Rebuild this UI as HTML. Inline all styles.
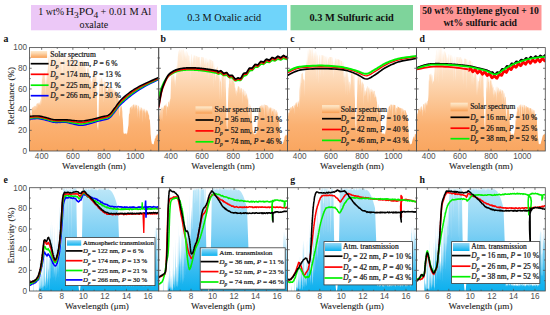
<!DOCTYPE html><html><head><meta charset="utf-8"><style>
html,body{margin:0;padding:0;background:#fff;}body{width:550px;height:315px;overflow:hidden;}
svg{display:block;}
.sr{font-family:"Liberation Serif",serif;}.srs{font-family:"Liberation Serif",serif;stroke:#222;stroke-width:0.22px;}.sra{font-family:"Liberation Serif",serif;stroke:#333;stroke-width:0.1px;}.ss{font-family:"Liberation Sans",sans-serif;}
</style></head><body>
<svg width="550" height="315" viewBox="0 0 550 315">
<defs>
<linearGradient id="gOr" x1="0" y1="47.6" x2="0" y2="151.0" gradientUnits="userSpaceOnUse">
<stop offset="0" stop-color="#fff3e6"/><stop offset="0.5" stop-color="#fcc898"/><stop offset="0.75" stop-color="#fbb172"/><stop offset="1" stop-color="#f9a660"/></linearGradient>
<linearGradient id="gBl" x1="0" y1="187.7" x2="0" y2="291.0" gradientUnits="userSpaceOnUse">
<stop offset="0" stop-color="#bde7f8"/><stop offset="0.45" stop-color="#7ccff4"/><stop offset="1" stop-color="#0cb0ee"/></linearGradient>
<linearGradient id="gOrL" x1="0" y1="0" x2="0" y2="1"><stop offset="0" stop-color="#feeacd"/><stop offset="0.35" stop-color="#fcd5aa"/><stop offset="1" stop-color="#f89e52"/></linearGradient>
<linearGradient id="gBlL" x1="0" y1="0" x2="0" y2="1"><stop offset="0" stop-color="#98d9f6"/><stop offset="1" stop-color="#0cb3f0"/></linearGradient>
<clipPath id="ct0"><rect x="29.5" y="47.6" width="129.2" height="103.4"/></clipPath>
<clipPath id="cb0"><rect x="29.5" y="187.7" width="129.2" height="103.3"/></clipPath>
<clipPath id="ct1"><rect x="158.7" y="47.6" width="128.8" height="103.4"/></clipPath>
<clipPath id="cb1"><rect x="158.7" y="187.7" width="128.8" height="103.3"/></clipPath>
<clipPath id="ct2"><rect x="287.5" y="47.6" width="129.0" height="103.4"/></clipPath>
<clipPath id="cb2"><rect x="287.5" y="187.7" width="129.0" height="103.3"/></clipPath>
<clipPath id="ct3"><rect x="416.5" y="47.6" width="128.8" height="103.4"/></clipPath>
<clipPath id="cb3"><rect x="416.5" y="187.7" width="128.8" height="103.3"/></clipPath>
</defs>
<rect x="31" y="5" width="126" height="25.3" fill="#ecc8f7"/>
<rect x="161" y="5" width="126" height="25.3" fill="#6fd4fa"/>
<rect x="290.5" y="5" width="122.5" height="25.3" fill="#7ed49b"/>
<rect x="420" y="5" width="121.5" height="25.3" fill="#ff9595"/>
<text class="sr" x="38.20" y="14.90" font-size="10.20" text-anchor="start" textLength="25.8" lengthAdjust="spacingAndGlyphs" fill="#111">1 wt%</text>
<text class="sr" x="65.80" y="14.90" font-size="10.40" text-anchor="start" textLength="32.4" lengthAdjust="spacingAndGlyphs" fill="#111">H<tspan font-size="8.6" dy="2.7">3</tspan><tspan dy="-2.7">PO</tspan><tspan font-size="8.6" dy="2.7">4</tspan></text>
<text class="sr" x="100.50" y="14.90" font-size="10.40" text-anchor="start" textLength="50.6" lengthAdjust="spacingAndGlyphs" fill="#111">+ 0.01 M Al</text>
<text class="sr" x="79.40" y="28.00" font-size="10.00" text-anchor="start" textLength="28.8" lengthAdjust="spacingAndGlyphs" fill="#111">oxalate</text>
<text class="sr" x="187.20" y="21.20" font-size="10.20" text-anchor="start" textLength="74.0" lengthAdjust="spacingAndGlyphs" fill="#111">0.3 M Oxalic acid</text>
<text class="sr" x="309.40" y="20.60" font-size="10.20" font-weight="bold" text-anchor="start" textLength="84.4" lengthAdjust="spacingAndGlyphs" fill="#111">0.3 M Sulfuric acid</text>
<text class="sr" x="422.20" y="14.30" font-size="10.00" font-weight="bold" text-anchor="start" textLength="116.6" lengthAdjust="spacingAndGlyphs" fill="#111">50 wt% Ethylene glycol + 10</text>
<text class="sr" x="443.40" y="26.10" font-size="10.00" font-weight="bold" text-anchor="start" textLength="73.6" lengthAdjust="spacingAndGlyphs" fill="#111">wt% sulfuric acid</text>
<text class="sr" x="3.6" y="41.7" font-size="9.8" font-weight="bold" fill="#111">a</text>
<text class="sr" x="160.6" y="41.7" font-size="9.8" font-weight="bold" fill="#111">b</text>
<text class="sr" x="290.2" y="41.7" font-size="9.8" font-weight="bold" fill="#111">c</text>
<text class="sr" x="419.4" y="41.7" font-size="9.8" font-weight="bold" fill="#111">d</text>
<text class="sr" x="3.6" y="182.8" font-size="9.8" font-weight="bold" fill="#111">e</text>
<text class="sr" x="160.8" y="182.6" font-size="9.8" font-weight="bold" fill="#111">f</text>
<text class="sr" x="290.2" y="182.6" font-size="9.8" font-weight="bold" fill="#111">g</text>
<text class="sr" x="419.4" y="182.6" font-size="9.8" font-weight="bold" fill="#111">h</text>
<polygon points="29.50,151.00 29.50,119.98 29.69,118.43 29.87,116.88 30.06,115.33 30.25,113.78 30.44,112.23 30.62,113.15 30.81,109.56 31.00,109.31 31.18,113.51 31.37,120.77 31.56,108.56 31.75,122.99 31.93,108.07 32.12,107.82 32.31,107.57 32.50,107.53 32.68,107.32 32.87,110.12 33.06,107.23 33.24,106.95 33.43,111.29 33.62,106.70 33.81,106.58 33.99,106.46 34.18,106.33 34.37,106.21 34.55,111.46 34.74,105.96 34.93,105.83 35.12,105.71 35.30,106.84 35.49,105.81 35.68,105.17 35.86,109.61 36.05,110.00 36.24,104.43 36.43,107.62 36.61,103.93 36.80,103.68 36.99,103.44 37.18,103.73 37.36,103.19 37.55,103.06 37.74,103.44 37.92,108.39 38.11,102.69 38.30,104.00 38.49,102.79 38.67,102.32 38.86,105.47 39.05,103.19 39.23,101.95 39.42,105.62 39.61,104.19 39.80,103.17 39.98,101.45 40.17,101.16 40.36,105.90 40.54,102.34 40.73,99.30 40.92,98.68 41.11,104.34 41.29,99.10 41.48,92.68 41.67,88.17 41.86,81.30 42.04,74.48 42.23,80.00 42.42,78.65 42.60,74.48 42.79,74.48 42.98,74.48 43.17,74.48 43.35,75.74 43.54,74.07 43.73,73.82 43.91,75.34 44.10,73.33 44.29,73.08 44.48,81.74 44.66,72.58 44.85,72.75 45.04,74.70 45.22,100.43 45.41,82.09 45.60,84.06 45.79,77.71 45.97,80.22 46.16,79.70 46.35,86.31 46.54,78.45 46.72,76.22 46.91,73.99 47.10,80.48 47.28,69.68 47.47,71.76 47.66,70.36 47.85,68.87 48.03,65.07 48.22,59.80 48.41,58.44 48.59,57.07 48.78,55.71 48.97,54.34 49.16,53.39 49.34,83.27 49.53,50.62 49.72,50.37 49.90,72.58 50.09,49.87 50.28,49.63 50.47,61.57 50.65,68.60 50.84,48.88 51.03,48.63 51.22,48.76 51.40,48.88 51.59,49.01 51.78,49.13 51.96,57.62 52.15,49.38 52.34,49.50 52.53,59.24 52.71,49.50 52.90,49.25 53.09,49.01 53.27,55.91 53.46,48.51 53.65,71.25 53.84,48.01 54.02,47.77 54.21,47.81 54.40,57.47 54.58,49.05 54.77,59.86 54.96,76.73 55.15,71.97 55.33,51.53 55.52,60.43 55.71,52.77 55.90,52.52 56.08,52.27 56.27,52.16 56.46,59.85 56.64,53.55 56.83,51.28 57.02,51.03 57.21,61.51 57.39,58.87 57.58,56.28 57.77,51.36 57.95,51.61 58.14,51.86 58.33,59.03 58.52,53.97 58.70,52.60 58.89,52.94 59.08,53.43 59.26,53.93 59.45,54.42 59.64,56.87 59.83,55.42 60.01,58.36 60.20,63.51 60.39,56.91 60.58,66.05 60.76,56.16 60.95,55.79 61.14,56.47 61.32,55.04 61.51,78.56 61.70,54.30 61.89,63.15 62.07,58.51 62.26,54.01 62.45,82.26 62.63,55.89 62.82,75.66 63.01,61.80 63.20,54.63 63.38,54.76 63.57,54.86 63.76,54.92 63.94,60.46 64.13,55.17 64.32,55.11 64.51,55.17 64.69,58.36 64.88,63.30 65.07,55.35 65.26,55.42 65.44,55.48 65.63,64.61 65.82,55.60 66.00,86.78 66.19,55.73 66.38,60.97 66.57,55.85 66.75,55.91 66.94,62.46 67.13,56.04 67.31,56.10 67.50,56.16 67.69,56.22 67.88,56.29 68.06,64.55 68.25,56.41 68.44,56.47 68.62,56.53 68.81,66.79 69.00,56.66 69.19,56.72 69.37,56.78 69.56,56.84 69.75,67.18 69.94,56.91 70.12,57.84 70.31,63.12 70.50,56.91 70.68,56.91 70.87,83.55 71.06,83.25 71.25,60.69 71.43,56.91 71.62,58.58 71.81,56.91 71.99,56.91 72.18,56.91 72.37,56.91 72.56,56.91 72.74,56.91 72.93,56.93 73.12,64.27 73.30,57.05 73.49,65.32 73.68,57.17 73.87,57.24 74.05,57.30 74.24,57.36 74.43,61.70 74.62,57.49 74.80,57.55 74.99,67.14 75.18,57.67 75.36,57.73 75.55,57.80 75.74,63.85 75.93,57.92 76.11,57.98 76.30,89.58 76.49,58.11 76.67,67.09 76.86,58.23 77.05,58.29 77.24,58.35 77.42,75.87 77.61,69.10 77.80,58.54 77.98,63.85 78.17,63.47 78.36,58.73 78.55,58.79 78.73,58.85 78.92,61.03 79.11,58.97 79.30,59.04 79.48,67.69 79.67,65.40 79.86,66.79 80.04,63.20 80.23,59.35 80.42,67.44 80.61,65.08 80.79,61.70 80.98,59.59 81.17,63.77 81.35,65.52 81.54,62.02 81.73,59.84 81.92,59.90 82.10,59.97 82.29,60.05 82.48,60.17 82.66,60.30 82.85,68.47 83.04,60.55 83.23,60.67 83.41,64.20 83.60,60.92 83.79,71.82 83.98,61.17 84.16,63.87 84.35,61.41 84.54,62.58 84.72,61.66 84.91,70.24 85.10,66.22 85.29,62.03 85.47,70.38 85.66,67.59 85.85,70.90 86.03,74.21 86.22,81.98 86.41,77.24 86.60,75.17 86.78,73.11 86.97,71.71 87.16,69.34 87.34,68.07 87.53,67.76 87.72,67.45 87.91,69.00 88.09,75.32 88.28,66.52 88.47,66.21 88.66,69.02 88.84,68.20 89.03,69.19 89.22,70.18 89.40,75.65 89.59,72.17 89.78,78.77 89.97,93.01 90.15,75.15 90.34,80.22 90.53,77.13 90.71,79.83 90.90,83.40 91.09,101.98 91.28,80.39 91.46,81.10 91.65,81.81 91.84,82.52 92.02,86.61 92.21,79.91 92.40,78.21 92.59,76.50 92.77,83.13 92.96,73.09 93.15,71.38 93.34,71.38 93.52,79.95 93.71,71.38 93.90,71.38 94.08,71.38 94.27,71.38 94.46,78.29 94.65,80.90 94.83,71.38 95.02,81.29 95.21,71.38 95.39,71.38 95.58,80.41 95.77,71.38 95.96,77.69 96.14,71.38 96.33,74.07 96.52,90.40 96.70,90.20 96.89,98.27 97.08,106.33 97.27,114.40 97.45,128.61 97.64,126.18 97.83,128.86 98.02,130.77 98.20,128.01 98.39,123.35 98.58,112.22 98.76,104.47 98.95,98.68 99.14,92.89 99.33,87.10 99.51,81.31 99.70,75.52 99.89,91.44 100.07,75.87 100.26,100.45 100.45,80.46 100.64,80.84 100.82,76.58 101.01,101.32 101.20,81.62 101.38,77.11 101.57,79.82 101.76,77.47 101.95,77.65 102.13,84.12 102.32,78.12 102.51,78.55 102.70,84.93 102.88,86.34 103.07,78.71 103.26,103.84 103.44,79.06 103.63,101.98 103.82,83.52 104.01,79.59 104.19,84.50 104.38,80.62 104.57,81.20 104.75,81.78 104.94,82.36 105.13,82.94 105.32,83.51 105.50,89.11 105.69,84.67 105.88,85.66 106.06,85.83 106.25,89.84 106.44,87.01 106.63,87.72 106.81,92.80 107.00,94.91 107.19,89.85 107.38,90.56 107.56,90.77 107.75,89.99 107.94,90.06 108.12,88.44 108.31,87.67 108.50,86.89 108.69,88.23 108.87,85.94 109.06,86.06 109.25,86.19 109.43,86.31 109.62,86.44 109.81,88.49 110.00,86.69 110.18,86.81 110.37,86.93 110.56,88.42 110.74,90.44 110.93,87.31 111.12,91.56 111.31,89.47 111.49,87.68 111.68,87.80 111.87,87.93 112.06,91.67 112.24,90.77 112.43,88.30 112.62,88.42 112.80,91.16 112.99,88.67 113.18,88.79 113.37,88.92 113.55,92.20 113.74,95.18 113.93,94.13 114.11,89.41 114.30,93.59 114.49,89.66 114.68,89.79 114.86,92.62 115.05,108.71 115.24,91.93 115.42,90.28 115.61,90.41 115.80,90.53 115.99,96.27 116.17,95.27 116.36,90.90 116.55,97.40 116.74,91.52 116.92,92.02 117.11,93.52 117.30,98.06 117.48,94.32 117.67,94.01 117.86,94.50 118.05,95.00 118.23,95.49 118.42,95.99 118.61,101.74 118.79,99.04 118.98,105.25 119.17,103.93 119.36,110.25 119.54,114.53 119.73,116.69 119.92,115.14 120.10,110.05 120.29,107.57 120.48,105.09 120.67,103.64 120.85,108.52 121.04,104.88 121.23,105.63 121.42,106.12 121.60,106.74 121.79,107.37 121.98,108.56 122.16,110.05 122.35,111.54 122.54,120.30 122.73,115.95 122.91,121.17 123.10,124.63 123.29,128.46 123.47,134.43 123.66,132.74 123.85,132.18 124.04,133.89 124.22,133.42 124.41,133.42 124.60,133.42 124.78,134.13 124.97,133.42 125.16,133.42 125.35,133.42 125.53,133.42 125.72,133.42 125.91,133.42 126.10,133.42 126.28,135.16 126.47,133.42 126.66,133.42 126.84,133.42 127.03,133.42 127.22,133.01 127.41,131.77 127.59,130.53 127.78,129.29 127.97,128.05 128.15,126.80 128.34,125.87 128.53,123.87 128.72,117.91 128.90,115.34 129.09,113.32 129.28,114.27 129.46,113.55 129.65,111.90 129.84,108.19 130.03,108.10 130.21,107.37 130.40,106.95 130.59,106.54 130.78,108.07 130.96,107.38 131.15,109.91 131.34,105.88 131.52,106.72 131.71,106.49 131.90,105.38 132.09,108.23 132.27,105.05 132.46,104.88 132.65,109.65 132.83,104.55 133.02,107.53 133.21,104.47 133.40,104.47 133.58,104.75 133.77,104.47 133.96,104.47 134.14,107.42 134.33,104.47 134.52,110.00 134.71,104.47 134.89,104.53 135.08,104.47 135.27,108.92 135.46,104.53 135.64,104.59 135.83,105.53 136.02,106.16 136.20,104.78 136.39,104.84 136.58,104.90 136.77,104.97 136.95,107.98 137.14,109.33 137.33,118.33 137.51,105.21 137.70,105.28 137.89,109.65 138.08,105.40 138.26,113.11 138.45,105.55 138.64,105.67 138.82,105.79 139.01,105.92 139.20,110.30 139.39,111.10 139.57,119.22 139.76,109.32 139.95,106.54 140.14,111.09 140.32,108.43 140.51,111.63 140.70,107.03 140.88,107.16 141.07,110.89 141.26,109.47 141.45,107.53 141.63,107.61 141.82,107.68 142.01,107.74 142.19,113.50 142.38,107.86 142.57,110.84 142.76,107.99 142.94,122.96 143.13,108.11 143.32,111.34 143.50,110.16 143.69,108.30 143.88,110.08 144.07,111.83 144.25,109.50 144.44,108.54 144.63,113.41 144.82,108.73 145.00,108.85 145.19,113.15 145.38,111.17 145.56,119.13 145.75,109.35 145.94,111.48 146.13,109.60 146.31,109.72 146.50,113.11 146.69,110.58 146.87,110.45 147.06,110.22 147.25,112.84 147.44,110.47 147.62,110.59 147.81,110.90 148.00,113.13 148.18,112.30 148.37,116.10 148.56,113.57 148.75,114.24 148.93,114.91 149.12,115.57 149.31,120.27 149.50,119.57 149.68,119.09 149.87,119.51 150.06,122.70 150.24,125.89 150.43,129.08 150.62,133.99 150.81,135.46 150.99,137.49 151.18,139.66 151.37,141.29 151.55,141.83 151.74,143.28 151.93,143.76 152.12,143.76 152.30,144.58 152.49,143.76 152.68,143.83 152.86,144.26 153.05,143.76 153.24,144.57 153.43,144.16 153.61,144.61 153.80,144.06 153.99,142.38 154.18,141.56 154.36,140.73 154.55,141.11 154.74,139.21 154.92,138.59 155.11,137.97 155.30,138.70 155.49,138.27 155.67,137.14 155.86,135.49 156.05,136.33 156.23,135.29 156.42,136.82 156.61,134.73 156.80,134.54 156.98,135.69 157.17,134.15 157.36,135.17 157.54,133.77 157.73,134.80 157.92,133.39 158.11,134.05 158.29,133.06 158.48,134.03 158.67,133.98 158.70,151.00" fill="url(#gOr)" clip-path="url(#ct0)"/>
<polygon points="158.70,151.00 158.70,119.98 158.89,118.43 159.07,116.88 159.26,115.37 159.45,115.00 159.64,112.23 159.82,110.67 160.01,109.56 160.20,109.31 160.38,109.06 160.57,111.04 160.76,113.18 160.95,120.55 161.13,118.39 161.32,109.92 161.51,107.57 161.70,108.37 161.88,107.32 162.07,107.20 162.26,122.25 162.44,106.95 162.63,109.07 162.82,108.36 163.01,106.58 163.19,110.18 163.38,109.01 163.57,106.21 163.75,108.34 163.94,105.96 164.13,105.83 164.32,105.88 164.50,105.59 164.69,105.42 164.88,105.17 165.06,104.92 165.25,106.70 165.44,104.43 165.63,104.18 165.81,105.26 166.00,106.59 166.19,103.44 166.38,103.31 166.56,116.95 166.75,106.05 166.94,105.40 167.12,107.28 167.31,105.88 167.50,106.61 167.69,107.14 167.87,106.04 168.06,110.04 168.25,103.73 168.43,101.95 168.62,101.82 168.81,101.70 169.00,101.57 169.18,106.95 169.37,102.29 169.56,100.54 169.74,99.92 169.93,104.15 170.12,98.68 170.31,99.59 170.49,98.19 170.68,92.68 170.87,85.86 171.06,79.03 171.24,74.48 171.43,83.12 171.62,74.48 171.80,74.48 171.99,74.48 172.18,79.33 172.37,74.48 172.55,74.32 172.74,82.81 172.93,73.82 173.11,76.28 173.30,73.33 173.49,81.90 173.68,72.83 173.86,72.58 174.05,72.75 174.24,76.38 174.42,80.99 174.61,75.72 174.80,84.62 174.99,79.83 175.17,87.20 175.36,79.70 175.55,80.69 175.74,78.45 175.92,76.22 176.11,73.99 176.30,77.35 176.48,69.52 176.67,67.29 176.86,65.05 177.05,66.72 177.23,61.17 177.42,59.80 177.61,81.44 177.79,57.07 177.98,55.71 178.17,54.34 178.36,52.98 178.54,51.61 178.73,50.62 178.92,51.56 179.10,53.90 179.29,49.87 179.48,49.63 179.67,49.38 179.85,49.13 180.04,55.43 180.23,48.63 180.42,51.77 180.60,52.85 180.79,49.01 180.98,50.24 181.16,57.75 181.35,49.38 181.54,49.50 181.73,49.63 181.91,49.86 182.10,49.25 182.29,51.20 182.47,48.76 182.66,51.44 182.85,59.90 183.04,61.00 183.22,50.26 183.41,50.54 183.60,48.43 183.78,49.05 183.97,49.67 184.16,55.90 184.35,50.91 184.53,51.53 184.72,57.60 184.91,52.77 185.10,52.52 185.28,58.65 185.47,52.03 185.66,59.80 185.84,51.53 186.03,51.28 186.22,51.03 186.41,50.78 186.59,59.67 186.78,57.11 186.97,55.04 187.15,54.30 187.34,51.86 187.53,52.65 187.72,52.36 187.90,63.66 188.09,52.94 188.28,63.65 188.46,53.93 188.65,55.88 188.84,54.92 189.03,55.42 189.21,55.91 189.40,56.41 189.59,63.88 189.78,61.15 189.96,60.54 190.15,65.01 190.34,57.77 190.52,66.23 190.71,54.67 190.90,82.57 191.09,53.93 191.27,53.89 191.46,62.56 191.65,55.73 191.83,54.26 192.02,54.38 192.21,64.69 192.40,65.03 192.58,60.52 192.77,63.12 192.96,57.11 193.14,58.58 193.33,55.04 193.52,55.11 193.71,63.05 193.89,55.23 194.08,61.35 194.27,55.35 194.46,55.42 194.64,55.48 194.83,55.54 195.02,55.60 195.20,55.67 195.39,60.47 195.58,55.79 195.77,55.85 195.95,66.47 196.14,55.98 196.33,56.04 196.51,56.10 196.70,56.16 196.89,56.22 197.08,60.90 197.26,56.35 197.45,56.41 197.64,56.47 197.82,57.24 198.01,57.55 198.20,56.94 198.39,58.00 198.57,56.78 198.76,56.84 198.95,56.91 199.14,56.91 199.32,56.91 199.51,56.91 199.70,64.41 199.88,56.91 200.07,56.91 200.26,65.45 200.45,63.04 200.63,59.64 200.82,76.89 201.01,56.91 201.19,56.91 201.38,56.91 201.57,56.91 201.76,60.27 201.94,56.91 202.13,56.93 202.32,56.99 202.50,64.57 202.69,57.11 202.88,57.17 203.07,57.24 203.25,57.30 203.44,61.65 203.63,57.42 203.82,57.49 204.00,57.55 204.19,64.61 204.38,57.67 204.56,60.31 204.75,64.64 204.94,63.90 205.13,57.92 205.31,57.98 205.50,62.71 205.69,66.32 205.87,58.17 206.06,64.33 206.25,58.29 206.44,58.35 206.62,61.86 206.81,69.55 207.00,64.11 207.18,58.60 207.37,63.09 207.56,62.30 207.75,62.66 207.93,58.85 208.12,62.58 208.31,58.97 208.50,64.73 208.68,59.10 208.87,80.75 209.06,61.98 209.24,59.28 209.43,59.35 209.62,59.41 209.81,64.28 209.99,68.77 210.18,61.75 210.37,59.66 210.55,59.72 210.74,59.78 210.93,59.84 211.12,59.90 211.30,59.97 211.49,60.05 211.68,65.25 211.86,68.08 212.05,60.42 212.24,66.26 212.43,60.67 212.61,60.79 212.80,60.92 212.99,61.04 213.18,61.17 213.36,64.59 213.55,89.33 213.74,61.54 213.92,72.03 214.11,61.79 214.30,70.86 214.49,65.39 214.67,68.59 214.86,69.06 215.05,73.85 215.23,75.33 215.42,77.52 215.61,81.58 215.80,75.17 215.98,73.11 216.17,73.23 216.36,68.97 216.54,68.07 216.73,67.76 216.92,67.45 217.11,69.04 217.29,66.83 217.48,66.52 217.67,66.21 217.86,67.20 218.04,73.50 218.23,69.19 218.42,76.17 218.60,79.20 218.79,72.17 218.98,73.16 219.17,74.35 219.35,75.15 219.54,79.73 219.73,100.92 219.91,78.12 220.10,78.97 220.29,79.68 220.48,80.39 220.66,81.10 220.85,81.81 221.04,82.52 221.22,89.12 221.41,99.72 221.60,78.21 221.79,76.50 221.97,74.79 222.16,76.90 222.35,71.38 222.54,71.38 222.72,71.38 222.91,71.38 223.10,71.38 223.28,71.38 223.47,71.38 223.66,74.12 223.85,74.82 224.03,98.57 224.22,77.14 224.41,80.61 224.59,71.38 224.78,79.28 224.97,71.38 225.16,71.38 225.34,75.23 225.53,74.07 225.72,86.84 225.90,90.20 226.09,98.27 226.28,106.33 226.47,114.40 226.65,125.05 226.84,126.69 227.03,132.80 227.22,129.53 227.40,127.73 227.59,121.19 227.78,112.22 227.96,104.47 228.15,98.68 228.34,92.89 228.53,87.10 228.71,88.60 228.90,84.01 229.09,84.08 229.27,75.87 229.46,76.05 229.65,76.23 229.84,77.49 230.02,76.58 230.21,81.32 230.40,84.22 230.58,77.11 230.77,77.29 230.96,77.47 231.15,85.67 231.33,78.27 231.52,78.00 231.71,78.18 231.90,78.35 232.08,78.53 232.27,80.61 232.46,81.26 232.64,79.06 232.83,79.24 233.02,79.42 233.21,79.59 233.39,80.04 233.58,80.62 233.77,81.20 233.95,81.78 234.14,82.36 234.33,82.94 234.52,83.51 234.70,84.09 234.89,88.43 235.08,86.47 235.26,89.05 235.45,91.25 235.64,94.60 235.83,87.72 236.01,88.43 236.20,92.04 236.39,96.91 236.58,90.56 236.76,90.77 236.95,89.99 237.14,93.23 237.32,90.88 237.51,87.67 237.70,88.69 237.89,86.12 238.07,85.94 238.26,86.06 238.45,86.88 238.63,86.31 238.82,86.44 239.01,86.56 239.20,86.69 239.38,94.34 239.57,86.93 239.76,87.06 239.94,89.29 240.13,87.31 240.32,93.99 240.51,88.16 240.69,89.74 240.88,87.80 241.07,87.93 241.26,88.05 241.44,88.49 241.63,88.30 241.82,89.92 242.00,95.01 242.19,89.14 242.38,88.79 242.57,104.87 242.75,91.27 242.94,92.42 243.13,89.29 243.31,89.41 243.50,89.54 243.69,93.43 243.88,95.62 244.06,89.91 244.25,97.17 244.44,90.16 244.62,90.87 244.81,96.87 245.00,95.76 245.19,95.42 245.37,95.08 245.56,90.90 245.75,91.03 245.94,98.55 246.12,98.74 246.31,92.52 246.50,93.01 246.68,95.40 246.87,94.01 247.06,94.50 247.25,100.16 247.43,95.49 247.62,97.63 247.81,100.85 247.99,96.98 248.18,99.47 248.37,103.93 248.56,108.40 248.74,116.05 248.93,115.02 249.12,112.54 249.30,122.79 249.49,109.89 249.68,105.09 249.87,103.64 250.05,104.26 250.24,106.53 250.43,105.50 250.62,119.84 250.80,108.83 250.99,111.10 251.18,109.25 251.36,111.93 251.55,111.54 251.74,113.03 251.93,121.62 252.11,121.43 252.30,124.97 252.49,129.18 252.67,130.70 252.86,130.94 253.05,132.18 253.24,133.42 253.42,133.42 253.61,133.42 253.80,133.65 253.98,133.42 254.17,133.42 254.36,133.42 254.55,135.09 254.73,133.42 254.92,134.72 255.11,133.42 255.30,133.42 255.48,133.92 255.67,133.42 255.86,134.43 256.04,133.80 256.23,133.42 256.42,133.41 256.61,132.79 256.79,130.68 256.98,129.29 257.17,133.94 257.35,126.80 257.54,124.53 257.73,121.22 257.92,119.59 258.10,114.92 258.29,111.29 258.48,123.73 258.66,109.02 258.85,108.61 259.04,121.58 259.23,107.78 259.41,107.37 259.60,106.95 259.79,106.54 259.98,106.37 260.16,106.21 260.35,106.04 260.54,105.88 260.72,109.12 260.91,105.55 261.10,105.38 261.29,105.21 261.47,109.02 261.66,107.55 261.85,104.72 262.03,104.55 262.22,106.86 262.41,107.93 262.60,107.59 262.78,104.47 262.97,105.72 263.16,104.47 263.34,106.91 263.53,108.28 263.72,109.97 263.91,104.47 264.09,104.47 264.28,104.47 264.47,104.47 264.66,119.62 264.84,109.88 265.03,104.66 265.22,108.69 265.40,104.78 265.59,104.84 265.78,104.90 265.97,104.97 266.15,105.03 266.34,105.09 266.53,115.41 266.71,105.21 266.90,105.28 267.09,105.34 267.28,105.40 267.46,106.53 267.65,105.55 267.84,119.96 268.02,107.88 268.21,105.92 268.40,113.08 268.59,106.17 268.77,107.23 268.96,121.21 269.15,110.11 269.34,106.66 269.52,109.75 269.71,106.91 269.90,108.33 270.08,107.16 270.27,109.85 270.46,107.41 270.65,107.53 270.83,107.61 271.02,107.68 271.21,107.74 271.39,107.80 271.58,116.53 271.77,111.83 271.96,108.62 272.14,112.33 272.33,108.11 272.52,108.17 272.70,111.55 272.89,110.78 273.08,113.20 273.27,108.42 273.45,111.04 273.64,108.54 273.83,108.61 274.02,123.09 274.20,108.85 274.39,108.98 274.58,109.10 274.76,109.97 274.95,123.36 275.14,109.47 275.33,112.59 275.51,109.72 275.70,109.85 275.89,120.80 276.07,113.00 276.26,110.22 276.45,110.34 276.64,110.47 276.82,114.55 277.01,113.61 277.20,111.56 277.38,112.23 277.57,114.98 277.76,117.37 277.95,118.25 278.13,114.91 278.32,118.82 278.51,116.24 278.70,118.12 278.88,120.92 279.07,120.64 279.26,122.70 279.44,125.89 279.63,130.90 279.82,134.05 280.01,135.46 280.19,137.49 280.38,138.94 280.57,141.47 280.75,142.47 280.94,143.28 281.13,144.18 281.32,143.76 281.50,143.76 281.69,144.12 281.88,143.76 282.06,143.76 282.25,144.35 282.44,143.76 282.63,143.76 282.81,143.76 283.00,143.48 283.19,142.38 283.38,141.70 283.56,141.82 283.75,139.90 283.94,140.26 284.12,139.52 284.31,140.60 284.50,137.35 284.69,136.73 284.87,136.11 285.06,136.34 285.25,135.30 285.43,136.53 285.62,134.92 285.81,134.73 286.00,134.54 286.18,135.98 286.37,134.15 286.56,135.43 286.74,134.96 286.93,134.55 287.12,135.28 287.31,133.23 287.49,133.06 287.50,151.00" fill="url(#gOr)" clip-path="url(#ct1)"/>
<polygon points="287.50,151.00 287.50,122.53 287.69,118.43 287.87,116.88 288.06,116.31 288.25,114.78 288.44,112.23 288.62,113.25 288.81,111.02 289.00,113.50 289.18,109.06 289.37,112.89 289.56,113.00 289.75,108.32 289.93,108.07 290.12,107.82 290.31,107.57 290.50,107.45 290.68,107.32 290.87,111.67 291.06,107.08 291.24,106.95 291.43,106.83 291.62,108.64 291.81,108.25 291.99,110.84 292.18,106.33 292.37,106.21 292.55,106.08 292.74,105.96 292.93,105.83 293.12,109.39 293.30,106.55 293.49,108.28 293.68,107.70 293.86,104.92 294.05,105.40 294.24,104.43 294.43,105.50 294.61,106.00 294.80,114.47 294.99,103.44 295.18,107.43 295.36,103.19 295.55,105.44 295.74,102.94 295.92,102.82 296.11,102.69 296.30,104.97 296.49,102.44 296.67,102.32 296.86,102.20 297.05,107.08 297.23,106.16 297.42,107.55 297.61,101.70 297.80,101.57 297.98,105.12 298.17,101.16 298.36,100.54 298.54,104.38 298.73,101.13 298.92,102.97 299.11,99.49 299.29,109.50 299.48,92.68 299.67,85.86 299.86,90.11 300.04,75.33 300.23,101.21 300.42,77.25 300.60,79.97 300.79,87.07 300.98,82.15 301.17,83.45 301.35,74.32 301.54,74.07 301.73,73.82 301.91,73.57 302.10,73.33 302.29,73.37 302.48,72.83 302.66,72.58 302.85,72.75 303.04,80.08 303.22,74.73 303.41,81.04 303.60,78.89 303.79,79.50 303.97,79.03 304.16,80.44 304.35,80.69 304.54,78.45 304.72,96.47 304.91,78.43 305.10,71.75 305.28,72.35 305.47,68.66 305.66,65.05 305.85,71.53 306.03,64.44 306.22,60.17 306.41,62.45 306.59,66.95 306.78,55.71 306.97,72.44 307.16,62.43 307.34,62.26 307.53,50.62 307.72,50.43 307.90,60.63 308.09,55.69 308.28,53.82 308.47,49.38 308.65,57.91 308.84,48.88 309.03,48.63 309.22,48.76 309.40,48.88 309.59,56.02 309.78,49.13 309.96,49.25 310.15,49.38 310.34,51.17 310.53,49.63 310.71,49.50 310.90,49.25 311.09,60.78 311.27,49.82 311.46,49.60 311.65,48.26 311.84,56.86 312.02,47.77 312.21,47.81 312.40,48.43 312.58,56.66 312.77,49.67 312.96,50.29 313.15,60.06 313.33,55.21 313.52,52.15 313.71,52.77 313.90,61.80 314.08,52.27 314.27,53.04 314.46,55.73 314.64,51.53 314.83,61.45 315.02,51.03 315.21,62.73 315.39,50.87 315.58,51.12 315.77,56.88 315.95,51.61 316.14,51.86 316.33,56.57 316.52,52.36 316.70,59.37 316.89,81.12 317.08,54.64 317.26,53.93 317.45,64.68 317.64,54.92 317.83,55.42 318.01,55.91 318.20,64.87 318.39,56.91 318.58,67.41 318.76,84.78 318.95,65.38 319.14,56.03 319.32,55.04 319.51,54.67 319.70,59.95 319.89,53.93 320.07,60.07 320.26,69.27 320.45,54.13 320.63,56.82 320.82,78.07 321.01,65.09 321.20,54.63 321.38,65.31 321.57,54.86 321.76,54.92 321.94,54.98 322.13,55.04 322.32,55.11 322.51,55.17 322.69,55.23 322.88,56.83 323.07,55.35 323.26,55.42 323.44,76.93 323.63,55.54 323.82,55.60 324.00,55.67 324.19,55.73 324.38,65.10 324.57,55.85 324.75,55.91 324.94,66.61 325.13,66.89 325.31,63.76 325.50,56.16 325.69,56.22 325.88,57.17 326.06,56.35 326.25,65.65 326.44,56.47 326.62,56.53 326.81,61.25 327.00,56.66 327.19,56.72 327.37,63.89 327.56,60.51 327.75,67.84 327.94,67.45 328.12,59.21 328.31,56.91 328.50,60.62 328.68,57.66 328.87,59.30 329.06,57.08 329.25,56.91 329.43,64.53 329.62,56.91 329.81,56.91 329.99,56.91 330.18,56.91 330.37,56.91 330.56,56.91 330.74,56.91 330.93,57.54 331.12,56.99 331.30,57.05 331.49,57.11 331.68,57.17 331.87,65.18 332.05,62.04 332.24,60.52 332.43,57.42 332.62,57.49 332.80,57.55 332.99,65.63 333.18,78.97 333.36,67.33 333.55,57.80 333.74,66.89 333.93,61.33 334.11,62.91 334.30,65.90 334.49,58.11 334.67,66.08 334.86,61.92 335.05,58.31 335.24,58.35 335.42,61.69 335.61,58.48 335.80,58.54 335.98,63.27 336.17,58.68 336.36,58.73 336.55,60.46 336.73,58.85 336.92,70.59 337.11,58.97 337.30,59.04 337.48,67.28 337.67,59.16 337.86,59.22 338.04,59.28 338.23,59.35 338.42,59.41 338.61,59.47 338.79,59.53 338.98,59.59 339.17,59.66 339.35,59.72 339.54,60.00 339.73,59.84 339.92,64.59 340.10,66.03 340.29,69.15 340.48,60.17 340.66,60.30 340.85,60.42 341.04,66.37 341.23,60.67 341.41,60.79 341.60,60.92 341.79,61.04 341.98,61.17 342.16,61.29 342.35,64.01 342.54,66.89 342.72,61.66 342.91,72.70 343.10,61.91 343.29,62.03 343.47,64.28 343.66,75.31 343.85,76.35 344.03,85.04 344.22,77.52 344.41,77.24 344.60,75.17 344.78,73.47 344.97,71.04 345.16,76.10 345.34,68.07 345.53,76.50 345.72,77.07 345.91,95.59 346.09,66.83 346.28,76.01 346.47,66.21 346.66,67.20 346.84,91.31 347.03,69.19 347.22,71.29 347.40,80.13 347.59,72.17 347.78,73.16 347.97,96.45 348.15,81.80 348.34,76.14 348.53,77.13 348.71,85.06 348.90,78.97 349.09,93.80 349.28,86.28 349.46,81.10 349.65,81.81 349.84,82.52 350.02,81.62 350.21,83.90 350.40,84.50 350.59,90.24 350.77,79.94 350.96,73.84 351.15,71.38 351.34,71.38 351.52,71.38 351.71,71.38 351.90,71.38 352.08,77.39 352.27,71.38 352.46,72.72 352.65,76.38 352.83,71.38 353.02,71.38 353.21,71.38 353.39,91.50 353.58,71.38 353.77,77.29 353.96,74.33 354.14,71.38 354.33,74.07 354.52,85.79 354.70,95.10 354.89,98.27 355.08,110.19 355.27,114.40 355.45,123.41 355.64,126.18 355.83,127.74 356.02,129.29 356.20,134.10 356.39,119.98 356.58,113.35 356.76,108.33 356.95,99.55 357.14,92.89 357.33,87.64 357.51,81.31 357.70,78.82 357.89,75.70 358.07,75.87 358.26,76.05 358.45,81.34 358.64,76.40 358.82,76.58 359.01,76.76 359.20,76.94 359.38,77.11 359.57,77.29 359.76,83.97 359.95,85.46 360.13,77.82 360.32,78.00 360.51,78.18 360.70,78.35 360.88,78.53 361.07,83.69 361.26,93.61 361.44,79.06 361.63,86.23 361.82,81.11 362.01,84.55 362.19,80.44 362.38,88.85 362.57,81.20 362.75,81.78 362.94,82.94 363.13,82.94 363.32,84.50 363.50,84.09 363.69,84.67 363.88,107.02 364.06,89.62 364.25,92.59 364.44,87.01 364.63,87.72 364.81,95.28 365.00,96.27 365.19,93.13 365.38,90.56 365.56,90.77 365.75,89.99 365.94,95.64 366.12,88.44 366.31,88.40 366.50,86.89 366.69,91.11 366.87,92.91 367.06,86.06 367.25,86.19 367.43,86.31 367.62,103.11 367.81,93.89 368.00,86.69 368.18,103.24 368.37,87.74 368.56,87.06 368.74,89.44 368.93,87.31 369.12,96.86 369.31,87.55 369.49,87.68 369.68,94.58 369.87,89.49 370.06,89.33 370.24,102.59 370.43,89.73 370.62,88.42 370.80,93.65 370.99,88.67 371.18,88.79 371.37,91.89 371.55,92.12 371.74,91.36 371.93,89.29 372.11,89.41 372.30,92.66 372.49,89.66 372.68,95.88 372.86,89.91 373.05,90.04 373.24,94.39 373.42,94.05 373.61,90.41 373.80,92.08 373.99,90.66 374.17,90.78 374.36,90.90 374.55,91.03 374.74,96.65 374.92,98.02 375.11,95.95 375.30,93.01 375.48,97.42 375.67,94.01 375.86,97.48 376.05,96.28 376.23,101.08 376.42,95.99 376.61,98.37 376.79,102.58 376.98,100.59 377.17,104.42 377.36,109.59 377.54,112.87 377.73,115.02 377.92,113.89 378.10,110.05 378.29,108.93 378.48,105.09 378.67,103.64 378.85,106.59 379.04,109.08 379.23,106.81 379.42,118.94 379.60,113.16 379.79,108.43 379.98,108.56 380.16,110.05 380.35,111.54 380.54,115.50 380.73,116.28 380.91,122.54 381.10,127.12 381.29,129.25 381.47,129.70 381.66,130.94 381.85,134.22 382.04,133.42 382.22,133.42 382.41,133.42 382.60,133.42 382.78,133.42 382.97,134.19 383.16,133.42 383.35,133.42 383.53,133.42 383.72,133.42 383.91,133.42 384.10,134.09 384.28,133.74 384.47,133.42 384.66,133.42 384.84,134.71 385.03,135.12 385.22,133.01 385.41,131.77 385.59,131.58 385.78,129.29 385.97,129.83 386.15,130.87 386.34,124.53 386.53,121.22 386.72,117.91 386.90,114.60 387.09,115.45 387.28,109.43 387.46,115.26 387.65,108.61 387.84,109.43 388.03,107.78 388.21,110.26 388.40,114.07 388.59,106.54 388.78,108.05 388.96,106.21 389.15,106.04 389.34,105.88 389.52,107.33 389.71,105.55 389.90,105.38 390.09,109.01 390.27,111.30 390.46,104.88 390.65,104.72 390.83,104.55 391.02,104.47 391.21,104.47 391.40,104.47 391.58,105.05 391.77,104.47 391.96,107.41 392.14,119.90 392.33,108.01 392.52,104.47 392.71,105.64 392.89,104.47 393.08,104.90 393.27,104.69 393.46,104.53 393.64,109.71 393.83,104.66 394.02,104.72 394.20,104.78 394.39,105.31 394.58,104.90 394.77,104.97 394.95,105.03 395.14,105.09 395.33,115.51 395.51,105.21 395.70,105.28 395.89,110.44 396.08,114.80 396.26,108.30 396.45,107.64 396.64,108.19 396.82,106.98 397.01,108.45 397.20,106.04 397.39,106.17 397.57,109.69 397.76,108.15 397.95,106.54 398.14,107.21 398.32,106.79 398.51,106.91 398.70,107.03 398.88,107.16 399.07,107.28 399.26,108.50 399.45,107.53 399.63,107.61 399.82,107.68 400.01,109.04 400.19,107.80 400.38,107.86 400.57,107.92 400.76,107.99 400.94,108.86 401.13,117.37 401.32,108.17 401.50,108.23 401.69,108.30 401.88,108.36 402.07,110.61 402.25,112.72 402.44,108.54 402.63,108.61 402.82,108.73 403.00,108.85 403.19,112.21 403.38,109.10 403.56,109.23 403.75,111.56 403.94,109.47 404.13,112.92 404.31,115.68 404.50,109.85 404.69,109.97 404.87,110.09 405.06,110.22 405.25,110.34 405.44,110.47 405.62,110.59 405.81,111.51 406.00,111.56 406.18,112.23 406.37,112.90 406.56,113.57 406.75,115.02 406.93,114.91 407.12,115.57 407.31,116.24 407.50,116.91 407.68,119.08 407.87,119.51 408.06,122.70 408.24,125.89 408.43,129.08 408.62,132.27 408.81,135.46 408.99,142.09 409.18,141.27 409.37,140.38 409.55,141.83 409.74,143.32 409.93,143.76 410.12,143.76 410.30,143.76 410.49,144.00 410.68,145.17 410.86,144.20 411.05,143.76 411.24,143.76 411.43,144.05 411.61,144.29 411.80,143.33 411.99,142.38 412.18,141.56 412.36,140.73 412.55,140.14 412.74,139.21 412.92,138.59 413.11,138.76 413.30,137.35 413.49,136.73 413.67,136.91 413.86,135.67 414.05,139.88 414.23,136.39 414.42,136.62 414.61,139.31 414.80,134.54 414.98,134.34 415.17,134.15 415.36,134.27 415.54,133.86 415.73,133.58 415.92,134.82 416.11,133.23 416.29,133.06 416.48,132.90 416.50,151.00" fill="url(#gOr)" clip-path="url(#ct2)"/>
<polygon points="416.50,151.00 416.50,122.60 416.69,118.43 416.87,116.88 417.06,116.42 417.25,113.78 417.44,112.23 417.62,113.99 417.81,113.42 418.00,110.43 418.18,109.06 418.37,110.13 418.56,108.56 418.75,108.32 418.93,110.91 419.12,107.82 419.31,110.97 419.50,109.21 419.68,110.45 419.87,107.20 420.06,112.30 420.24,110.16 420.43,106.83 420.62,106.70 420.81,109.72 420.99,106.46 421.18,106.84 421.37,106.21 421.55,106.08 421.74,108.41 421.93,110.16 422.12,105.71 422.30,110.05 422.49,109.90 422.68,117.05 422.86,107.83 423.05,112.47 423.24,104.43 423.43,104.18 423.61,103.93 423.80,103.68 423.99,106.83 424.18,111.23 424.36,108.15 424.55,103.06 424.74,105.35 424.92,102.82 425.11,102.69 425.30,114.52 425.49,102.44 425.67,104.35 425.86,102.20 426.05,102.07 426.23,103.73 426.42,105.53 426.61,101.70 426.80,103.88 426.98,106.87 427.17,101.16 427.36,100.54 427.54,105.66 427.73,100.86 427.92,101.36 428.11,99.52 428.29,97.44 428.48,94.42 428.67,85.86 428.86,79.03 429.04,81.48 429.23,79.64 429.42,74.48 429.60,74.48 429.79,74.48 429.98,74.48 430.17,74.48 430.35,77.85 430.54,74.07 430.73,73.82 430.91,73.57 431.10,81.86 431.29,73.08 431.48,81.59 431.66,72.58 431.85,75.21 432.04,75.60 432.22,74.73 432.41,78.06 432.60,81.57 432.79,84.61 432.97,81.90 433.16,80.80 433.35,81.92 433.54,78.45 433.72,82.22 433.91,79.97 434.10,71.75 434.28,78.64 434.47,67.29 434.66,65.05 434.85,75.37 435.03,66.23 435.22,59.80 435.41,58.44 435.59,79.43 435.78,55.71 435.97,54.34 436.16,82.71 436.34,63.31 436.53,50.62 436.72,50.37 436.90,50.12 437.09,77.97 437.28,51.27 437.47,56.56 437.65,65.16 437.84,48.88 438.03,48.63 438.22,48.76 438.40,60.79 438.59,57.34 438.78,49.13 438.96,84.74 439.15,61.44 439.34,49.50 439.53,49.63 439.71,49.50 439.90,54.69 440.09,60.46 440.27,53.66 440.46,48.51 440.65,48.26 440.84,48.01 441.02,47.77 441.21,47.81 441.40,48.43 441.58,60.07 441.77,65.21 441.96,50.29 442.15,50.91 442.33,59.65 442.52,52.15 442.71,55.12 442.90,82.23 443.08,52.27 443.27,58.20 443.46,54.42 443.64,54.57 443.83,51.28 444.02,52.12 444.21,50.78 444.39,50.87 444.58,74.72 444.77,51.36 444.95,51.61 445.14,51.86 445.33,54.78 445.52,52.36 445.70,52.60 445.89,52.94 446.08,57.80 446.26,53.93 446.45,61.41 446.64,54.92 446.83,55.42 447.01,61.59 447.20,56.41 447.39,58.89 447.58,56.53 447.76,65.91 447.95,66.12 448.14,55.42 448.32,61.04 448.51,54.67 448.70,54.30 448.89,53.93 449.07,65.06 449.26,63.30 449.45,71.33 449.63,58.72 449.82,54.38 450.01,54.51 450.20,59.29 450.38,54.76 450.57,54.86 450.76,58.97 450.94,54.98 451.13,55.04 451.32,64.52 451.51,55.17 451.69,55.41 451.88,65.61 452.07,57.64 452.26,55.42 452.44,65.22 452.63,59.98 452.82,55.60 453.00,64.53 453.19,64.53 453.38,55.79 453.57,83.24 453.75,55.91 453.94,62.72 454.13,62.17 454.31,56.10 454.50,62.23 454.69,66.04 454.88,56.29 455.06,56.35 455.25,81.09 455.44,74.88 455.62,66.75 455.81,61.95 456.00,56.66 456.19,57.45 456.37,56.78 456.56,56.84 456.75,67.05 456.94,59.99 457.12,56.91 457.31,56.91 457.50,56.91 457.68,56.91 457.87,71.77 458.06,58.95 458.25,59.66 458.43,62.68 458.62,56.91 458.81,56.91 458.99,56.91 459.18,58.92 459.37,56.91 459.56,60.78 459.74,56.91 459.93,56.93 460.12,56.99 460.30,57.05 460.49,57.11 460.68,67.80 460.87,57.24 461.05,57.30 461.24,60.10 461.43,59.33 461.62,57.49 461.80,60.27 461.99,57.61 462.18,60.06 462.36,60.35 462.55,81.94 462.74,57.86 462.93,67.96 463.11,57.98 463.30,68.81 463.49,67.13 463.67,58.17 463.86,85.73 464.05,63.88 464.24,58.35 464.42,58.42 464.61,59.03 464.80,58.54 464.98,58.60 465.17,58.66 465.36,58.73 465.55,58.79 465.73,58.85 465.92,58.91 466.11,58.97 466.30,59.04 466.48,60.47 466.67,59.16 466.86,90.46 467.04,63.95 467.23,62.90 467.42,59.41 467.61,59.47 467.79,70.52 467.98,70.11 468.17,64.53 468.35,59.72 468.54,63.99 468.73,62.43 468.92,59.90 469.10,65.53 469.29,60.05 469.48,60.17 469.66,60.30 469.85,60.42 470.04,60.55 470.23,60.67 470.41,60.79 470.60,60.92 470.79,61.04 470.98,70.44 471.16,61.29 471.35,61.41 471.54,65.46 471.72,84.49 471.91,67.08 472.10,61.91 472.29,62.03 472.47,64.28 472.66,67.59 472.85,79.83 473.03,85.30 473.22,77.52 473.41,77.24 473.60,75.17 473.78,73.11 473.97,71.41 474.16,78.13 474.34,77.52 474.53,67.76 474.72,76.19 474.91,68.00 475.09,66.83 475.28,73.10 475.47,75.17 475.66,72.94 475.84,68.20 476.03,69.19 476.22,70.18 476.40,86.30 476.59,95.69 476.78,75.74 476.97,79.88 477.15,92.13 477.34,79.04 477.53,95.93 477.71,78.12 477.90,78.97 478.09,81.82 478.28,80.39 478.46,81.10 478.65,81.81 478.84,89.75 479.02,81.62 479.21,79.91 479.40,78.21 479.59,76.50 479.77,74.79 479.96,77.55 480.15,90.15 480.34,73.11 480.52,71.38 480.71,71.38 480.90,80.20 481.08,71.38 481.27,76.61 481.46,81.32 481.65,71.38 481.83,71.38 482.02,71.38 482.21,71.86 482.39,73.48 482.58,71.38 482.77,71.38 482.96,71.38 483.14,71.38 483.33,77.60 483.52,85.42 483.70,96.11 483.89,98.27 484.08,110.90 484.27,118.23 484.45,122.46 484.64,126.18 484.83,127.74 485.02,129.29 485.20,127.73 485.39,119.98 485.58,112.22 485.76,104.47 485.95,104.50 486.14,92.89 486.33,87.10 486.51,88.73 486.70,78.54 486.89,75.70 487.07,92.83 487.26,83.87 487.45,77.18 487.64,76.40 487.82,76.58 488.01,76.76 488.20,79.53 488.38,81.99 488.57,82.25 488.76,77.47 488.95,77.65 489.13,82.04 489.32,90.05 489.51,78.18 489.70,94.80 489.88,78.53 490.07,81.47 490.26,78.89 490.44,81.39 490.63,79.24 490.82,79.42 491.01,81.29 491.19,80.04 491.38,80.62 491.57,86.93 491.75,81.78 491.94,85.76 492.13,82.94 492.32,87.94 492.50,84.09 492.69,87.97 492.88,88.44 493.06,98.77 493.25,86.41 493.44,87.01 493.63,87.72 493.81,94.44 494.00,94.44 494.19,89.85 494.38,90.56 494.56,97.70 494.75,89.99 494.94,89.22 495.12,93.91 495.31,90.77 495.50,92.01 495.69,86.12 495.87,93.23 496.06,96.90 496.25,87.03 496.43,93.65 496.62,102.70 496.81,86.56 497.00,86.69 497.18,86.81 497.37,94.04 497.56,87.98 497.74,92.53 497.93,87.31 498.12,87.43 498.31,91.17 498.49,94.99 498.68,87.80 498.87,87.93 499.06,88.92 499.24,93.13 499.43,88.30 499.62,92.03 499.80,89.54 499.99,92.34 500.18,88.79 500.37,88.92 500.55,91.22 500.74,91.78 500.93,89.29 501.11,89.41 501.30,93.64 501.49,93.82 501.68,90.25 501.86,89.91 502.05,107.60 502.24,90.16 502.42,90.28 502.61,90.41 502.80,90.53 502.99,90.66 503.17,91.34 503.36,94.73 503.55,91.03 503.74,96.58 503.92,98.71 504.11,92.52 504.30,93.01 504.48,94.69 504.67,102.83 504.86,97.33 505.05,114.48 505.23,95.49 505.42,96.98 505.61,97.19 505.79,96.98 505.98,99.47 506.17,103.93 506.36,117.45 506.54,112.87 506.73,118.38 506.92,119.52 507.10,110.05 507.29,108.09 507.48,105.09 507.67,103.64 507.85,108.36 508.04,108.29 508.23,105.50 508.42,106.12 508.60,111.13 508.79,107.74 508.98,109.33 509.16,110.05 509.35,124.88 509.54,113.03 509.73,127.54 509.91,120.29 510.10,126.41 510.29,128.82 510.47,136.30 510.66,131.43 510.85,132.82 511.04,133.42 511.22,133.81 511.41,137.77 511.60,135.15 511.78,133.42 511.97,134.41 512.16,133.42 512.35,133.42 512.53,135.35 512.72,133.42 512.91,135.20 513.10,138.50 513.28,135.50 513.47,134.71 513.66,134.49 513.84,133.42 514.03,133.55 514.22,133.22 514.41,131.77 514.59,130.53 514.78,130.13 514.97,129.29 515.15,128.62 515.34,126.71 515.53,121.22 515.72,117.91 515.90,120.73 516.09,111.29 516.28,123.09 516.46,109.56 516.65,121.36 516.84,115.24 517.03,107.78 517.21,107.37 517.40,106.95 517.59,106.54 517.78,112.56 517.96,111.00 518.15,109.62 518.34,108.24 518.52,105.71 518.71,109.07 518.90,105.38 519.09,105.21 519.27,105.05 519.46,118.11 519.65,110.12 519.83,104.55 520.02,107.37 520.21,104.47 520.40,104.47 520.58,107.74 520.77,104.47 520.96,104.47 521.14,107.01 521.33,116.62 521.52,118.71 521.71,104.47 521.89,104.47 522.08,107.55 522.27,107.02 522.46,104.53 522.64,107.40 522.83,104.66 523.02,104.72 523.20,104.78 523.39,115.55 523.58,105.91 523.77,109.91 523.95,105.03 524.14,105.09 524.33,105.15 524.51,105.21 524.70,109.16 524.89,105.34 525.08,105.40 525.26,108.07 525.45,106.89 525.64,120.98 525.82,105.79 526.01,105.92 526.20,106.04 526.39,106.17 526.57,106.29 526.76,109.05 526.95,106.54 527.14,107.86 527.32,106.79 527.51,106.91 527.70,107.71 527.88,107.16 528.07,107.28 528.26,107.41 528.45,107.53 528.63,107.61 528.82,110.70 529.01,107.74 529.19,107.80 529.38,113.01 529.57,109.50 529.76,107.99 529.94,108.05 530.13,108.11 530.32,108.17 530.50,108.23 530.69,108.30 530.88,108.59 531.07,108.42 531.25,110.80 531.44,108.54 531.63,108.61 531.82,113.41 532.00,111.47 532.19,108.98 532.38,109.10 532.56,113.70 532.75,113.47 532.94,109.47 533.13,109.60 533.31,111.65 533.50,114.83 533.69,110.75 533.87,110.09 534.06,110.22 534.25,110.34 534.44,111.05 534.62,114.54 534.81,113.58 535.00,114.87 535.18,118.64 535.37,115.24 535.56,116.64 535.75,114.24 535.93,115.22 536.12,117.02 536.31,116.24 536.50,117.42 536.68,117.58 536.87,119.51 537.06,125.03 537.24,128.81 537.43,130.46 537.62,132.50 537.81,135.46 537.99,137.49 538.18,138.94 538.37,140.38 538.55,141.83 538.74,143.45 538.93,143.99 539.12,144.20 539.30,144.07 539.49,143.76 539.68,143.76 539.86,144.25 540.05,144.31 540.24,143.76 540.43,144.49 540.61,143.76 540.80,143.21 540.99,142.54 541.18,141.56 541.36,140.73 541.55,140.49 541.74,139.87 541.92,138.59 542.11,138.53 542.30,137.35 542.49,136.73 542.67,136.11 542.86,135.49 543.05,135.30 543.23,135.11 543.42,134.92 543.61,134.73 543.80,134.54 543.98,134.34 544.17,134.15 544.36,133.96 544.54,133.77 544.73,135.12 544.92,133.39 545.11,133.25 545.29,135.16 545.30,151.00" fill="url(#gOr)" clip-path="url(#ct3)"/>
<polygon points="29.10,291.00 29.10,291.00 29.23,291.00 29.36,291.00 29.49,291.00 29.62,291.00 29.75,291.00 29.88,291.00 30.00,291.00 30.13,291.00 30.26,291.00 30.39,291.00 30.52,291.00 30.65,291.00 30.78,291.00 30.91,291.00 31.04,291.00 31.17,291.00 31.30,291.00 31.43,291.00 31.56,291.00 31.68,291.00 31.81,291.00 31.94,291.00 32.07,291.00 32.20,291.00 32.33,291.00 32.46,291.00 32.59,291.00 32.72,291.00 32.85,291.00 32.98,291.00 33.11,291.00 33.24,291.00 33.36,291.00 33.49,291.00 33.62,291.00 33.75,291.00 33.88,273.11 34.01,291.00 34.14,291.00 34.27,291.00 34.40,291.00 34.53,291.00 34.66,291.00 34.79,291.00 34.92,291.00 35.05,291.00 35.17,291.00 35.30,291.00 35.43,291.00 35.56,291.00 35.69,291.00 35.82,291.00 35.95,291.00 36.08,291.00 36.21,291.00 36.34,291.00 36.47,291.00 36.60,291.00 36.73,289.07 36.85,291.00 36.98,291.00 37.11,291.00 37.24,291.00 37.37,291.00 37.50,291.00 37.63,291.00 37.76,291.00 37.89,291.00 38.02,291.00 38.15,291.00 38.28,291.00 38.41,291.00 38.53,291.00 38.66,291.00 38.79,291.00 38.92,288.87 39.05,255.45 39.18,289.45 39.31,288.21 39.44,287.04 39.57,270.56 39.70,288.56 39.83,288.97 39.96,285.89 40.09,290.33 40.21,255.71 40.34,289.00 40.47,290.78 40.60,285.01 40.73,287.47 40.86,270.19 40.99,286.94 41.12,289.02 41.25,271.19 41.38,275.95 41.51,274.10 41.64,287.71 41.77,288.52 41.89,278.99 42.02,289.73 42.15,285.30 42.28,290.96 42.41,287.06 42.54,262.27 42.67,287.48 42.80,285.69 42.93,271.19 43.06,290.45 43.19,277.76 43.32,266.82 43.45,253.79 43.57,290.48 43.70,284.30 43.83,286.46 43.96,287.20 44.09,276.33 44.22,286.85 44.35,285.58 44.48,286.10 44.61,256.34 44.74,243.94 44.87,246.11 45.00,272.07 45.13,286.95 45.25,280.87 45.38,289.17 45.51,275.42 45.64,290.39 45.77,276.35 45.90,285.01 46.03,272.01 46.16,275.16 46.29,241.84 46.42,288.80 46.55,265.33 46.68,272.36 46.81,241.86 46.94,288.22 47.06,287.45 47.19,277.84 47.32,279.05 47.45,282.78 47.58,257.58 47.71,246.41 47.84,286.51 47.97,282.53 48.10,276.84 48.23,266.01 48.36,255.68 48.49,271.60 48.62,286.17 48.74,270.66 48.87,268.38 49.00,272.38 49.13,237.63 49.26,273.93 49.39,285.03 49.52,290.96 49.65,254.24 49.78,262.83 49.91,283.78 50.04,221.61 50.17,273.89 50.30,220.96 50.42,280.52 50.55,237.20 50.68,279.10 50.81,277.52 50.94,226.68 51.07,235.16 51.20,239.45 51.33,250.76 51.46,273.78 51.59,238.47 51.72,261.33 51.85,256.27 51.98,220.72 52.10,228.48 52.23,267.64 52.36,244.45 52.49,238.94 52.62,279.63 52.75,242.22 52.88,254.38 53.01,224.14 53.14,263.37 53.27,264.60 53.40,267.80 53.53,249.53 53.66,280.02 53.78,264.05 53.91,263.02 54.04,240.28 54.17,223.87 54.30,266.23 54.43,267.26 54.56,270.17 54.69,273.67 54.82,277.11 54.95,252.10 55.08,237.95 55.21,284.00 55.34,243.91 55.46,280.93 55.59,267.31 55.72,244.77 55.85,268.97 55.98,264.96 56.11,276.45 56.24,239.73 56.37,275.01 56.50,231.61 56.63,262.88 56.76,241.31 56.89,278.80 57.02,271.52 57.15,224.44 57.27,260.50 57.40,275.68 57.53,258.27 57.66,217.10 57.79,269.45 57.92,253.88 58.05,278.66 58.18,224.33 58.31,255.72 58.44,272.91 58.57,260.58 58.70,270.42 58.83,258.29 58.95,251.12 59.08,263.32 59.21,223.00 59.34,216.22 59.47,261.27 59.60,234.93 59.73,210.82 59.86,206.07 59.99,227.90 60.12,251.09 60.25,250.65 60.38,218.69 60.51,200.89 60.63,237.42 60.76,259.46 60.89,234.44 61.02,235.46 61.15,250.54 61.28,237.62 61.41,247.52 61.54,246.02 61.67,244.51 61.80,243.00 61.93,241.49 62.06,239.98 62.19,215.17 62.31,206.29 62.44,235.45 62.57,233.94 62.70,232.43 62.83,210.04 62.96,229.42 63.09,227.91 63.22,208.83 63.35,187.70 63.48,189.37 63.61,188.85 63.74,188.65 63.87,188.47 63.99,190.02 64.12,188.34 64.25,190.18 64.38,188.04 64.51,203.19 64.64,188.84 64.77,188.22 64.90,188.68 65.03,190.12 65.16,189.26 65.29,190.12 65.42,189.76 65.55,189.66 65.67,190.36 65.80,226.07 65.93,190.42 66.06,188.77 66.19,224.90 66.32,189.42 66.45,187.82 66.58,188.83 66.71,189.67 66.84,188.46 66.97,189.38 67.10,190.11 67.23,190.74 67.36,189.39 67.48,188.98 67.61,190.53 67.74,190.29 67.87,189.79 68.00,190.13 68.13,247.13 68.26,188.86 68.39,190.11 68.52,203.19 68.65,190.44 68.78,188.44 68.91,188.63 69.04,190.54 69.16,188.94 69.29,203.19 69.42,189.01 69.55,189.19 69.68,190.77 69.81,189.81 69.94,189.69 70.07,190.69 70.20,188.04 70.33,189.00 70.46,187.93 70.59,203.19 70.72,188.39 70.84,189.15 70.97,189.74 71.10,188.77 71.23,188.32 71.36,242.98 71.49,203.19 71.62,188.34 71.75,190.34 71.88,190.45 72.01,189.43 72.14,189.64 72.27,189.48 72.40,188.85 72.52,189.07 72.65,190.18 72.78,189.86 72.91,190.22 73.04,189.48 73.17,190.70 73.30,188.11 73.43,188.73 73.56,188.78 73.69,188.52 73.82,189.64 73.95,188.96 74.08,188.66 74.20,189.78 74.33,188.18 74.46,188.69 74.59,188.70 74.72,188.07 74.85,187.71 74.98,189.62 75.11,190.28 75.24,188.86 75.37,189.97 75.50,188.90 75.63,188.35 75.76,188.03 75.88,187.77 76.01,188.62 76.14,187.80 76.27,189.46 76.40,189.89 76.53,209.65 76.66,218.21 76.79,226.20 76.92,233.64 77.05,240.54 77.18,246.92 77.31,252.79 77.44,258.17 77.56,263.06 77.69,267.49 77.82,271.46 77.95,275.01 78.08,278.13 78.21,280.86 78.34,283.21 78.47,285.20 78.60,286.84 78.73,288.17 78.86,289.21 78.99,289.97 79.12,290.50 79.25,290.82 79.37,290.97 79.50,291.00 79.63,290.97 79.76,290.82 79.89,290.50 80.02,289.97 80.15,289.21 80.28,288.17 80.41,286.84 80.54,285.20 80.67,283.21 80.80,280.86 80.93,278.13 81.05,275.01 81.18,271.46 81.31,267.49 81.44,263.06 81.57,258.17 81.70,252.79 81.83,246.92 81.96,240.54 82.09,233.64 82.22,226.20 82.35,218.21 82.48,209.65 82.61,200.52 82.73,190.80 82.86,190.40 82.99,189.60 83.12,190.37 83.25,190.79 83.38,190.51 83.51,189.39 83.64,188.43 83.77,190.65 83.90,188.83 84.03,190.45 84.16,189.22 84.29,189.88 84.41,189.42 84.54,188.59 84.67,189.52 84.80,189.58 84.93,188.54 85.06,190.44 85.19,189.72 85.32,188.62 85.45,188.21 85.58,187.76 85.71,190.00 85.84,188.86 85.97,189.83 86.09,188.62 86.22,188.18 86.35,190.38 86.48,189.73 86.61,187.90 86.74,189.71 86.87,188.84 87.00,188.26 87.13,189.94 87.26,188.37 87.39,190.79 87.52,189.74 87.65,190.28 87.77,189.73 87.90,190.14 88.03,190.72 88.16,188.31 88.29,190.26 88.42,189.02 88.55,189.08 88.68,188.17 88.81,188.17 88.94,188.87 89.07,190.28 89.20,188.44 89.33,190.50 89.46,187.92 89.58,189.84 89.71,190.02 89.84,190.13 89.97,189.57 90.10,188.35 90.23,188.15 90.36,188.49 90.49,188.54 90.62,190.04 90.75,189.80 90.88,189.86 91.01,189.46 91.14,188.09 91.26,187.71 91.39,190.54 91.52,187.81 91.65,187.95 91.78,189.37 91.91,188.65 92.04,188.37 92.17,190.22 92.30,188.89 92.43,187.76 92.56,188.07 92.69,187.97 92.82,190.54 92.94,188.58 93.07,189.29 93.20,187.98 93.33,190.28 93.46,189.10 93.59,190.43 93.72,188.31 93.85,188.56 93.98,190.70 94.11,189.84 94.24,190.36 94.37,188.83 94.50,188.85 94.62,190.60 94.75,187.85 94.88,187.81 95.01,189.43 95.14,189.02 95.27,189.67 95.40,188.92 95.53,189.56 95.66,189.43 95.79,188.48 95.92,190.22 96.05,189.87 96.18,188.43 96.30,190.10 96.43,190.59 96.56,187.97 96.69,190.30 96.82,189.53 96.95,189.83 97.08,189.99 97.21,189.71 97.34,189.13 97.47,190.44 97.60,189.15 97.73,190.64 97.86,190.55 97.98,190.17 98.11,190.05 98.24,189.74 98.37,189.90 98.50,188.21 98.63,188.76 98.76,189.33 98.89,188.41 99.02,188.67 99.15,189.82 99.28,188.89 99.41,188.49 99.54,189.14 99.67,188.47 99.79,188.84 99.92,187.92 100.05,189.98 100.18,188.72 100.31,187.77 100.44,189.16 100.57,187.99 100.70,190.51 100.83,188.56 100.96,189.98 101.09,188.47 101.22,189.49 101.35,189.14 101.47,190.03 101.60,190.00 101.73,188.12 101.86,188.81 101.99,188.85 102.12,190.44 102.25,189.89 102.38,187.80 102.51,190.17 102.64,189.13 102.77,188.64 102.90,189.22 103.03,189.08 103.15,187.79 103.28,188.38 103.41,190.06 103.54,189.47 103.67,189.50 103.80,188.68 103.93,188.71 104.06,189.99 104.19,188.65 104.32,189.46 104.45,190.75 104.58,189.89 104.71,189.63 104.83,190.19 104.96,188.72 105.09,187.72 105.22,187.91 105.35,188.85 105.48,188.14 105.61,189.28 105.74,188.98 105.87,188.03 106.00,190.61 106.13,189.68 106.26,189.64 106.39,189.74 106.51,189.47 106.64,190.62 106.77,188.69 106.90,187.83 107.03,190.07 107.16,190.22 107.29,189.76 107.42,188.33 107.55,190.10 107.68,188.41 107.81,190.26 107.94,188.95 108.07,188.56 108.19,188.71 108.32,190.54 108.45,187.83 108.58,188.17 108.71,189.31 108.84,189.77 108.97,189.77 109.10,189.79 109.23,189.81 109.36,189.84 109.49,189.87 109.62,189.91 109.75,189.97 109.88,190.02 110.00,190.09 110.13,190.16 110.26,190.24 110.39,190.33 110.52,190.42 110.65,190.53 110.78,190.64 110.91,190.75 111.04,190.88 111.17,191.01 111.30,191.15 111.43,191.30 111.56,191.45 111.68,191.61 111.81,191.78 111.94,191.96 112.07,192.14 112.20,192.34 112.33,192.53 112.46,192.74 112.59,192.95 112.72,193.18 112.85,193.40 112.98,193.64 113.11,193.88 113.24,194.13 113.36,194.39 113.49,194.66 113.62,194.93 113.75,195.21 113.88,195.50 114.01,195.79 114.14,196.10 114.27,196.41 114.40,196.72 114.53,197.05 114.66,197.38 114.79,197.72 114.92,198.07 115.04,198.42 115.17,198.79 115.30,199.15 115.43,199.53 115.56,199.92 115.69,200.31 115.82,200.71 115.95,201.11 116.08,201.53 116.21,201.95 116.34,202.38 116.47,202.81 116.60,203.26 116.72,203.71 116.85,204.17 116.98,204.63 117.11,205.10 117.24,205.58 117.37,206.07 117.50,206.57 117.63,207.07 117.76,207.58 117.89,208.10 118.02,210.22 118.15,213.94 118.28,217.66 118.40,221.38 118.53,225.09 118.66,228.81 118.79,232.53 118.92,236.25 119.05,239.97 119.18,243.69 119.31,247.41 119.44,251.13 119.57,254.85 119.70,258.56 119.83,262.28 119.96,266.00 120.08,269.72 120.21,285.01 120.34,285.64 120.47,285.43 120.60,282.59 120.73,285.05 120.86,285.48 120.99,283.88 121.12,284.79 121.25,285.27 121.38,286.52 121.51,286.51 121.64,284.84 121.77,284.40 121.89,286.61 122.02,285.62 122.15,283.85 122.28,286.09 122.41,285.32 122.54,286.55 122.67,284.83 122.80,284.51 122.93,284.38 123.06,284.87 123.19,266.36 123.32,286.05 123.45,286.03 123.57,285.55 123.70,284.00 123.83,285.69 123.96,283.94 124.09,286.28 124.22,284.43 124.35,285.99 124.48,283.89 124.61,286.02 124.74,284.06 124.87,285.41 125.00,283.85 125.13,286.16 125.25,284.44 125.38,285.17 125.51,286.24 125.64,285.23 125.77,285.28 125.90,284.07 126.03,286.42 126.16,285.63 126.29,283.88 126.42,285.58 126.55,286.01 126.68,286.35 126.81,286.71 126.93,285.02 127.06,285.11 127.19,286.00 127.32,285.06 127.45,283.81 127.58,284.74 127.71,286.11 127.84,285.68 127.97,285.71 128.10,284.84 128.23,272.94 128.36,283.87 128.49,285.04 128.61,284.68 128.74,284.05 128.87,286.03 129.00,286.71 129.13,285.92 129.26,286.46 129.39,286.34 129.52,280.06 129.65,285.66 129.78,284.42 129.91,286.06 130.04,284.45 130.17,285.79 130.29,284.44 130.42,285.36 130.55,284.23 130.68,284.81 130.81,286.38 130.94,284.86 131.07,283.93 131.20,285.22 131.33,286.07 131.46,286.42 131.59,286.74 131.72,284.83 131.85,284.01 131.98,286.24 132.10,284.22 132.23,284.19 132.36,285.79 132.49,283.91 132.62,285.67 132.75,284.33 132.88,284.24 133.01,285.16 133.14,286.04 133.27,284.90 133.40,285.61 133.53,285.89 133.66,286.84 133.78,285.09 133.91,286.38 134.04,285.46 134.17,284.29 134.30,285.52 134.43,286.41 134.56,285.26 134.69,274.43 134.82,283.83 134.95,286.05 135.08,285.99 135.21,280.49 135.34,284.78 135.46,285.83 135.59,285.80 135.72,284.66 135.85,284.71 135.98,284.35 136.11,283.85 136.24,284.63 136.37,284.98 136.50,286.63 136.63,284.37 136.76,284.21 136.89,283.79 137.02,283.83 137.14,285.70 137.27,284.33 137.40,284.42 137.53,284.77 137.66,285.01 137.79,269.90 137.92,279.05 138.05,284.50 138.18,284.64 138.31,286.23 138.44,284.00 138.57,284.96 138.70,284.94 138.82,286.82 138.95,284.11 139.08,284.97 139.21,284.74 139.34,286.25 139.47,284.24 139.60,285.11 139.73,285.80 139.86,285.91 139.99,284.93 140.12,284.43 140.25,286.32 140.38,285.64 140.50,286.06 140.63,285.47 140.76,284.88 140.89,283.83 141.02,284.08 141.15,285.45 141.28,284.86 141.41,285.78 141.54,285.22 141.67,284.20 141.80,285.38 141.93,284.15 142.06,285.73 142.19,286.39 142.31,285.53 142.44,284.63 142.57,284.36 142.70,285.49 142.83,285.78 142.96,284.60 143.09,284.03 143.22,285.49 143.35,285.48 143.48,286.42 143.61,285.75 143.74,285.98 143.87,286.01 143.99,286.65 144.12,285.02 144.25,285.86 144.38,286.67 144.51,285.52 144.64,285.53 144.77,284.84 144.90,285.16 145.03,284.96 145.16,284.84 145.29,284.40 145.42,286.15 145.55,285.49 145.67,285.46 145.80,283.91 145.93,285.93 146.06,286.24 146.19,284.69 146.32,286.86 146.45,285.82 146.58,274.85 146.71,284.34 146.84,284.97 146.97,286.48 147.10,284.43 147.23,285.51 147.35,284.95 147.48,283.93 147.61,283.84 147.74,286.78 147.87,286.10 148.00,285.42 148.13,285.50 148.26,286.24 148.39,284.34 148.52,283.88 148.65,284.61 148.78,284.21 148.91,286.78 149.03,284.23 149.16,284.31 149.29,285.76 149.42,286.16 149.55,283.89 149.68,284.49 149.81,285.72 149.94,285.68 150.07,264.45 150.20,284.83 150.33,285.97 150.46,285.84 150.59,283.83 150.71,286.11 150.84,286.01 150.97,284.63 151.10,286.16 151.23,284.02 151.36,285.42 151.49,285.23 151.62,285.86 151.75,273.57 151.88,285.99 152.01,286.66 152.14,283.59 152.27,286.77 152.39,285.45 152.52,285.92 152.65,284.36 152.78,285.53 152.91,286.38 153.04,284.95 153.17,285.22 153.30,286.59 153.43,285.77 153.56,286.60 153.69,285.56 153.82,285.65 153.95,286.11 154.08,241.74 154.20,275.50 154.33,237.93 154.46,235.49 154.59,238.02 154.72,275.50 154.85,224.73 154.98,275.50 155.11,252.33 155.24,225.00 155.37,231.52 155.50,275.50 155.63,236.16 155.76,251.76 155.88,245.61 156.01,238.52 156.14,226.34 156.27,229.99 156.40,226.98 156.53,240.63 156.66,228.30 156.79,275.50 156.92,275.50 157.05,226.19 157.18,275.50 157.31,244.35 157.44,244.21 157.56,275.50 157.69,227.98 157.82,275.50 157.95,275.50 158.08,244.46 158.21,244.46 158.34,245.55 158.47,275.50 158.60,226.40 158.73,275.50 158.86,275.50 158.99,245.84 159.12,235.67 159.24,275.50 159.37,252.18 159.50,275.50 159.63,227.15 159.76,224.59 159.89,236.07 160.02,275.50 160.15,275.50 160.28,240.58 160.41,275.50 160.49,291.00" fill="url(#gBl)" clip-path="url(#cb0)"/>
<polygon points="158.20,291.00 158.20,291.00 158.33,291.00 158.46,291.00 158.59,291.00 158.72,291.00 158.85,291.00 158.98,291.00 159.10,291.00 159.23,291.00 159.36,291.00 159.49,291.00 159.62,291.00 159.75,291.00 159.88,291.00 160.01,291.00 160.14,291.00 160.27,291.00 160.40,291.00 160.53,291.00 160.66,291.00 160.78,291.00 160.91,291.00 161.04,291.00 161.17,291.00 161.30,291.00 161.43,291.00 161.56,291.00 161.69,291.00 161.82,291.00 161.95,291.00 162.08,291.00 162.21,291.00 162.34,291.00 162.46,291.00 162.59,291.00 162.72,291.00 162.85,291.00 162.98,291.00 163.11,291.00 163.24,291.00 163.37,291.00 163.50,291.00 163.63,271.89 163.76,291.00 163.89,291.00 164.02,291.00 164.15,291.00 164.27,291.00 164.40,291.00 164.53,291.00 164.66,291.00 164.79,291.00 164.92,291.00 165.05,291.00 165.18,291.00 165.31,291.00 165.44,291.00 165.57,291.00 165.70,291.00 165.83,291.00 165.95,291.00 166.08,291.00 166.21,291.00 166.34,291.00 166.47,291.00 166.60,291.00 166.73,291.00 166.86,291.00 166.99,291.00 167.12,291.00 167.25,291.00 167.38,291.00 167.51,291.00 167.63,291.00 167.76,279.94 167.89,291.00 168.02,290.17 168.15,290.78 168.28,273.89 168.41,289.10 168.54,288.94 168.67,278.92 168.80,287.93 168.93,275.97 169.06,289.54 169.19,287.61 169.31,287.10 169.44,265.17 169.57,289.59 169.70,276.70 169.83,285.44 169.96,250.70 170.09,288.56 170.22,285.73 170.35,290.25 170.48,288.99 170.61,286.71 170.74,275.82 170.87,287.55 170.99,268.96 171.12,290.86 171.25,280.88 171.38,275.50 171.51,289.08 171.64,286.23 171.77,289.65 171.90,290.35 172.03,288.33 172.16,265.21 172.29,290.83 172.42,290.38 172.55,290.98 172.67,286.93 172.80,290.04 172.93,288.11 173.06,273.15 173.19,290.96 173.32,273.35 173.45,242.34 173.58,287.58 173.71,268.62 173.84,283.62 173.97,284.28 174.10,287.84 174.23,269.33 174.35,289.82 174.48,268.03 174.61,288.60 174.74,283.47 174.87,273.41 175.00,282.54 175.13,265.87 175.26,252.46 175.39,287.29 175.52,270.45 175.65,236.31 175.78,269.57 175.91,290.39 176.04,268.14 176.16,266.58 176.29,288.45 176.42,271.09 176.55,265.85 176.68,286.49 176.81,286.04 176.94,280.60 177.07,282.48 177.20,237.25 177.33,287.36 177.46,285.56 177.59,280.35 177.72,255.81 177.84,279.85 177.97,289.10 178.10,267.95 178.23,288.68 178.36,236.23 178.49,282.96 178.62,265.63 178.75,263.17 178.88,218.98 179.01,282.91 179.14,228.95 179.27,266.77 179.40,250.68 179.52,270.78 179.65,237.77 179.78,234.90 179.91,268.51 180.04,255.57 180.17,266.10 180.30,246.93 180.43,280.23 180.56,237.50 180.69,285.30 180.82,270.72 180.95,257.98 181.08,261.75 181.20,249.78 181.33,281.32 181.46,222.95 181.59,264.58 181.72,225.47 181.85,280.01 181.98,235.12 182.11,270.29 182.24,241.73 182.37,229.13 182.50,219.75 182.63,279.95 182.76,263.72 182.88,284.65 183.01,277.88 183.14,282.56 183.27,267.40 183.40,263.61 183.53,236.82 183.66,269.89 183.79,228.57 183.92,221.75 184.05,262.05 184.18,251.19 184.31,261.27 184.44,244.45 184.56,247.39 184.69,234.32 184.82,279.94 184.95,225.99 185.08,263.98 185.21,235.37 185.34,230.10 185.47,278.18 185.60,235.53 185.73,231.37 185.86,261.57 185.99,238.92 186.12,223.42 186.25,270.34 186.37,265.44 186.50,250.58 186.63,257.85 186.76,238.74 186.89,227.81 187.02,268.77 187.15,225.59 187.28,273.70 187.41,221.90 187.54,213.45 187.67,211.58 187.80,237.88 187.93,238.80 188.05,210.94 188.18,253.91 188.31,212.33 188.44,261.76 188.57,217.91 188.70,228.25 188.83,231.72 188.96,262.48 189.09,243.11 189.22,193.93 189.35,250.16 189.48,251.39 189.61,221.17 189.73,190.67 189.86,265.71 189.99,241.32 190.12,233.22 190.25,236.56 190.38,249.03 190.51,213.67 190.64,223.67 190.77,244.51 190.90,224.36 191.03,221.50 191.16,208.24 191.29,207.08 191.41,221.65 191.54,211.42 191.67,233.94 191.80,212.33 191.93,209.37 192.06,229.42 192.19,227.91 192.32,208.96 192.45,193.26 192.58,203.19 192.71,188.42 192.84,225.15 192.97,188.36 193.09,189.36 193.22,190.38 193.35,190.06 193.48,190.66 193.61,190.63 193.74,190.07 193.87,189.24 194.00,190.41 194.13,188.70 194.26,189.23 194.39,190.72 194.52,188.32 194.65,190.48 194.77,188.21 194.90,203.19 195.03,203.19 195.16,188.10 195.29,190.03 195.42,190.51 195.55,188.94 195.68,188.13 195.81,189.97 195.94,190.42 196.07,188.42 196.20,189.96 196.33,203.19 196.46,187.80 196.58,189.52 196.71,188.44 196.84,189.27 196.97,188.38 197.10,189.46 197.23,203.19 197.36,188.27 197.49,189.17 197.62,190.53 197.75,189.30 197.88,188.68 198.01,188.32 198.14,188.68 198.26,187.74 198.39,188.96 198.52,189.50 198.65,189.64 198.78,188.54 198.91,188.61 199.04,189.66 199.17,227.51 199.30,188.56 199.43,190.69 199.56,189.93 199.69,188.11 199.82,189.35 199.94,247.35 200.07,190.13 200.20,190.65 200.33,203.19 200.46,203.19 200.59,187.79 200.72,189.20 200.85,188.37 200.98,190.56 201.11,188.13 201.24,188.12 201.37,187.80 201.50,188.12 201.62,188.27 201.75,189.20 201.88,188.56 202.01,189.01 202.14,190.23 202.27,188.31 202.40,189.70 202.53,189.69 202.66,189.96 202.79,190.09 202.92,188.71 203.05,188.86 203.18,188.74 203.30,189.55 203.43,188.49 203.56,190.51 203.69,188.77 203.82,189.42 203.95,190.69 204.08,188.48 204.21,203.19 204.34,188.95 204.47,190.08 204.60,203.19 204.73,242.23 204.86,189.50 204.98,188.24 205.11,189.44 205.24,188.20 205.37,190.32 205.50,188.84 205.63,209.65 205.76,218.21 205.89,226.20 206.02,233.64 206.15,240.54 206.28,246.92 206.41,252.79 206.54,258.17 206.66,263.06 206.79,267.49 206.92,271.46 207.05,275.01 207.18,278.13 207.31,280.86 207.44,283.21 207.57,285.20 207.70,286.84 207.83,288.17 207.96,289.21 208.09,289.97 208.22,290.50 208.35,290.82 208.47,290.97 208.60,291.00 208.73,290.97 208.86,290.82 208.99,290.50 209.12,289.97 209.25,289.21 209.38,288.17 209.51,286.84 209.64,285.20 209.77,283.21 209.90,280.86 210.03,278.13 210.15,275.01 210.28,271.46 210.41,267.49 210.54,263.06 210.67,258.17 210.80,252.79 210.93,246.92 211.06,240.54 211.19,233.64 211.32,226.20 211.45,218.21 211.58,209.65 211.71,200.52 211.83,190.80 211.96,189.63 212.09,189.56 212.22,190.49 212.35,189.04 212.48,188.36 212.61,189.25 212.74,188.64 212.87,188.51 213.00,189.77 213.13,188.82 213.26,187.79 213.39,188.58 213.51,190.23 213.64,188.75 213.77,188.80 213.90,188.40 214.03,188.62 214.16,187.97 214.29,187.77 214.42,190.15 214.55,189.31 214.68,190.66 214.81,187.74 214.94,190.47 215.07,189.48 215.19,188.89 215.32,189.47 215.45,190.27 215.58,189.24 215.71,190.11 215.84,189.28 215.97,188.58 216.10,189.87 216.23,189.42 216.36,188.84 216.49,189.15 216.62,188.32 216.75,188.04 216.87,187.80 217.00,190.29 217.13,189.30 217.26,190.43 217.39,188.63 217.52,189.57 217.65,188.17 217.78,189.30 217.91,188.33 218.04,190.70 218.17,188.90 218.30,189.52 218.43,188.22 218.56,190.48 218.68,190.52 218.81,188.67 218.94,189.79 219.07,189.45 219.20,189.55 219.33,187.75 219.46,188.87 219.59,188.22 219.72,188.20 219.85,188.14 219.98,189.41 220.11,189.90 220.24,189.20 220.36,188.03 220.49,188.06 220.62,189.32 220.75,187.99 220.88,188.44 221.01,190.67 221.14,188.84 221.27,188.34 221.40,190.66 221.53,189.63 221.66,188.80 221.79,189.23 221.92,189.16 222.04,190.52 222.17,189.99 222.30,188.11 222.43,189.72 222.56,189.31 222.69,188.97 222.82,189.92 222.95,189.51 223.08,189.23 223.21,188.11 223.34,188.19 223.47,190.25 223.60,189.24 223.72,188.47 223.85,188.02 223.98,189.15 224.11,188.84 224.24,188.80 224.37,188.73 224.50,188.03 224.63,187.74 224.76,187.73 224.89,190.41 225.02,188.58 225.15,189.60 225.28,189.93 225.40,190.49 225.53,187.98 225.66,188.03 225.79,189.16 225.92,189.26 226.05,190.16 226.18,187.93 226.31,188.45 226.44,190.28 226.57,189.02 226.70,187.71 226.83,189.98 226.96,189.64 227.08,189.67 227.21,189.65 227.34,190.43 227.47,188.85 227.60,190.04 227.73,188.69 227.86,189.35 227.99,188.19 228.12,188.49 228.25,188.14 228.38,190.32 228.51,188.34 228.64,188.40 228.77,189.89 228.89,190.80 229.02,190.49 229.15,188.41 229.28,187.80 229.41,190.59 229.54,190.05 229.67,189.55 229.80,190.59 229.93,188.81 230.06,188.14 230.19,188.19 230.32,190.25 230.45,187.98 230.57,188.36 230.70,190.32 230.83,188.15 230.96,187.92 231.09,188.07 231.22,188.47 231.35,188.27 231.48,189.14 231.61,190.77 231.74,188.70 231.87,189.25 232.00,190.34 232.13,190.39 232.25,188.06 232.38,188.00 232.51,190.64 232.64,190.74 232.77,188.64 232.90,189.90 233.03,188.10 233.16,189.37 233.29,188.59 233.42,190.65 233.55,188.39 233.68,190.18 233.81,189.47 233.93,189.29 234.06,189.79 234.19,190.05 234.32,189.41 234.45,190.64 234.58,190.31 234.71,190.40 234.84,188.15 234.97,189.83 235.10,187.75 235.23,188.01 235.36,190.29 235.49,188.15 235.61,187.74 235.74,189.43 235.87,189.30 236.00,188.71 236.13,189.28 236.26,189.98 236.39,188.53 236.52,190.12 236.65,189.61 236.78,190.73 236.91,189.80 237.04,188.30 237.17,190.37 237.29,190.21 237.42,189.57 237.55,189.88 237.68,190.78 237.81,190.63 237.94,189.77 238.07,189.77 238.20,189.79 238.33,189.81 238.46,189.84 238.59,189.87 238.72,189.91 238.85,189.97 238.98,190.02 239.10,190.09 239.23,190.16 239.36,190.24 239.49,190.33 239.62,190.42 239.75,190.53 239.88,190.64 240.01,190.75 240.14,190.88 240.27,191.01 240.40,191.15 240.53,191.30 240.66,191.45 240.78,191.61 240.91,191.78 241.04,191.96 241.17,192.14 241.30,192.34 241.43,192.53 241.56,192.74 241.69,192.95 241.82,193.18 241.95,193.40 242.08,193.64 242.21,193.88 242.34,194.13 242.46,194.39 242.59,194.66 242.72,194.93 242.85,195.21 242.98,195.50 243.11,195.79 243.24,196.10 243.37,196.41 243.50,196.72 243.63,197.05 243.76,197.38 243.89,197.72 244.02,198.07 244.14,198.42 244.27,198.79 244.40,199.15 244.53,199.53 244.66,199.92 244.79,200.31 244.92,200.71 245.05,201.11 245.18,201.53 245.31,201.95 245.44,202.38 245.57,202.81 245.70,203.26 245.82,203.71 245.95,204.17 246.08,204.63 246.21,205.10 246.34,205.58 246.47,206.07 246.60,206.57 246.73,207.07 246.86,207.58 246.99,208.10 247.12,210.22 247.25,213.94 247.38,217.66 247.50,221.38 247.63,225.09 247.76,228.81 247.89,232.53 248.02,236.25 248.15,239.97 248.28,243.69 248.41,247.41 248.54,251.13 248.67,254.85 248.80,258.56 248.93,262.28 249.06,266.00 249.18,269.72 249.31,284.41 249.44,284.37 249.57,283.77 249.70,284.67 249.83,283.89 249.96,284.63 250.09,283.88 250.22,285.85 250.35,284.40 250.48,286.10 250.61,284.63 250.74,286.50 250.87,285.01 250.99,284.95 251.12,285.09 251.25,284.29 251.38,286.62 251.51,286.47 251.64,284.77 251.77,286.84 251.90,286.33 252.03,285.34 252.16,284.50 252.29,285.39 252.42,286.25 252.55,286.38 252.67,285.71 252.80,284.43 252.93,279.24 253.06,286.82 253.19,285.13 253.32,285.90 253.45,283.83 253.58,286.63 253.71,284.35 253.84,270.51 253.97,284.57 254.10,283.97 254.23,285.58 254.35,285.13 254.48,285.67 254.61,284.01 254.74,279.54 254.87,284.65 255.00,286.82 255.13,284.14 255.26,285.02 255.39,283.99 255.52,284.67 255.65,285.74 255.78,284.92 255.91,285.49 256.03,286.77 256.16,283.95 256.29,286.76 256.42,284.32 256.55,286.61 256.68,284.83 256.81,284.35 256.94,284.43 257.07,285.75 257.20,284.80 257.33,283.94 257.46,286.84 257.59,284.80 257.71,285.89 257.84,285.07 257.97,285.27 258.10,284.15 258.23,272.45 258.36,284.88 258.49,285.17 258.62,284.91 258.75,284.34 258.88,286.48 259.01,285.38 259.14,285.49 259.27,286.42 259.39,284.19 259.52,284.47 259.65,286.34 259.78,286.00 259.91,285.06 260.04,284.83 260.17,283.79 260.30,271.12 260.43,285.53 260.56,284.14 260.69,284.90 260.82,285.50 260.95,284.33 261.08,284.17 261.20,284.67 261.33,285.19 261.46,286.03 261.59,285.02 261.72,285.77 261.85,286.48 261.98,285.96 262.11,274.07 262.24,285.43 262.37,285.69 262.50,285.85 262.63,285.54 262.76,285.73 262.88,285.32 263.01,285.37 263.14,284.12 263.27,286.28 263.40,285.65 263.53,285.70 263.66,285.93 263.79,284.58 263.92,284.09 264.05,285.21 264.18,285.36 264.31,284.91 264.44,286.32 264.56,279.83 264.69,278.88 264.82,284.16 264.95,286.26 265.08,285.57 265.21,285.14 265.34,285.55 265.47,283.99 265.60,285.54 265.73,284.61 265.86,286.78 265.99,286.54 266.12,278.12 266.24,286.12 266.37,285.31 266.50,284.19 266.63,284.18 266.76,286.41 266.89,283.78 267.02,284.97 267.15,283.82 267.28,274.52 267.41,285.72 267.54,286.87 267.67,283.87 267.80,286.83 267.92,284.83 268.05,284.13 268.18,286.05 268.31,284.71 268.44,285.70 268.57,281.74 268.70,285.71 268.83,286.27 268.96,286.61 269.09,285.05 269.22,284.86 269.35,284.71 269.48,284.26 269.60,262.84 269.73,283.79 269.86,285.44 269.99,284.36 270.12,286.85 270.25,268.83 270.38,284.77 270.51,283.90 270.64,286.83 270.77,285.86 270.90,284.97 271.03,286.77 271.16,283.98 271.29,284.09 271.41,278.55 271.54,282.28 271.67,285.13 271.80,283.87 271.93,286.64 272.06,286.00 272.19,284.38 272.32,284.18 272.45,285.13 272.58,284.32 272.71,284.14 272.84,286.60 272.97,284.70 273.09,284.55 273.22,284.04 273.35,284.00 273.48,285.52 273.61,285.33 273.74,284.63 273.87,285.52 274.00,283.86 274.13,285.15 274.26,284.82 274.39,286.81 274.52,285.99 274.65,284.80 274.77,263.70 274.90,286.44 275.03,286.65 275.16,286.61 275.29,286.44 275.42,284.83 275.55,285.96 275.68,285.44 275.81,285.04 275.94,284.76 276.07,283.87 276.20,285.96 276.33,275.77 276.45,283.80 276.58,286.27 276.71,286.39 276.84,283.92 276.97,284.34 277.10,286.04 277.23,286.70 277.36,284.07 277.49,283.86 277.62,285.77 277.75,286.20 277.88,273.97 278.01,286.37 278.13,286.52 278.26,286.40 278.39,284.11 278.52,286.16 278.65,283.91 278.78,284.61 278.91,267.09 279.04,285.18 279.17,285.02 279.30,285.35 279.43,286.03 279.56,284.48 279.69,269.54 279.81,270.24 279.94,284.03 280.07,284.85 280.20,284.78 280.33,284.76 280.46,285.76 280.59,286.27 280.72,285.54 280.85,284.21 280.98,284.12 281.11,284.81 281.24,283.79 281.37,286.12 281.49,286.73 281.62,284.27 281.75,286.08 281.88,286.26 282.01,284.34 282.14,284.71 282.27,284.33 282.40,284.10 282.53,284.32 282.66,285.88 282.79,285.12 282.92,284.99 283.05,284.78 283.18,245.18 283.30,231.37 283.43,244.55 283.56,275.50 283.69,275.50 283.82,275.50 283.95,228.72 284.08,275.50 284.21,275.50 284.34,275.50 284.47,231.37 284.60,237.39 284.73,249.99 284.86,252.20 284.98,227.75 285.11,275.50 285.24,275.50 285.37,275.50 285.50,236.08 285.63,252.28 285.76,235.84 285.89,237.02 286.02,275.50 286.15,249.95 286.28,275.50 286.41,243.43 286.54,246.61 286.66,249.71 286.79,275.50 286.92,232.48 287.05,239.20 287.18,227.38 287.31,227.99 287.44,243.00 287.57,235.90 287.70,223.95 287.83,248.03 287.96,275.50 288.09,236.02 288.22,275.50 288.34,275.50 288.47,227.07 288.60,275.50 288.73,238.97 288.86,275.50 288.99,244.43 289.12,228.68 289.25,234.47 289.38,275.50 289.51,275.50 289.59,291.00" fill="url(#gBl)" clip-path="url(#cb1)"/>
<polygon points="286.20,291.00 286.20,291.00 286.33,291.00 286.46,291.00 286.59,291.00 286.72,291.00 286.85,291.00 286.98,291.00 287.10,291.00 287.23,291.00 287.36,291.00 287.49,291.00 287.62,291.00 287.75,291.00 287.88,291.00 288.01,291.00 288.14,291.00 288.27,291.00 288.40,291.00 288.53,291.00 288.66,291.00 288.78,291.00 288.91,291.00 289.04,291.00 289.17,291.00 289.30,291.00 289.43,291.00 289.56,291.00 289.69,291.00 289.82,291.00 289.95,291.00 290.08,291.00 290.21,291.00 290.34,291.00 290.46,291.00 290.59,291.00 290.72,291.00 290.85,291.00 290.98,291.00 291.11,291.00 291.24,291.00 291.37,291.00 291.50,291.00 291.63,291.00 291.76,291.00 291.89,285.31 292.02,291.00 292.15,291.00 292.27,291.00 292.40,291.00 292.53,291.00 292.66,291.00 292.79,291.00 292.92,291.00 293.05,291.00 293.18,291.00 293.31,291.00 293.44,291.00 293.57,291.00 293.70,291.00 293.83,291.00 293.95,291.00 294.08,291.00 294.21,291.00 294.34,291.00 294.47,291.00 294.60,291.00 294.73,291.00 294.86,274.27 294.99,291.00 295.12,291.00 295.25,291.00 295.38,291.00 295.51,291.00 295.63,291.00 295.76,291.00 295.89,291.00 296.02,289.44 296.15,289.43 296.28,286.94 296.41,287.07 296.54,288.86 296.67,287.49 296.80,274.21 296.93,282.29 297.06,289.16 297.19,272.56 297.31,287.30 297.44,289.30 297.57,287.57 297.70,290.01 297.83,282.54 297.96,288.70 298.09,273.92 298.22,261.11 298.35,279.44 298.48,289.97 298.61,290.68 298.74,279.81 298.87,279.41 298.99,281.71 299.12,290.98 299.25,274.77 299.38,253.79 299.51,276.93 299.64,281.72 299.77,289.31 299.90,289.02 300.03,288.77 300.16,280.13 300.29,272.43 300.42,253.50 300.55,288.94 300.67,288.22 300.80,289.79 300.93,283.78 301.06,271.17 301.19,282.99 301.32,269.35 301.45,275.32 301.58,281.58 301.71,266.53 301.84,268.53 301.97,285.39 302.10,285.15 302.23,277.85 302.35,289.39 302.48,289.47 302.61,287.07 302.74,242.15 302.87,279.67 303.00,240.90 303.13,245.00 303.26,272.46 303.39,286.12 303.52,286.94 303.65,235.17 303.78,289.87 303.91,250.26 304.04,245.26 304.16,271.79 304.29,270.39 304.42,287.26 304.55,280.47 304.68,271.68 304.81,289.72 304.94,280.70 305.07,275.78 305.20,288.30 305.33,273.10 305.46,285.26 305.59,267.75 305.72,284.91 305.84,259.80 305.97,285.85 306.10,259.18 306.23,286.30 306.36,283.12 306.49,286.57 306.62,278.19 306.75,270.62 306.88,257.64 307.01,235.70 307.14,261.40 307.27,270.97 307.40,271.98 307.52,274.79 307.65,262.11 307.78,268.77 307.91,267.10 308.04,275.73 308.17,267.39 308.30,250.17 308.43,266.71 308.56,268.57 308.69,261.63 308.82,284.19 308.95,272.55 309.08,264.07 309.20,245.90 309.33,237.21 309.46,238.28 309.59,270.17 309.72,260.15 309.85,219.83 309.98,255.65 310.11,242.14 310.24,278.21 310.37,285.26 310.50,271.12 310.63,281.88 310.76,261.37 310.88,282.93 311.01,260.79 311.14,227.61 311.27,266.14 311.40,267.24 311.53,269.52 311.66,256.29 311.79,260.20 311.92,263.22 312.05,232.38 312.18,284.01 312.31,281.29 312.44,267.18 312.56,282.16 312.69,285.83 312.82,266.23 312.95,271.06 313.08,269.40 313.21,236.59 313.34,244.15 313.47,229.68 313.60,230.53 313.73,251.08 313.86,270.84 313.99,278.11 314.12,265.15 314.25,253.82 314.37,258.91 314.50,270.69 314.63,222.43 314.76,232.46 314.89,255.19 315.02,256.53 315.15,226.12 315.28,257.83 315.41,250.97 315.54,226.20 315.67,237.48 315.80,204.08 315.93,273.45 316.05,226.97 316.18,259.92 316.31,217.03 316.44,236.94 316.57,237.63 316.70,246.19 316.83,211.59 316.96,243.25 317.09,230.12 317.22,261.89 317.35,252.78 317.48,257.53 317.61,209.68 317.73,193.38 317.86,197.35 317.99,225.28 318.12,219.59 318.25,250.54 318.38,216.37 318.51,247.52 318.64,246.02 318.77,213.96 318.90,243.00 319.03,241.49 319.16,239.98 319.29,238.47 319.41,236.96 319.54,235.45 319.67,211.97 319.80,232.43 319.93,230.92 320.06,229.42 320.19,227.91 320.32,226.40 320.45,224.89 320.58,189.56 320.71,188.94 320.84,189.75 320.97,190.77 321.09,189.87 321.22,203.19 321.35,189.71 321.48,188.38 321.61,188.17 321.74,190.44 321.87,190.09 322.00,189.48 322.13,190.04 322.26,203.19 322.39,188.65 322.52,187.93 322.65,188.67 322.77,187.75 322.90,188.54 323.03,188.53 323.16,189.12 323.29,188.16 323.42,239.34 323.55,188.35 323.68,203.19 323.81,203.19 323.94,203.19 324.07,203.19 324.20,188.12 324.33,190.49 324.46,189.77 324.58,188.48 324.71,188.53 324.84,188.16 324.97,188.01 325.10,189.92 325.23,188.41 325.36,188.54 325.49,188.24 325.62,188.81 325.75,235.12 325.88,187.97 326.01,189.44 326.14,188.05 326.26,190.21 326.39,218.56 326.52,190.46 326.65,188.98 326.78,188.30 326.91,189.18 327.04,188.90 327.17,188.35 327.30,203.19 327.43,189.60 327.56,238.05 327.69,188.12 327.82,188.22 327.94,190.06 328.07,189.89 328.20,190.53 328.33,190.20 328.46,190.67 328.59,190.14 328.72,190.79 328.85,188.51 328.98,237.85 329.11,189.30 329.24,190.55 329.37,189.96 329.50,190.39 329.62,203.19 329.75,190.54 329.88,190.37 330.01,203.19 330.14,189.16 330.27,189.22 330.40,190.66 330.53,227.32 330.66,233.95 330.79,188.17 330.92,238.24 331.05,189.00 331.18,223.69 331.30,189.10 331.43,188.21 331.56,188.26 331.69,190.53 331.82,188.18 331.95,189.82 332.08,188.87 332.21,188.36 332.34,190.05 332.47,190.63 332.60,189.57 332.73,188.66 332.86,190.12 332.98,203.19 333.11,190.10 333.24,190.46 333.37,203.19 333.50,190.64 333.63,209.65 333.76,218.21 333.89,226.20 334.02,233.64 334.15,240.54 334.28,246.92 334.41,252.79 334.54,258.17 334.66,263.06 334.79,267.49 334.92,271.46 335.05,275.01 335.18,278.13 335.31,280.86 335.44,283.21 335.57,285.20 335.70,286.84 335.83,288.17 335.96,289.21 336.09,289.97 336.22,290.50 336.35,290.82 336.47,290.97 336.60,291.00 336.73,290.97 336.86,290.82 336.99,290.50 337.12,289.97 337.25,289.21 337.38,288.17 337.51,286.84 337.64,285.20 337.77,283.21 337.90,280.86 338.03,278.13 338.15,275.01 338.28,271.46 338.41,267.49 338.54,263.06 338.67,258.17 338.80,252.79 338.93,246.92 339.06,240.54 339.19,233.64 339.32,226.20 339.45,218.21 339.58,209.65 339.71,200.52 339.83,190.80 339.96,189.97 340.09,189.60 340.22,190.50 340.35,188.30 340.48,188.01 340.61,190.70 340.74,188.30 340.87,190.25 341.00,188.54 341.13,190.61 341.26,188.49 341.39,187.91 341.51,190.00 341.64,190.29 341.77,189.74 341.90,188.13 342.03,188.38 342.16,190.31 342.29,188.00 342.42,188.51 342.55,187.83 342.68,187.78 342.81,190.31 342.94,188.54 343.07,190.72 343.19,190.20 343.32,189.14 343.45,190.08 343.58,190.12 343.71,189.69 343.84,189.38 343.97,187.95 344.10,189.00 344.23,189.08 344.36,188.57 344.49,190.22 344.62,188.31 344.75,188.44 344.87,188.28 345.00,189.40 345.13,189.12 345.26,190.57 345.39,189.38 345.52,188.80 345.65,187.86 345.78,188.02 345.91,189.75 346.04,188.46 346.17,188.15 346.30,187.82 346.43,188.69 346.56,189.78 346.68,188.09 346.81,190.75 346.94,189.04 347.07,189.38 347.20,188.06 347.33,188.87 347.46,190.18 347.59,190.29 347.72,190.69 347.85,188.47 347.98,188.37 348.11,189.64 348.24,190.11 348.36,189.07 348.49,190.19 348.62,189.17 348.75,189.73 348.88,189.81 349.01,188.66 349.14,190.03 349.27,189.77 349.40,189.05 349.53,187.88 349.66,190.33 349.79,189.85 349.92,189.95 350.04,189.82 350.17,189.29 350.30,188.26 350.43,190.24 350.56,188.57 350.69,189.46 350.82,189.03 350.95,189.24 351.08,188.93 351.21,190.24 351.34,188.89 351.47,189.55 351.60,188.37 351.72,188.95 351.85,189.53 351.98,187.74 352.11,190.24 352.24,190.76 352.37,190.42 352.50,188.66 352.63,190.51 352.76,188.52 352.89,190.53 353.02,189.88 353.15,188.87 353.28,190.73 353.40,189.46 353.53,187.70 353.66,188.54 353.79,189.59 353.92,187.98 354.05,189.04 354.18,188.29 354.31,189.73 354.44,189.62 354.57,188.63 354.70,188.44 354.83,188.65 354.96,190.33 355.08,189.49 355.21,189.81 355.34,190.08 355.47,190.44 355.60,188.48 355.73,190.36 355.86,189.70 355.99,190.74 356.12,188.61 356.25,188.86 356.38,190.56 356.51,187.85 356.64,187.72 356.77,188.47 356.89,188.30 357.02,188.62 357.15,190.73 357.28,189.95 357.41,190.07 357.54,190.73 357.67,188.82 357.80,188.97 357.93,189.68 358.06,188.48 358.19,190.07 358.32,189.93 358.45,190.44 358.57,190.07 358.70,188.16 358.83,189.28 358.96,188.52 359.09,188.11 359.22,188.73 359.35,189.68 359.48,187.80 359.61,190.55 359.74,189.52 359.87,188.06 360.00,188.68 360.13,189.70 360.25,188.24 360.38,188.45 360.51,188.56 360.64,189.97 360.77,188.69 360.90,188.77 361.03,188.20 361.16,189.21 361.29,187.92 361.42,188.57 361.55,190.15 361.68,189.01 361.81,190.19 361.93,188.89 362.06,189.79 362.19,187.71 362.32,189.74 362.45,188.35 362.58,188.21 362.71,189.64 362.84,188.97 362.97,190.08 363.10,189.64 363.23,189.44 363.36,188.59 363.49,189.22 363.61,190.30 363.74,188.79 363.87,189.20 364.00,189.17 364.13,189.42 364.26,188.11 364.39,188.77 364.52,188.75 364.65,189.25 364.78,189.55 364.91,189.48 365.04,188.70 365.17,189.44 365.29,190.58 365.42,190.11 365.55,190.63 365.68,190.65 365.81,189.69 365.94,189.77 366.07,189.77 366.20,189.79 366.33,189.81 366.46,189.84 366.59,189.87 366.72,189.91 366.85,189.97 366.98,190.02 367.10,190.09 367.23,190.16 367.36,190.24 367.49,190.33 367.62,190.42 367.75,190.53 367.88,190.64 368.01,190.75 368.14,190.88 368.27,191.01 368.40,191.15 368.53,191.30 368.66,191.45 368.78,191.61 368.91,191.78 369.04,191.96 369.17,192.14 369.30,192.34 369.43,192.53 369.56,192.74 369.69,192.95 369.82,193.18 369.95,193.40 370.08,193.64 370.21,193.88 370.34,194.13 370.46,194.39 370.59,194.66 370.72,194.93 370.85,195.21 370.98,195.50 371.11,195.79 371.24,196.10 371.37,196.41 371.50,196.72 371.63,197.05 371.76,197.38 371.89,197.72 372.02,198.07 372.14,198.42 372.27,198.79 372.40,199.15 372.53,199.53 372.66,199.92 372.79,200.31 372.92,200.71 373.05,201.11 373.18,201.53 373.31,201.95 373.44,202.38 373.57,202.81 373.70,203.26 373.82,203.71 373.95,204.17 374.08,204.63 374.21,205.10 374.34,205.58 374.47,206.07 374.60,206.57 374.73,207.07 374.86,207.58 374.99,208.10 375.12,210.22 375.25,213.94 375.38,217.66 375.50,221.38 375.63,225.09 375.76,228.81 375.89,232.53 376.02,236.25 376.15,239.97 376.28,243.69 376.41,247.41 376.54,251.13 376.67,254.85 376.80,258.56 376.93,262.28 377.06,266.00 377.18,269.72 377.31,285.45 377.44,286.15 377.57,285.97 377.70,285.34 377.83,286.68 377.96,275.30 378.09,284.91 378.22,283.85 378.35,284.31 378.48,286.75 378.61,284.42 378.74,284.08 378.87,283.96 378.99,285.59 379.12,285.21 379.25,286.30 379.38,286.41 379.51,286.59 379.64,279.20 379.77,274.75 379.90,286.81 380.03,285.98 380.16,285.19 380.29,286.70 380.42,283.86 380.55,284.82 380.67,286.10 380.80,286.05 380.93,285.46 381.06,280.93 381.19,284.48 381.32,283.78 381.45,284.23 381.58,284.10 381.71,284.17 381.84,285.65 381.97,284.45 382.10,286.45 382.23,286.33 382.35,286.46 382.48,285.93 382.61,284.06 382.74,284.51 382.87,285.87 383.00,286.15 383.13,279.76 383.26,286.71 383.39,286.15 383.52,286.75 383.65,284.62 383.78,286.42 383.91,286.81 384.03,284.33 384.16,284.19 384.29,284.93 384.42,285.06 384.55,284.22 384.68,285.13 384.81,286.69 384.94,285.76 385.07,283.81 385.20,286.39 385.33,285.37 385.46,286.02 385.59,283.94 385.71,285.16 385.84,284.54 385.97,284.44 386.10,286.40 386.23,283.80 386.36,284.07 386.49,284.90 386.62,284.59 386.75,285.76 386.88,285.32 387.01,265.84 387.14,286.00 387.27,286.21 387.39,285.50 387.52,284.85 387.65,286.71 387.78,286.51 387.91,285.45 388.04,286.82 388.17,286.39 388.30,284.24 388.43,285.08 388.56,279.45 388.69,284.78 388.82,284.15 388.95,286.47 389.08,286.23 389.20,285.29 389.33,285.79 389.46,285.96 389.59,286.37 389.72,286.46 389.85,286.80 389.98,284.36 390.11,285.82 390.24,284.36 390.37,284.94 390.50,285.88 390.63,286.07 390.76,285.28 390.88,286.28 391.01,286.79 391.14,286.38 391.27,284.35 391.40,284.87 391.53,286.64 391.66,284.49 391.79,285.91 391.92,284.68 392.05,285.67 392.18,285.18 392.31,286.41 392.44,284.01 392.56,286.32 392.69,284.93 392.82,285.45 392.95,284.88 393.08,285.50 393.21,285.33 393.34,285.78 393.47,284.95 393.60,286.51 393.73,276.67 393.86,285.01 393.99,285.31 394.12,283.85 394.24,286.06 394.37,284.83 394.50,286.12 394.63,285.23 394.76,284.24 394.89,285.95 395.02,285.45 395.15,286.41 395.28,286.31 395.41,284.70 395.54,286.53 395.67,281.68 395.80,286.77 395.92,286.81 396.05,284.37 396.18,284.34 396.31,284.47 396.44,284.23 396.57,284.43 396.70,286.08 396.83,282.45 396.96,285.26 397.09,285.40 397.22,262.95 397.35,285.05 397.48,284.13 397.60,285.20 397.73,286.41 397.86,284.93 397.99,286.41 398.12,285.96 398.25,265.57 398.38,284.08 398.51,285.61 398.64,286.12 398.77,285.42 398.90,286.56 399.03,262.81 399.16,267.69 399.29,283.89 399.41,285.43 399.54,284.71 399.67,286.81 399.80,285.18 399.93,285.20 400.06,286.55 400.19,283.88 400.32,285.96 400.45,283.87 400.58,285.89 400.71,286.35 400.84,286.65 400.97,286.52 401.09,267.37 401.22,286.37 401.35,284.12 401.48,286.02 401.61,284.09 401.74,285.40 401.87,285.77 402.00,286.02 402.13,285.36 402.26,284.47 402.39,286.86 402.52,284.04 402.65,286.26 402.77,286.46 402.90,285.31 403.03,285.43 403.16,284.74 403.29,283.85 403.42,285.33 403.55,279.26 403.68,283.90 403.81,286.47 403.94,285.56 404.07,283.85 404.20,284.70 404.33,284.07 404.45,284.49 404.58,284.64 404.71,285.66 404.84,284.94 404.97,285.03 405.10,285.35 405.23,285.69 405.36,286.67 405.49,286.39 405.62,285.71 405.75,285.63 405.88,284.73 406.01,284.85 406.13,284.37 406.26,286.86 406.39,285.81 406.52,283.91 406.65,285.24 406.78,285.04 406.91,286.58 407.04,286.86 407.17,284.25 407.30,284.20 407.43,285.46 407.56,285.39 407.69,286.19 407.81,285.38 407.94,272.10 408.07,285.13 408.20,282.09 408.33,284.51 408.46,284.49 408.59,285.52 408.72,285.17 408.85,284.24 408.98,269.05 409.11,284.11 409.24,285.64 409.37,286.14 409.49,284.15 409.62,284.30 409.75,284.50 409.88,274.00 410.01,285.94 410.14,286.86 410.27,284.80 410.40,285.61 410.53,285.16 410.66,284.92 410.79,284.99 410.92,286.77 411.05,286.79 411.18,275.50 411.30,226.61 411.43,232.67 411.56,233.32 411.69,247.77 411.82,224.40 411.95,275.50 412.08,225.16 412.21,275.50 412.34,235.67 412.47,244.16 412.60,247.91 412.73,248.11 412.86,250.48 412.98,230.84 413.11,224.81 413.24,253.99 413.37,238.89 413.50,242.44 413.63,275.50 413.76,247.37 413.89,275.50 414.02,237.15 414.15,231.39 414.28,239.40 414.41,252.46 414.54,228.50 414.66,275.50 414.79,252.60 414.92,225.86 415.05,241.95 415.18,239.47 415.31,224.36 415.44,275.50 415.57,228.96 415.70,240.51 415.83,275.50 415.96,249.63 416.09,275.50 416.22,233.67 416.34,228.77 416.47,249.36 416.60,227.95 416.73,231.18 416.86,275.50 416.99,232.00 417.12,275.50 417.25,238.55 417.38,240.75 417.51,237.06 417.59,291.00" fill="url(#gBl)" clip-path="url(#cb2)"/>
<polygon points="414.70,291.00 414.70,291.00 414.83,291.00 414.96,291.00 415.09,291.00 415.22,291.00 415.35,291.00 415.48,291.00 415.60,291.00 415.73,291.00 415.86,291.00 415.99,291.00 416.12,291.00 416.25,291.00 416.38,291.00 416.51,291.00 416.64,291.00 416.77,291.00 416.90,291.00 417.03,291.00 417.16,291.00 417.28,291.00 417.41,291.00 417.54,291.00 417.67,291.00 417.80,291.00 417.93,291.00 418.06,291.00 418.19,291.00 418.32,291.00 418.45,291.00 418.58,291.00 418.71,291.00 418.84,291.00 418.96,291.00 419.09,291.00 419.22,291.00 419.35,291.00 419.48,291.00 419.61,291.00 419.74,291.00 419.87,291.00 420.00,291.00 420.13,291.00 420.26,291.00 420.39,291.00 420.52,291.00 420.65,291.00 420.77,291.00 420.90,291.00 421.03,291.00 421.16,291.00 421.29,291.00 421.42,291.00 421.55,291.00 421.68,291.00 421.81,291.00 421.94,291.00 422.07,291.00 422.20,291.00 422.33,291.00 422.45,291.00 422.58,291.00 422.71,291.00 422.84,291.00 422.97,291.00 423.10,291.00 423.23,291.00 423.36,291.00 423.49,291.00 423.62,291.00 423.75,291.00 423.88,291.00 424.01,291.00 424.13,291.00 424.26,291.00 424.39,291.00 424.52,275.22 424.65,250.01 424.78,287.65 424.91,279.09 425.04,282.82 425.17,284.74 425.30,284.06 425.43,287.70 425.56,290.93 425.69,279.78 425.81,289.27 425.94,287.26 426.07,283.11 426.20,289.68 426.33,289.36 426.46,266.33 426.59,256.35 426.72,288.81 426.85,290.12 426.98,287.37 427.11,255.12 427.24,251.71 427.37,276.52 427.49,252.55 427.62,290.57 427.75,288.09 427.88,289.37 428.01,288.95 428.14,289.95 428.27,289.13 428.40,289.30 428.53,287.50 428.66,289.59 428.79,287.83 428.92,250.69 429.05,273.01 429.17,278.20 429.30,284.65 429.43,288.49 429.56,290.02 429.69,289.70 429.82,234.99 429.95,277.09 430.08,270.64 430.21,284.36 430.34,268.34 430.47,286.46 430.60,265.83 430.73,272.46 430.85,289.52 430.98,282.51 431.11,287.58 431.24,289.50 431.37,274.97 431.50,288.74 431.63,241.72 431.76,287.85 431.89,285.96 432.02,266.88 432.15,277.70 432.28,282.50 432.41,254.06 432.54,285.60 432.66,270.08 432.79,287.39 432.92,283.45 433.05,286.75 433.18,269.66 433.31,241.28 433.44,287.80 433.57,271.83 433.70,254.04 433.83,268.14 433.96,240.51 434.09,250.27 434.22,290.53 434.34,287.80 434.47,276.86 434.60,287.99 434.73,286.48 434.86,288.83 434.99,249.16 435.12,249.63 435.25,239.13 435.38,261.01 435.51,261.31 435.64,220.04 435.77,245.80 435.90,267.14 436.02,254.49 436.15,232.16 436.28,279.51 436.41,271.98 436.54,285.75 436.67,235.58 436.80,272.81 436.93,238.44 437.06,264.28 437.19,262.42 437.32,281.41 437.45,225.82 437.58,269.83 437.70,262.05 437.83,274.93 437.96,220.22 438.09,222.49 438.22,261.17 438.35,280.64 438.48,225.77 438.61,244.33 438.74,270.27 438.87,272.37 439.00,233.07 439.13,232.94 439.26,282.17 439.38,223.12 439.51,242.80 439.64,263.26 439.77,266.55 439.90,265.96 440.03,282.04 440.16,265.31 440.29,260.65 440.42,264.06 440.55,272.99 440.68,268.66 440.81,261.00 440.94,275.05 441.06,224.82 441.19,232.44 441.32,274.63 441.45,262.15 441.58,254.98 441.71,272.24 441.84,237.02 441.97,243.23 442.10,267.46 442.23,264.69 442.36,282.09 442.49,234.43 442.62,262.69 442.75,222.97 442.87,267.66 443.00,242.42 443.13,224.69 443.26,263.77 443.39,270.43 443.52,211.74 443.65,263.27 443.78,253.58 443.91,249.08 444.04,208.96 444.17,264.06 444.30,242.69 444.43,244.36 444.55,203.11 444.68,221.93 444.81,252.94 444.94,212.30 445.07,207.46 445.20,249.72 445.33,270.33 445.46,243.04 445.59,263.92 445.72,201.23 445.85,248.30 445.98,210.37 446.11,207.41 446.23,240.73 446.36,187.70 446.49,253.56 446.62,242.29 446.75,250.54 446.88,235.25 447.01,247.52 447.14,230.52 447.27,207.18 447.40,218.81 447.53,227.01 447.66,225.70 447.79,214.20 447.91,236.96 448.04,235.45 448.17,233.94 448.30,203.38 448.43,208.25 448.56,203.88 448.69,227.91 448.82,206.11 448.95,224.89 449.08,187.99 449.21,203.19 449.34,190.60 449.47,188.37 449.59,203.19 449.72,188.02 449.85,188.49 449.98,187.81 450.11,188.85 450.24,189.66 450.37,190.63 450.50,189.92 450.63,189.32 450.76,188.83 450.89,189.64 451.02,247.94 451.15,188.05 451.27,188.92 451.40,190.50 451.53,190.72 451.66,188.53 451.79,190.22 451.92,188.77 452.05,190.08 452.18,190.72 452.31,190.74 452.44,188.97 452.57,189.65 452.70,190.69 452.83,190.76 452.96,190.60 453.08,219.58 453.21,189.67 453.34,189.65 453.47,187.73 453.60,203.19 453.73,190.76 453.86,188.96 453.99,188.33 454.12,190.35 454.25,189.46 454.38,190.20 454.51,189.60 454.64,188.13 454.76,189.56 454.89,188.51 455.02,189.16 455.15,189.56 455.28,190.00 455.41,188.76 455.54,190.28 455.67,188.96 455.80,188.79 455.93,189.89 456.06,203.19 456.19,189.13 456.32,188.05 456.44,190.44 456.57,189.61 456.70,190.52 456.83,188.89 456.96,190.35 457.09,203.19 457.22,189.90 457.35,190.59 457.48,187.84 457.61,190.28 457.74,187.93 457.87,188.55 458.00,189.99 458.12,188.91 458.25,190.30 458.38,244.32 458.51,188.68 458.64,188.56 458.77,190.31 458.90,189.75 459.03,247.81 459.16,188.58 459.29,190.26 459.42,188.76 459.55,189.97 459.68,188.81 459.80,187.96 459.93,189.87 460.06,189.01 460.19,190.50 460.32,187.77 460.45,188.23 460.58,190.46 460.71,187.90 460.84,190.08 460.97,187.96 461.10,187.73 461.23,188.45 461.36,190.41 461.48,189.72 461.61,189.48 461.74,188.06 461.87,189.41 462.00,190.55 462.13,209.65 462.26,218.21 462.39,226.20 462.52,233.64 462.65,240.54 462.78,246.92 462.91,252.79 463.04,258.17 463.16,263.06 463.29,267.49 463.42,271.46 463.55,275.01 463.68,278.13 463.81,280.86 463.94,283.21 464.07,285.20 464.20,286.84 464.33,288.17 464.46,289.21 464.59,289.97 464.72,290.50 464.85,290.82 464.97,290.97 465.10,291.00 465.23,290.97 465.36,290.82 465.49,290.50 465.62,289.97 465.75,289.21 465.88,288.17 466.01,286.84 466.14,285.20 466.27,283.21 466.40,280.86 466.53,278.13 466.65,275.01 466.78,271.46 466.91,267.49 467.04,263.06 467.17,258.17 467.30,252.79 467.43,246.92 467.56,240.54 467.69,233.64 467.82,226.20 467.95,218.21 468.08,209.65 468.21,200.52 468.33,190.80 468.46,189.84 468.59,188.08 468.72,189.25 468.85,190.45 468.98,190.12 469.11,188.04 469.24,189.60 469.37,187.72 469.50,187.77 469.63,188.99 469.76,188.14 469.89,189.70 470.01,188.35 470.14,190.62 470.27,189.29 470.40,190.75 470.53,189.97 470.66,187.90 470.79,188.85 470.92,190.65 471.05,188.20 471.18,188.09 471.31,187.84 471.44,189.43 471.57,190.35 471.69,188.41 471.82,188.98 471.95,190.65 472.08,189.27 472.21,188.89 472.34,188.40 472.47,188.87 472.60,189.83 472.73,190.53 472.86,190.65 472.99,190.44 473.12,189.53 473.25,189.59 473.37,187.96 473.50,189.24 473.63,188.24 473.76,188.70 473.89,188.62 474.02,188.19 474.15,188.14 474.28,188.65 474.41,189.27 474.54,188.16 474.67,190.02 474.80,190.00 474.93,190.41 475.06,190.21 475.18,190.44 475.31,190.22 475.44,189.82 475.57,188.62 475.70,187.74 475.83,188.81 475.96,188.60 476.09,189.14 476.22,190.34 476.35,188.55 476.48,188.98 476.61,189.38 476.74,188.19 476.86,187.86 476.99,190.28 477.12,190.74 477.25,189.64 477.38,189.02 477.51,189.25 477.64,189.88 477.77,190.00 477.90,189.42 478.03,190.52 478.16,189.28 478.29,188.02 478.42,188.07 478.54,188.39 478.67,190.24 478.80,189.58 478.93,190.43 479.06,190.19 479.19,190.68 479.32,190.60 479.45,188.56 479.58,189.96 479.71,188.71 479.84,189.28 479.97,190.00 480.10,188.75 480.22,189.28 480.35,190.20 480.48,189.96 480.61,189.25 480.74,190.06 480.87,189.30 481.00,189.66 481.13,187.88 481.26,190.33 481.39,188.36 481.52,190.28 481.65,190.67 481.78,188.21 481.90,188.44 482.03,189.56 482.16,188.02 482.29,189.89 482.42,189.63 482.55,188.16 482.68,188.31 482.81,187.86 482.94,189.75 483.07,188.52 483.20,187.95 483.33,188.60 483.46,189.74 483.58,187.92 483.71,188.29 483.84,190.66 483.97,189.30 484.10,187.79 484.23,188.32 484.36,188.63 484.49,190.57 484.62,188.17 484.75,189.98 484.88,190.13 485.01,188.51 485.14,189.32 485.27,187.71 485.39,188.20 485.52,190.54 485.65,190.66 485.78,190.24 485.91,190.58 486.04,189.94 486.17,189.65 486.30,190.74 486.43,188.56 486.56,188.29 486.69,189.63 486.82,189.26 486.95,188.98 487.07,187.74 487.20,188.44 487.33,190.20 487.46,189.08 487.59,189.86 487.72,188.00 487.85,188.10 487.98,189.36 488.11,187.86 488.24,188.37 488.37,188.25 488.50,189.69 488.63,188.24 488.75,190.30 488.88,188.22 489.01,189.62 489.14,187.98 489.27,189.36 489.40,189.95 489.53,189.97 489.66,189.73 489.79,188.08 489.92,189.35 490.05,189.77 490.18,187.80 490.31,188.36 490.43,190.63 490.56,189.24 490.69,187.88 490.82,189.57 490.95,190.79 491.08,189.04 491.21,188.51 491.34,188.46 491.47,188.79 491.60,189.52 491.73,189.46 491.86,190.45 491.99,187.92 492.11,187.73 492.24,190.43 492.37,190.38 492.50,190.71 492.63,189.66 492.76,188.46 492.89,189.65 493.02,190.00 493.15,189.38 493.28,188.87 493.41,189.04 493.54,189.24 493.67,189.51 493.79,189.41 493.92,188.79 494.05,189.84 494.18,187.74 494.31,188.76 494.44,189.77 494.57,189.77 494.70,189.79 494.83,189.81 494.96,189.84 495.09,189.87 495.22,189.91 495.35,189.97 495.48,190.02 495.60,190.09 495.73,190.16 495.86,190.24 495.99,190.33 496.12,190.42 496.25,190.53 496.38,190.64 496.51,190.75 496.64,190.88 496.77,191.01 496.90,191.15 497.03,191.30 497.16,191.45 497.28,191.61 497.41,191.78 497.54,191.96 497.67,192.14 497.80,192.34 497.93,192.53 498.06,192.74 498.19,192.95 498.32,193.18 498.45,193.40 498.58,193.64 498.71,193.88 498.84,194.13 498.96,194.39 499.09,194.66 499.22,194.93 499.35,195.21 499.48,195.50 499.61,195.79 499.74,196.10 499.87,196.41 500.00,196.72 500.13,197.05 500.26,197.38 500.39,197.72 500.52,198.07 500.64,198.42 500.77,198.79 500.90,199.15 501.03,199.53 501.16,199.92 501.29,200.31 501.42,200.71 501.55,201.11 501.68,201.53 501.81,201.95 501.94,202.38 502.07,202.81 502.20,203.26 502.32,203.71 502.45,204.17 502.58,204.63 502.71,205.10 502.84,205.58 502.97,206.07 503.10,206.57 503.23,207.07 503.36,207.58 503.49,208.10 503.62,210.22 503.75,213.94 503.88,217.66 504.00,221.38 504.13,225.09 504.26,228.81 504.39,232.53 504.52,236.25 504.65,239.97 504.78,243.69 504.91,247.41 505.04,251.13 505.17,254.85 505.30,258.56 505.43,262.28 505.56,266.00 505.68,269.72 505.81,284.85 505.94,286.83 506.07,285.16 506.20,285.50 506.33,285.00 506.46,286.83 506.59,284.94 506.72,283.99 506.85,268.43 506.98,285.02 507.11,285.32 507.24,283.90 507.37,286.22 507.49,270.74 507.62,285.20 507.75,286.52 507.88,284.87 508.01,283.88 508.14,284.83 508.27,284.12 508.40,283.97 508.53,283.95 508.66,286.55 508.79,271.26 508.92,285.49 509.05,275.56 509.17,284.52 509.30,284.70 509.43,283.95 509.56,285.34 509.69,284.21 509.82,286.51 509.95,284.80 510.08,284.00 510.21,280.04 510.34,284.24 510.47,285.95 510.60,267.90 510.73,283.87 510.85,286.16 510.98,277.05 511.11,284.42 511.24,286.60 511.37,283.99 511.50,285.73 511.63,284.28 511.76,284.56 511.89,285.00 512.02,286.01 512.15,268.44 512.28,284.16 512.41,285.27 512.53,286.13 512.66,285.03 512.79,286.54 512.92,283.88 513.05,285.51 513.18,283.89 513.31,283.83 513.44,285.53 513.57,285.21 513.70,286.59 513.83,286.16 513.96,284.97 514.09,285.14 514.21,285.94 514.34,285.53 514.47,285.99 514.60,285.09 514.73,285.04 514.86,284.16 514.99,286.77 515.12,285.56 515.25,283.81 515.38,275.38 515.51,285.73 515.64,286.04 515.77,284.88 515.89,284.99 516.02,286.26 516.15,286.42 516.28,285.72 516.41,285.44 516.54,284.72 516.67,285.09 516.80,285.90 516.93,284.56 517.06,284.04 517.19,286.37 517.32,285.79 517.45,285.90 517.58,284.69 517.70,286.09 517.83,285.30 517.96,286.51 518.09,284.10 518.22,285.97 518.35,285.07 518.48,281.93 518.61,283.97 518.74,286.41 518.87,286.45 519.00,285.56 519.13,286.47 519.26,284.85 519.38,285.46 519.51,284.56 519.64,284.20 519.77,286.72 519.90,285.84 520.03,269.51 520.16,284.29 520.29,285.09 520.42,285.79 520.55,286.59 520.68,267.86 520.81,286.38 520.94,284.25 521.06,284.03 521.19,285.01 521.32,283.93 521.45,284.14 521.58,285.07 521.71,285.54 521.84,284.40 521.97,286.68 522.10,286.17 522.23,285.77 522.36,285.60 522.49,285.35 522.62,278.27 522.74,284.28 522.87,273.33 523.00,286.59 523.13,285.05 523.26,286.09 523.39,274.24 523.52,286.16 523.65,285.58 523.78,285.00 523.91,284.84 524.04,284.87 524.17,283.99 524.30,286.14 524.42,285.11 524.55,286.05 524.68,286.45 524.81,286.30 524.94,275.87 525.07,285.04 525.20,286.33 525.33,285.47 525.46,286.51 525.59,286.68 525.72,284.18 525.85,286.41 525.98,284.61 526.10,285.90 526.23,285.11 526.36,283.90 526.49,284.57 526.62,283.81 526.75,286.01 526.88,284.40 527.01,285.67 527.14,285.52 527.27,263.82 527.40,283.91 527.53,285.13 527.66,285.26 527.79,284.56 527.91,286.06 528.04,284.10 528.17,286.59 528.30,283.93 528.43,263.31 528.56,285.46 528.69,285.29 528.82,285.17 528.95,286.41 529.08,286.60 529.21,286.14 529.34,284.72 529.47,284.12 529.59,284.83 529.72,273.96 529.85,284.81 529.98,284.41 530.11,278.60 530.24,285.99 530.37,284.09 530.50,285.22 530.63,284.31 530.76,285.29 530.89,286.26 531.02,285.05 531.15,284.66 531.27,285.16 531.40,281.05 531.53,284.16 531.66,284.35 531.79,285.40 531.92,285.66 532.05,285.75 532.18,284.53 532.31,285.38 532.44,283.91 532.57,286.67 532.70,285.77 532.83,286.09 532.95,286.26 533.08,286.15 533.21,284.35 533.34,284.21 533.47,285.37 533.60,284.25 533.73,285.90 533.86,285.86 533.99,286.23 534.12,285.39 534.25,285.84 534.38,283.87 534.51,286.34 534.63,284.60 534.76,285.63 534.89,283.96 535.02,285.71 535.15,284.04 535.28,286.63 535.41,285.81 535.54,286.38 535.67,274.64 535.80,285.29 535.93,285.44 536.06,285.22 536.19,285.05 536.31,285.65 536.44,285.10 536.57,283.78 536.70,285.34 536.83,284.42 536.96,284.81 537.09,283.89 537.22,286.48 537.35,284.53 537.48,285.00 537.61,286.82 537.74,284.58 537.87,286.70 537.99,286.73 538.12,284.98 538.25,284.88 538.38,285.97 538.51,283.84 538.64,284.95 538.77,286.05 538.90,284.39 539.03,284.09 539.16,283.93 539.29,284.57 539.42,283.84 539.55,286.15 539.68,241.69 539.80,232.30 539.93,249.76 540.06,229.40 540.19,275.50 540.32,245.99 540.45,228.35 540.58,245.72 540.71,275.50 540.84,233.22 540.97,231.09 541.10,232.61 541.23,254.60 541.36,275.50 541.48,254.47 541.61,254.16 541.74,275.50 541.87,275.50 542.00,243.57 542.13,275.50 542.26,242.56 542.39,275.50 542.52,275.50 542.65,253.94 542.78,251.81 542.91,230.74 543.04,250.60 543.16,241.21 543.29,240.57 543.42,234.47 543.55,250.14 543.68,275.50 543.81,225.13 543.94,228.42 544.07,275.50 544.20,242.41 544.33,243.37 544.46,240.23 544.59,233.00 544.72,243.13 544.84,275.50 544.97,232.78 545.10,238.00 545.23,275.50 545.36,223.98 545.49,223.97 545.62,275.50 545.75,228.99 545.88,241.74 546.01,275.50 546.09,291.00" fill="url(#gBl)" clip-path="url(#cb3)"/>
<polyline points="29.50,119.20 30.43,119.11 31.72,118.96 33.25,118.80 34.89,118.66 36.51,118.58 38.00,118.60 39.37,118.73 40.72,118.96 42.06,119.24 43.39,119.56 44.70,119.88 46.00,120.20 47.29,120.53 48.57,120.90 49.84,121.29 51.09,121.65 52.31,121.97 53.50,122.20 54.65,122.34 55.76,122.41 56.84,122.42 57.91,122.41 58.96,122.40 60.00,122.40 61.01,122.39 61.96,122.35 62.91,122.30 63.87,122.27 64.89,122.30 66.00,122.40 67.22,122.60 68.54,122.89 69.91,123.23 71.30,123.58 72.67,123.91 74.00,124.20 75.27,124.47 76.50,124.76 77.72,125.03 78.94,125.24 80.20,125.38 81.50,125.40 82.88,125.28 84.33,125.03 85.80,124.70 87.26,124.33 88.68,123.95 90.00,123.60 91.24,123.27 92.42,122.93 93.55,122.57 94.64,122.23 95.69,121.90 96.70,121.60 97.64,121.34 98.51,121.11 99.33,120.89 100.16,120.68 101.03,120.46 102.00,120.20 103.08,119.96 104.26,119.77 105.47,119.56 106.70,119.28 107.89,118.88 109.00,118.30 110.05,117.48 111.09,116.46 112.08,115.31 113.03,114.13 113.90,113.00 114.70,112.00 115.38,111.15 115.94,110.37 116.44,109.64 116.91,108.93 117.42,108.23 118.00,107.50 118.60,106.79 119.17,106.13 119.76,105.47 120.44,104.76 121.27,103.95 122.30,103.00 123.56,101.87 125.01,100.58 126.60,99.20 128.29,97.77 130.04,96.36 131.80,95.00 133.56,93.70 135.34,92.41 137.18,91.13 139.10,89.86 141.13,88.58 143.30,87.30 145.82,85.93 148.71,84.45 151.72,82.97 154.56,81.60 156.98,80.44 158.70,79.60" fill="none" stroke="#0000ff" stroke-width="1.45" stroke-linejoin="round" clip-path="url(#ct0)"/>
<polyline points="29.50,118.23 30.43,118.15 31.72,118.02 33.25,117.87 34.89,117.74 36.51,117.67 38.00,117.70 39.37,117.84 40.72,118.06 42.06,118.34 43.39,118.66 44.70,118.99 46.00,119.30 47.29,119.63 48.57,120.00 49.84,120.39 51.09,120.75 52.31,121.06 53.50,121.30 54.65,121.44 55.76,121.52 56.84,121.54 57.91,121.54 58.96,121.53 60.00,121.53 61.01,121.53 61.96,121.49 62.91,121.44 63.87,121.41 64.89,121.42 66.00,121.50 67.22,121.66 68.54,121.90 69.91,122.17 71.30,122.46 72.67,122.73 74.00,122.97 75.27,123.19 76.50,123.42 77.72,123.64 78.94,123.82 80.20,123.93 81.50,123.93 82.88,123.82 84.33,123.60 85.80,123.31 87.26,122.98 88.68,122.65 90.00,122.33 91.24,122.03 92.42,121.71 93.55,121.39 94.64,121.06 95.69,120.75 96.70,120.47 97.64,120.21 98.51,119.99 99.33,119.77 100.16,119.56 101.03,119.33 102.00,119.07 103.08,118.82 104.26,118.62 105.47,118.40 106.70,118.11 107.89,117.69 109.00,117.10 110.05,116.26 111.09,115.21 112.08,114.04 113.03,112.83 113.90,111.68 114.70,110.67 115.38,109.81 115.94,109.03 116.44,108.31 116.91,107.61 117.42,106.90 118.00,106.17 118.60,105.44 119.17,104.74 119.76,104.04 120.44,103.30 121.27,102.46 122.30,101.50 123.56,100.37 125.01,99.10 126.60,97.73 128.29,96.33 130.04,94.95 131.80,93.63 133.56,92.38 135.34,91.15 137.18,89.94 139.10,88.73 141.13,87.52 143.30,86.30 145.82,84.98 148.71,83.56 151.72,82.14 154.56,80.82 156.98,79.71 158.70,78.90" fill="none" stroke="#00f000" stroke-width="1.45" stroke-linejoin="round" clip-path="url(#ct0)"/>
<polyline points="29.50,117.27 30.43,117.19 31.72,117.07 33.25,116.93 34.89,116.82 36.51,116.76 38.00,116.80 39.37,116.94 40.72,117.17 42.06,117.45 43.39,117.76 44.70,118.09 46.00,118.40 47.29,118.73 48.57,119.10 49.84,119.48 51.09,119.85 52.31,120.16 53.50,120.40 54.65,120.55 55.76,120.63 56.84,120.66 57.91,120.67 58.96,120.66 60.00,120.67 61.01,120.66 61.96,120.62 62.91,120.58 63.87,120.55 64.89,120.55 66.00,120.60 67.22,120.72 68.54,120.90 69.91,121.12 71.30,121.34 72.67,121.55 74.00,121.73 75.27,121.90 76.50,122.09 77.72,122.26 78.94,122.40 80.20,122.47 81.50,122.47 82.88,122.36 84.33,122.17 85.80,121.92 87.26,121.64 88.68,121.34 90.00,121.07 91.24,120.79 92.42,120.50 93.55,120.20 94.64,119.90 95.69,119.61 96.70,119.33 97.64,119.09 98.51,118.87 99.33,118.65 100.16,118.43 101.03,118.20 102.00,117.93 103.08,117.68 104.26,117.47 105.47,117.24 106.70,116.94 107.89,116.51 109.00,115.90 110.05,115.04 111.09,113.97 112.08,112.77 113.03,111.54 113.90,110.36 114.70,109.33 115.38,108.47 115.94,107.69 116.44,106.97 116.91,106.28 117.42,105.58 118.00,104.83 118.60,104.08 119.17,103.35 119.76,102.62 120.44,101.84 121.27,100.98 122.30,100.00 123.56,98.87 125.01,97.61 126.60,96.27 128.29,94.90 130.04,93.54 131.80,92.27 133.56,91.06 135.34,89.89 137.18,88.74 139.10,87.60 141.13,86.46 143.30,85.30 145.82,84.04 148.71,82.68 151.72,81.31 154.56,80.05 156.98,78.97 158.70,78.20" fill="none" stroke="#ff0000" stroke-width="1.45" stroke-linejoin="round" clip-path="url(#ct0)"/>
<polyline points="29.50,116.30 30.43,116.23 31.72,116.12 33.25,116.00 34.89,115.90 36.51,115.86 38.00,115.90 39.37,116.05 40.72,116.27 42.06,116.55 43.39,116.86 44.70,117.19 46.00,117.50 47.29,117.83 48.57,118.20 49.84,118.58 51.09,118.94 52.31,119.26 53.50,119.50 54.65,119.65 55.76,119.74 56.84,119.78 57.91,119.79 58.96,119.79 60.00,119.80 61.01,119.80 61.96,119.76 62.91,119.72 63.87,119.68 64.89,119.67 66.00,119.70 67.22,119.78 68.54,119.91 69.91,120.06 71.30,120.22 72.67,120.37 74.00,120.50 75.27,120.62 76.50,120.75 77.72,120.88 78.94,120.97 80.20,121.02 81.50,121.00 82.88,120.90 84.33,120.74 85.80,120.53 87.26,120.29 88.68,120.04 90.00,119.80 91.24,119.55 92.42,119.29 93.55,119.01 94.64,118.73 95.69,118.46 96.70,118.20 97.64,117.96 98.51,117.74 99.33,117.53 100.16,117.31 101.03,117.07 102.00,116.80 103.08,116.54 104.26,116.32 105.47,116.08 106.70,115.77 107.89,115.32 109.00,114.70 110.05,113.82 111.09,112.73 112.08,111.50 113.03,110.24 113.90,109.04 114.70,108.00 115.38,107.13 115.94,106.36 116.44,105.64 116.91,104.96 117.42,104.25 118.00,103.50 118.60,102.73 119.17,101.97 119.76,101.19 120.44,100.38 121.27,99.49 122.30,98.50 123.56,97.37 125.01,96.12 126.60,94.80 128.29,93.46 130.04,92.14 131.80,90.90 133.56,89.74 135.34,88.63 137.18,87.55 139.10,86.48 141.13,85.40 143.30,84.30 145.82,83.10 148.71,81.80 151.72,80.49 154.56,79.27 156.98,78.24 158.70,77.50" fill="none" stroke="#000000" stroke-width="1.45" stroke-linejoin="round" clip-path="url(#ct0)"/>
<polyline points="158.70,100.00 158.78,99.52 158.85,99.05 158.92,98.61 158.99,98.17 159.05,97.73 159.13,97.21 159.21,96.69 159.29,96.17 159.37,95.75 159.44,95.33 159.51,94.91 159.58,94.49 159.67,94.08 159.75,93.66 159.83,93.24 159.92,92.83 160.04,92.32 160.17,91.81 160.30,91.30 160.45,90.82 160.60,90.34 160.75,89.86 160.93,89.37 161.10,88.88 161.27,88.39 161.46,87.90 161.65,87.42 161.84,86.93 162.04,86.46 162.24,85.99 162.44,85.52 162.63,85.08 162.83,84.64 163.03,84.20 163.22,83.80 163.41,83.40 163.60,83.00 163.78,82.64 163.97,82.29 164.15,81.93 164.43,81.44 164.70,80.96 164.97,80.51 165.25,80.07 165.52,79.66 165.80,79.26 166.07,78.88 166.35,78.50 166.62,78.15 166.90,77.80 167.16,77.49 167.41,77.18 167.88,76.65 168.34,76.18 168.86,75.74 169.46,75.29 169.83,75.05 170.20,74.80 170.63,74.52 171.07,74.25 171.54,73.95 172.02,73.66 172.37,73.46 172.72,73.26 173.07,73.06 173.45,72.87 173.83,72.68 174.21,72.49 174.63,72.31 175.04,72.13 175.45,71.96 175.90,71.80 176.35,71.65 176.80,71.50 177.28,71.37 177.76,71.24 178.24,71.11 178.75,70.99 179.26,70.87 179.77,70.76 180.18,70.68 180.59,70.60 180.99,70.53 181.40,70.45 181.84,70.39 182.27,70.33 182.71,70.26 183.14,70.20 183.61,70.15 184.07,70.11 184.54,70.06 185.00,70.01 185.50,69.99 186.00,69.96 186.50,69.93 187.00,69.90 187.43,69.89 187.86,69.88 188.29,69.87 188.72,69.87 189.15,69.86 189.60,69.86 190.06,69.87 190.52,69.87 190.98,69.87 191.44,69.88 191.84,69.89 192.24,69.91 192.64,69.92 193.05,69.93 193.45,69.95 193.85,69.96 194.27,69.99 194.69,70.01 195.11,70.04 195.53,70.06 195.94,70.09 196.36,70.11 196.79,70.15 197.23,70.18 197.66,70.22 198.09,70.25 198.52,70.29 198.95,70.32 199.39,70.37 199.84,70.42 200.28,70.46 200.72,70.51 201.16,70.55 201.60,70.60 202.00,70.65 202.41,70.70 202.81,70.76 203.22,70.81 203.62,70.86 204.02,70.91 204.43,70.97 204.86,71.03 205.30,71.10 205.73,71.17 206.17,71.23 206.61,71.30 207.04,71.36 207.48,71.43 207.92,71.50 208.37,71.58 208.82,71.66 209.27,71.73 209.71,71.81 210.16,71.88 210.61,71.96 211.04,72.04 211.48,72.12 211.92,72.20 212.36,72.28 212.79,72.36 213.23,72.44 213.67,72.51 214.07,72.59 214.48,72.67 214.89,72.75 215.29,72.83 215.70,72.91 216.11,72.99 216.51,73.07 216.93,73.16 217.34,73.25 217.76,73.34 218.17,74.04 218.59,73.92 219.00,73.81 219.41,73.70 219.83,73.60 220.24,73.49 220.66,73.38 221.07,73.49 221.51,73.83 221.95,74.16 222.39,74.49 222.83,74.83 223.22,75.14 223.60,75.44 223.99,75.47 224.38,75.39 224.85,75.32 225.33,75.25 225.80,75.18 226.27,75.12 226.74,75.25 227.21,75.66 227.71,76.09 228.20,76.52 228.70,76.96 229.09,77.33 229.49,77.62 229.88,77.61 230.27,77.60 230.67,77.63 231.06,77.66 231.46,77.69 231.85,77.72 232.24,77.76 232.63,78.18 233.02,78.60 233.41,79.03 233.79,79.42 234.17,79.81 234.55,80.21 234.93,80.60 235.41,80.73 235.88,80.69 236.36,80.66 236.81,80.51 237.25,80.37 237.70,80.22 238.10,80.10 238.50,80.23 238.91,80.36 239.27,80.36 239.63,80.36 240.00,80.35 240.34,80.26 240.67,80.17 241.01,79.86 241.34,79.40 241.67,78.93 241.99,78.47 242.32,77.99 242.65,77.51 242.98,77.03 243.32,76.56 243.66,76.10 244.00,75.97 244.35,75.85 244.71,75.73 245.06,75.60 245.42,75.45 245.77,75.30 246.13,75.15 246.49,74.99 246.84,74.49 247.20,73.97 247.56,73.46 247.91,72.95 248.27,72.44 248.63,71.95 248.98,71.46 249.34,70.96 249.69,70.84 250.05,70.73 250.40,70.62 250.75,70.54 251.10,70.46 251.46,70.38 251.81,70.33 252.16,70.28 252.51,69.92 252.86,69.54 253.21,69.16 253.56,68.78 253.91,68.41 254.25,68.04 254.60,67.67 255.13,67.20 255.65,67.17 256.18,67.14 256.70,67.11 257.22,67.08 257.75,67.04 258.27,66.65 258.80,66.11 259.32,65.57 259.84,65.04 260.37,64.52 260.89,64.13 261.42,64.14 261.94,64.15 262.47,64.18 263.00,64.21 263.53,64.26 264.06,63.86 264.59,63.40 265.13,62.95 265.66,62.52 266.19,62.08 266.73,61.93 267.26,62.03 267.80,62.13 268.33,62.24 268.87,62.34 269.40,62.35 269.93,61.93 270.47,61.51 271.00,61.09 271.54,60.67 272.08,60.26 272.61,60.30 273.15,60.42 273.68,60.54 274.21,60.68 274.74,60.81 275.27,60.68 275.80,60.31 276.33,59.95 276.85,59.59 277.38,59.25 277.91,58.96 278.43,59.14 278.96,59.32 279.47,59.51 279.99,59.70 280.50,59.89 281.01,59.77 281.50,59.47 282.00,59.16 282.51,58.85 283.02,58.54 283.55,58.22 284.09,58.42 284.61,58.62 285.14,58.82 285.62,59.01 286.10,59.20 286.50,59.25 286.91,59.01 287.50,58.66" fill="none" stroke="#00f000" stroke-width="1.80" stroke-linejoin="round" clip-path="url(#ct1)"/>
<polyline points="158.70,107.50 158.79,106.97 158.88,106.44 158.96,105.94 159.04,105.44 159.12,104.94 159.19,104.51 159.26,104.07 159.33,103.63 159.41,103.19 159.48,102.72 159.56,102.26 159.64,101.80 159.71,101.33 159.79,100.89 159.87,100.44 159.94,99.99 160.02,99.55 160.11,99.03 160.21,98.52 160.30,98.00 160.38,97.56 160.47,97.11 160.55,96.67 160.63,96.25 160.71,95.84 160.80,95.42 160.88,95.02 160.96,94.63 161.04,94.24 161.16,93.68 161.28,93.11 161.41,92.58 161.53,92.04 161.67,91.52 161.80,91.00 161.93,90.52 162.07,90.04 162.19,89.61 162.32,89.19 162.45,88.78 162.59,88.38 162.73,87.97 162.88,87.56 163.04,87.12 163.21,86.69 163.40,86.19 163.60,85.70 163.75,85.32 163.91,84.93 164.06,84.55 164.24,84.12 164.41,83.69 164.59,83.27 164.78,82.82 164.97,82.37 165.16,81.93 165.35,81.48 165.55,81.04 165.74,80.60 165.94,80.19 166.14,79.78 166.33,79.37 166.52,79.01 166.71,78.66 166.90,78.30 167.16,77.86 167.41,77.42 167.64,77.05 167.88,76.67 168.11,76.34 168.34,76.01 168.86,75.41 169.16,75.11 169.46,74.82 169.83,74.51 170.20,74.20 170.63,73.87 171.07,73.55 171.54,73.22 172.02,72.89 172.37,72.68 172.72,72.46 173.07,72.25 173.45,72.05 173.83,71.84 174.21,71.64 174.63,71.46 175.04,71.27 175.45,71.08 175.90,70.92 176.35,70.76 176.80,70.60 177.28,70.46 177.76,70.32 178.24,70.18 178.75,70.06 179.26,69.93 179.77,69.81 180.18,69.73 180.59,69.65 180.99,69.57 181.40,69.49 181.84,69.43 182.27,69.36 182.71,69.30 183.14,69.23 183.61,69.18 184.07,69.13 184.54,69.08 185.00,69.03 185.40,69.01 185.80,68.98 186.20,68.95 186.60,68.93 187.00,68.90 187.43,68.89 187.86,68.87 188.29,68.86 188.72,68.84 189.15,68.83 189.60,68.83 190.06,68.83 190.52,68.82 190.98,68.82 191.44,68.82 191.84,68.83 192.24,68.84 192.64,68.84 193.05,68.85 193.45,68.86 193.85,68.87 194.27,68.89 194.69,68.91 195.11,68.93 195.53,68.94 195.94,68.96 196.36,68.98 196.79,69.01 197.23,69.04 197.66,69.07 198.09,69.10 198.52,69.13 198.95,69.16 199.39,69.20 199.84,69.24 200.28,69.28 200.72,69.32 201.16,69.36 201.60,69.40 202.00,69.45 202.41,69.49 202.81,69.54 203.22,69.59 203.62,69.64 204.02,69.68 204.43,69.73 204.86,69.79 205.30,69.85 205.73,69.91 206.17,69.97 206.61,70.03 207.04,70.09 207.48,70.15 207.92,70.22 208.37,70.29 208.82,70.36 209.27,70.43 209.71,70.50 210.16,70.57 210.61,70.64 211.04,70.71 211.48,70.79 211.92,70.86 212.36,70.94 212.79,71.01 213.23,71.08 213.67,71.16 214.07,71.23 214.48,71.31 214.89,71.39 215.29,71.46 215.70,71.54 216.11,71.61 216.51,71.69 216.93,71.77 217.34,71.86 217.76,71.94 218.17,73.17 218.59,72.88 219.00,72.59 219.41,72.31 219.83,72.03 220.24,71.74 220.66,71.46 221.07,71.58 221.51,72.10 221.95,72.62 222.39,73.14 222.83,73.67 223.22,74.14 223.60,74.61 223.99,74.56 224.38,74.33 224.85,74.06 225.33,73.80 225.80,73.53 226.27,73.29 226.74,73.39 227.21,74.00 227.58,74.49 227.96,74.98 228.33,75.47 228.70,75.96 229.09,76.51 229.49,76.91 229.88,76.75 230.27,76.58 230.67,76.46 231.06,76.34 231.46,76.22 231.85,76.10 232.24,76.00 232.63,76.59 233.02,77.20 233.41,77.80 233.79,78.37 234.17,78.94 234.55,79.51 234.93,80.08 235.41,80.17 235.88,79.94 236.36,79.72 236.81,79.39 237.25,79.06 237.70,78.73 238.10,78.55 238.50,78.84 238.91,79.12 239.27,79.24 239.63,79.37 240.00,79.49 240.34,79.50 240.67,79.52 241.01,79.14 241.34,78.50 241.67,77.86 241.99,77.22 242.32,76.57 242.65,75.92 242.98,75.28 243.32,74.64 243.66,74.03 244.00,74.02 244.35,74.04 244.71,74.05 245.06,74.07 245.42,74.06 245.77,74.06 246.13,74.06 246.49,74.05 246.84,73.41 247.20,72.75 247.56,72.09 247.91,71.43 248.27,70.78 248.63,70.14 248.98,69.50 249.34,68.86 249.69,68.88 250.05,68.92 250.40,68.96 250.75,69.03 251.10,69.10 251.46,69.17 251.81,69.26 252.16,69.36 252.51,68.89 252.86,68.36 253.21,67.83 253.56,67.31 253.91,66.79 254.25,66.27 254.60,65.76 255.13,65.13 255.65,65.33 256.18,65.52 256.70,65.71 257.22,65.89 257.75,66.08 258.27,65.59 258.80,64.83 259.32,64.08 259.84,63.32 260.37,62.58 260.89,62.09 261.42,62.32 261.94,62.55 262.47,62.80 263.00,63.05 263.53,63.33 264.06,62.76 264.59,62.09 265.13,61.41 265.66,60.75 266.19,60.09 266.73,59.95 267.26,60.27 267.80,60.60 268.33,60.93 268.87,61.26 269.40,61.41 269.93,60.76 270.47,60.12 271.00,59.47 271.54,58.83 272.08,58.19 272.61,58.40 273.15,58.74 273.68,59.09 274.21,59.44 274.74,59.80 275.27,59.67 275.80,59.07 276.33,58.49 276.85,57.91 277.38,57.34 277.91,56.88 278.43,57.29 278.96,57.69 279.47,58.10 279.99,58.50 280.50,58.90 281.01,58.74 281.50,58.23 282.00,57.71 282.51,57.19 283.02,56.66 283.55,56.12 284.09,56.55 284.61,56.97 285.14,57.39 285.62,57.78 286.10,58.17 286.50,58.31 286.91,57.90 287.50,57.30" fill="none" stroke="#ff0000" stroke-width="1.80" stroke-linejoin="round" clip-path="url(#ct1)"/>
<polyline points="158.70,106.50 158.79,105.97 158.88,105.44 158.96,104.94 159.04,104.44 159.12,103.94 159.19,103.51 159.26,103.07 159.33,102.63 159.41,102.19 159.48,101.72 159.56,101.26 159.64,100.80 159.71,100.33 159.79,99.89 159.87,99.44 159.94,98.99 160.02,98.55 160.11,98.03 160.21,97.52 160.30,97.00 160.38,96.56 160.47,96.11 160.55,95.67 160.63,95.25 160.71,94.84 160.80,94.42 160.88,94.02 160.96,93.63 161.04,93.24 161.16,92.68 161.28,92.11 161.41,91.58 161.53,91.04 161.67,90.52 161.80,90.00 161.93,89.52 162.07,89.04 162.19,88.61 162.32,88.19 162.45,87.78 162.59,87.38 162.73,86.97 162.88,86.56 163.04,86.12 163.21,85.69 163.40,85.19 163.60,84.70 163.75,84.32 163.91,83.93 164.06,83.55 164.24,83.12 164.41,82.69 164.59,82.27 164.78,81.82 164.97,81.37 165.16,80.93 165.35,80.48 165.55,80.04 165.74,79.60 165.94,79.19 166.14,78.78 166.33,78.37 166.52,78.01 166.71,77.66 166.90,77.30 167.16,76.86 167.41,76.42 167.64,76.05 167.88,75.67 168.11,75.34 168.34,75.01 168.86,74.41 169.16,74.11 169.46,73.82 169.83,73.51 170.20,73.20 170.63,72.87 171.07,72.55 171.54,72.22 172.02,71.89 172.37,71.68 172.72,71.46 173.07,71.25 173.45,71.05 173.83,70.84 174.21,70.64 174.63,70.46 175.04,70.27 175.45,70.08 175.90,69.92 176.35,69.76 176.80,69.60 177.28,69.46 177.76,69.32 178.24,69.18 178.75,69.06 179.26,68.93 179.77,68.81 180.18,68.73 180.59,68.65 180.99,68.57 181.40,68.49 181.84,68.43 182.27,68.36 182.71,68.30 183.14,68.23 183.61,68.18 184.07,68.13 184.54,68.08 185.00,68.03 185.40,68.01 185.80,67.98 186.20,67.95 186.60,67.93 187.00,67.90 187.43,67.89 187.86,67.87 188.29,67.86 188.72,67.84 189.15,67.83 189.60,67.83 190.06,67.83 190.52,67.82 190.98,67.82 191.44,67.82 191.84,67.83 192.24,67.84 192.64,67.84 193.05,67.85 193.45,67.86 193.85,67.87 194.27,67.89 194.69,67.91 195.11,67.93 195.53,67.94 195.94,67.96 196.36,67.98 196.79,68.01 197.23,68.04 197.66,68.07 198.09,68.10 198.52,68.13 198.95,68.16 199.39,68.20 199.84,68.24 200.28,68.28 200.72,68.32 201.16,68.36 201.60,68.40 202.00,68.45 202.41,68.49 202.81,68.54 203.22,68.59 203.62,68.64 204.02,68.68 204.43,68.73 204.86,68.79 205.30,68.85 205.73,68.91 206.17,68.97 206.61,69.03 207.04,69.09 207.48,69.15 207.92,69.22 208.37,69.29 208.82,69.36 209.27,69.43 209.71,69.50 210.16,69.57 210.61,69.64 211.04,69.71 211.48,69.79 211.92,69.86 212.36,69.94 212.79,70.01 213.23,70.08 213.67,70.16 214.07,70.23 214.48,70.31 214.89,70.39 215.29,70.46 215.70,70.54 216.11,70.61 216.51,70.69 216.93,70.77 217.34,70.86 217.76,70.94 218.17,71.91 218.59,71.70 219.00,71.50 219.41,71.30 219.83,71.11 220.24,70.92 220.66,70.72 221.07,70.84 221.51,71.27 221.95,71.69 222.39,72.12 222.83,72.55 223.22,72.94 223.60,73.33 223.99,73.32 224.38,73.17 224.85,73.01 225.33,72.84 225.80,72.68 226.27,72.53 226.74,72.65 227.21,73.16 227.58,73.58 227.96,73.99 228.33,74.40 228.70,74.81 229.09,75.28 229.49,75.63 229.88,75.55 230.27,75.46 230.67,75.43 231.06,75.39 231.46,75.36 231.85,75.32 232.24,75.30 232.63,75.81 233.02,76.33 233.41,76.86 233.79,77.35 234.17,77.84 234.55,78.33 234.93,78.81 235.41,78.93 235.88,78.81 236.36,78.68 236.81,78.45 237.25,78.21 237.70,77.98 238.10,77.82 238.50,78.02 238.91,78.22 239.27,78.27 239.63,78.31 240.00,78.36 240.34,78.30 240.67,78.24 241.01,77.89 241.34,77.32 241.67,76.75 241.99,76.17 242.32,75.59 242.65,75.01 242.98,74.43 243.32,73.87 243.66,73.33 244.00,73.25 244.35,73.19 244.71,73.13 245.06,73.07 245.42,72.99 245.77,72.91 246.13,72.84 246.49,72.75 246.84,72.18 247.20,71.60 247.56,71.01 247.91,70.43 248.27,69.85 248.63,69.29 248.98,68.72 249.34,68.16 249.69,68.11 250.05,68.07 250.40,68.04 250.75,68.03 251.10,68.03 251.46,68.03 251.81,68.05 252.16,68.07 252.51,67.65 252.86,67.20 253.21,66.75 253.56,66.29 253.91,65.85 254.25,65.41 254.60,64.97 255.13,64.42 255.65,64.50 256.18,64.58 256.70,64.66 257.22,64.74 257.75,64.81 258.27,64.37 258.80,63.72 259.32,63.07 259.84,62.43 260.37,61.80 260.89,61.36 261.42,61.48 261.94,61.60 262.47,61.74 263.00,61.88 263.53,62.04 264.06,61.56 264.59,61.00 265.13,60.43 265.66,59.88 266.19,59.34 266.73,59.19 267.26,59.40 267.80,59.62 268.33,59.83 268.87,60.05 269.40,60.13 269.93,59.60 270.47,59.06 271.00,58.53 271.54,58.00 272.08,57.48 272.61,57.60 273.15,57.83 273.68,58.07 274.21,58.31 274.74,58.55 275.27,58.43 275.80,57.94 276.33,57.47 276.85,57.00 277.38,56.54 277.91,56.17 278.43,56.46 278.96,56.76 279.47,57.05 279.99,57.35 280.50,57.65 281.01,57.51 281.50,57.10 282.00,56.69 282.51,56.27 283.02,55.85 283.55,55.42 284.09,55.73 284.61,56.05 285.14,56.36 285.62,56.65 286.10,56.93 286.50,57.03 286.91,56.70 287.50,56.23" fill="none" stroke="#000000" stroke-width="1.70" stroke-linejoin="round" clip-path="url(#ct1)"/>
<polyline points="287.50,75.40 288.39,74.94 289.60,74.29 291.05,73.53 292.62,72.73 294.20,72.00 295.70,71.40 297.03,70.94 298.27,70.54 299.52,70.20 300.91,69.90 302.53,69.64 304.50,69.40 306.90,69.18 309.66,68.99 312.66,68.83 315.77,68.70 318.89,68.63 321.90,68.60 324.90,68.63 328.02,68.71 331.14,68.84 334.15,69.00 336.94,69.19 339.40,69.40 341.47,69.62 343.22,69.86 344.75,70.13 346.16,70.44 347.54,70.79 349.00,71.20 350.50,71.68 351.96,72.21 353.40,72.79 354.83,73.41 356.25,74.05 357.70,74.70 359.16,75.47 360.63,76.39 362.10,77.34 363.57,78.17 365.04,78.77 366.50,79.00 367.96,78.80 369.41,78.27 370.86,77.50 372.30,76.59 373.75,75.62 375.20,74.70 376.65,73.77 378.10,72.74 379.55,71.66 381.00,70.57 382.45,69.54 383.90,68.60 385.35,67.75 386.80,66.96 388.24,66.21 389.69,65.51 391.14,64.84 392.60,64.20 393.99,63.60 395.29,63.05 396.60,62.54 398.00,62.05 399.57,61.57 401.40,61.10 403.73,60.61 406.53,60.10 409.50,59.61 412.35,59.16 414.78,58.78 416.50,58.50" fill="none" stroke="#000000" stroke-width="1.70" stroke-linejoin="round" clip-path="url(#ct2)"/>
<polyline points="287.50,72.92 288.39,72.48 289.60,71.85 291.05,71.11 292.62,70.36 294.20,69.66 295.70,69.11 297.03,68.70 298.27,68.37 299.52,68.10 300.91,67.87 302.53,67.67 304.50,67.48 306.90,67.28 309.66,67.10 312.66,66.94 315.77,66.82 318.89,66.75 321.90,66.74 324.90,66.80 328.02,66.93 331.14,67.11 334.15,67.32 336.94,67.55 339.40,67.79 341.47,68.03 343.22,68.29 344.75,68.57 346.16,68.88 347.54,69.21 349.00,69.59 350.50,70.01 351.96,70.47 353.40,70.97 354.83,71.48 356.25,72.01 357.70,72.53 359.16,73.14 360.63,73.87 362.10,74.61 363.57,75.25 365.04,75.67 366.50,75.78 367.96,75.50 369.41,74.93 370.86,74.14 372.30,73.24 373.75,72.30 375.20,71.41 376.65,70.54 378.10,69.60 379.55,68.62 381.00,67.65 382.45,66.72 383.90,65.87 385.35,65.10 386.80,64.36 388.24,63.67 389.69,63.03 391.14,62.42 392.60,61.84 393.99,61.32 395.29,60.86 396.60,60.43 398.00,60.03 399.57,59.64 401.40,59.24 403.73,58.81 406.53,58.37 409.50,57.93 412.35,57.53 414.78,57.20 416.50,56.95" fill="none" stroke="#ff0000" stroke-width="1.30" stroke-linejoin="round" clip-path="url(#ct2)"/>
<polyline points="287.50,71.40 288.39,70.97 289.60,70.36 291.05,69.64 292.62,68.90 294.20,68.23 295.70,67.70 297.03,67.33 298.27,67.04 299.52,66.81 300.91,66.63 302.53,66.47 304.50,66.30 306.90,66.12 309.66,65.94 312.66,65.79 315.77,65.67 318.89,65.60 321.90,65.60 324.90,65.68 328.02,65.84 331.14,66.04 334.15,66.29 336.94,66.54 339.40,66.80 341.47,67.06 343.22,67.33 344.75,67.61 346.16,67.92 347.54,68.25 349.00,68.60 350.50,68.99 351.96,69.41 353.40,69.85 354.83,70.30 356.25,70.76 357.70,71.20 359.16,71.71 360.63,72.33 362.10,72.94 363.57,73.45 365.04,73.77 366.50,73.80 367.96,73.48 369.41,72.88 370.86,72.09 372.30,71.19 373.75,70.26 375.20,69.40 376.65,68.56 378.10,67.67 379.55,66.76 381.00,65.86 382.45,64.99 383.90,64.20 385.35,63.47 386.80,62.77 388.24,62.12 389.69,61.50 391.14,60.93 392.60,60.40 393.99,59.93 395.29,59.51 396.60,59.14 398.00,58.80 399.57,58.45 401.40,58.10 403.73,57.71 406.53,57.31 409.50,56.91 412.35,56.54 414.78,56.23 416.50,56.00" fill="none" stroke="#00f000" stroke-width="2.00" stroke-linejoin="round" clip-path="url(#ct2)"/>
<clipPath id="cdl"><rect x="416.5" y="47.6" width="52" height="103.4"/></clipPath><clipPath id="cdr"><rect x="468.5" y="47.6" width="76.8" height="103.4"/></clipPath>
<polyline points="416.50,69.30 418.34,68.97 420.89,68.48 423.91,67.92 427.17,67.36 430.45,66.90 433.50,66.60 436.38,66.48 439.27,66.46 442.17,66.54 445.08,66.68 447.99,66.88 450.90,67.10 453.90,67.38 457.02,67.74 460.14,68.14 463.15,68.57 465.94,69.00 468.40,69.40 470.47,69.77 472.22,70.14 473.75,70.51 475.16,70.87 476.54,71.23 478.00,71.60 479.50,71.95 480.96,72.29 482.40,72.62 483.83,72.98 485.25,73.36 486.70,73.80 488.16,74.39 489.63,75.16 491.10,75.95 492.57,76.64 494.04,77.11 495.50,77.20 496.96,76.85 498.41,76.16 499.86,75.23 501.30,74.18 502.75,73.13 504.20,72.20 505.65,71.35 507.10,70.47 508.55,69.59 510.00,68.73 511.45,67.93 512.90,67.20 514.35,66.55 515.80,65.97 517.24,65.44 518.69,64.94 520.14,64.47 521.60,64.00 522.99,63.55 524.30,63.13 525.61,62.74 527.01,62.36 528.58,61.98 530.40,61.60 532.70,61.20 535.47,60.77 538.40,60.35 541.21,59.96 543.61,59.64 545.30,59.40" fill="none" stroke="#ff0000" stroke-width="1.90" stroke-linejoin="round" clip-path="url(#cdl)"/>
<polyline points="416.50,69.30 416.96,69.22 417.42,69.13 417.88,69.05 418.34,68.97 418.77,68.89 419.19,68.81 419.62,68.73 420.04,68.64 420.47,68.56 420.89,68.48 421.32,68.40 421.76,68.32 422.19,68.24 422.62,68.16 423.05,68.08 423.48,68.00 423.91,67.92 424.32,67.85 424.73,67.78 425.14,67.71 425.54,67.64 425.95,67.57 426.36,67.50 426.77,67.43 427.17,67.36 427.58,67.30 427.99,67.25 428.40,67.19 428.81,67.13 429.22,67.07 429.63,67.01 430.04,66.95 430.45,66.90 430.88,66.85 431.32,66.81 431.76,66.77 432.19,66.73 432.63,66.68 433.06,66.64 433.50,66.60 433.91,66.58 434.32,66.56 434.73,66.55 435.14,66.53 435.55,66.51 435.96,66.49 436.38,66.48 436.79,66.48 437.20,66.47 437.61,66.47 438.03,66.47 438.44,66.47 438.85,66.47 439.27,66.46 439.68,66.47 440.10,66.48 440.51,66.49 440.93,66.51 441.34,66.52 441.75,66.53 442.17,66.54 442.58,66.56 443.00,66.58 443.42,66.60 443.83,66.62 444.25,66.64 444.66,66.66 445.08,66.68 445.49,66.71 445.91,66.74 446.33,66.76 446.74,66.79 447.16,66.82 447.57,66.85 447.99,66.88 448.41,66.91 448.82,66.94 449.24,66.97 449.65,67.00 450.07,67.04 450.48,67.07 450.90,67.10 451.33,67.14 451.76,67.18 452.19,67.22 452.62,67.26 453.04,67.30 453.47,67.34 453.90,67.38 454.35,67.43 454.79,67.48 455.24,67.53 455.68,67.58 456.13,67.64 456.57,67.69 457.02,67.74 457.46,67.80 457.91,67.85 458.36,67.91 458.80,67.97 459.25,68.03 459.69,68.09 460.14,68.14 460.57,68.21 461.00,68.27 461.43,68.33 461.86,68.39 462.29,68.45 462.72,68.51 463.15,68.57 463.55,68.64 463.95,68.70 464.34,68.76 464.74,68.82 465.14,68.88 465.54,68.94 465.94,69.00 466.35,69.07 466.76,69.13 467.17,69.20 467.58,69.27 467.99,69.33 468.40,70.47 468.81,69.99 469.23,69.51 469.64,69.04 470.05,68.56 470.47,68.26 470.91,68.94 471.34,69.61 471.78,70.29 472.22,70.97 472.73,71.77 473.24,71.40 473.75,70.84 474.22,70.33 474.69,69.83 475.16,69.32 475.62,69.95 476.08,70.69 476.54,71.43 477.03,72.20 477.51,72.96 478.00,72.67 478.50,72.12 479.00,71.57 479.50,71.02 479.99,70.48 480.48,71.21 480.96,71.97 481.44,72.72 481.92,73.47 482.40,74.22 482.88,73.71 483.35,73.19 483.83,72.68 484.30,72.17 484.78,71.66 485.25,72.37 485.74,73.16 486.22,73.95 486.70,74.73 487.19,75.58 487.67,75.16 488.16,74.71 488.53,74.41 488.90,74.11 489.26,73.81 489.63,73.60 490.00,74.28 490.36,74.97 490.73,75.66 491.10,76.35 491.47,77.01 491.84,77.68 492.20,77.80 492.57,77.48 493.06,76.99 493.55,76.49 494.04,75.99 494.53,75.70 495.01,76.39 495.50,77.07 495.99,77.60 496.47,78.13 496.96,78.25 497.32,77.59 497.68,76.93 498.04,76.27 498.41,75.61 498.77,74.90 499.13,74.18 499.49,74.25 499.86,74.50 500.22,74.72 500.58,74.94 500.94,75.16 501.30,75.38 501.67,75.43 502.03,74.68 502.39,73.94 502.75,73.20 503.11,72.48 503.48,71.76 503.84,71.05 504.20,70.87 504.56,71.14 504.92,71.41 505.29,71.68 505.65,71.95 506.01,72.21 506.38,72.47 506.74,71.84 507.10,71.13 507.46,70.43 507.82,69.73 508.19,69.02 508.55,68.32 508.91,67.92 509.27,68.19 509.64,68.46 510.00,68.73 510.36,69.02 510.73,69.30 511.09,69.58 511.45,69.20 511.81,68.53 512.17,67.86 512.54,67.20 512.90,66.53 513.38,65.67 513.87,65.52 514.35,65.95 514.83,66.40 515.31,66.85 515.80,67.30 516.28,67.02 516.76,66.20 517.24,65.38 517.73,64.57 518.21,63.76 518.69,63.73 519.18,64.22 519.66,64.70 520.14,65.19 520.63,65.68 521.11,65.34 521.60,64.53 522.06,63.77 522.53,63.00 522.99,62.23 523.43,62.11 523.86,62.56 524.30,63.00 524.74,63.45 525.17,63.90 525.61,64.32 526.08,63.57 526.54,62.82 527.01,62.07 527.40,61.46 527.80,60.84 528.19,60.72 528.58,61.15 529.03,61.66 529.49,62.18 529.94,62.69 530.40,63.20 530.86,62.51 531.32,61.81 531.78,61.12 532.24,60.42 532.70,59.73 533.16,60.01 533.62,60.55 534.08,61.10 534.55,61.64 535.01,62.18 535.47,62.01 535.89,61.40 536.30,60.78 536.72,60.16 537.14,59.54 537.56,58.92 537.98,59.32 538.40,59.82 538.80,60.30 539.20,60.78 539.60,61.26 540.01,61.72 540.41,61.13 540.81,60.54 541.21,59.95 541.61,59.36 542.01,58.77 542.41,58.21 542.81,58.69 543.21,59.17 543.61,59.65 544.03,60.15 544.45,60.66 544.88,60.96 545.30,60.33" fill="none" stroke="#ff0000" stroke-width="2.80" stroke-linejoin="round" clip-path="url(#cdr)"/>
<polyline points="416.50,67.90 416.94,67.74 417.39,67.58 417.79,67.42 418.20,67.27 418.60,67.12 419.09,66.94 419.57,66.76 420.05,66.58 420.44,66.44 420.83,66.30 421.23,66.16 421.62,66.03 422.01,65.90 422.41,65.77 422.81,65.64 423.20,65.51 423.70,65.37 424.20,65.24 424.70,65.10 425.14,64.99 425.59,64.88 426.03,64.78 426.45,64.68 426.86,64.59 427.27,64.49 427.69,64.41 428.11,64.33 428.52,64.25 428.99,64.18 429.45,64.12 429.91,64.05 430.31,64.01 430.72,63.98 431.12,63.94 431.53,63.90 432.02,63.88 432.51,63.85 433.01,63.83 433.50,63.80 433.90,63.79 434.30,63.78 434.70,63.78 435.10,63.77 435.50,63.76 435.90,63.75 436.36,63.75 436.82,63.76 437.28,63.76 437.74,63.76 438.20,63.76 438.66,63.76 439.09,63.77 439.52,63.77 439.94,63.78 440.37,63.79 440.80,63.80 441.23,63.80 441.66,63.81 442.10,63.83 442.55,63.84 442.99,63.85 443.44,63.87 443.88,63.88 444.33,63.89 444.77,63.91 445.22,63.93 445.67,63.94 446.11,63.96 446.56,63.98 447.00,64.00 447.45,64.02 447.89,64.04 448.32,64.06 448.75,64.08 449.18,64.11 449.61,64.13 450.04,64.15 450.47,64.18 450.90,64.20 451.33,64.23 451.76,64.26 452.19,64.29 452.62,64.32 453.04,64.35 453.47,64.37 453.90,64.40 454.35,64.44 454.79,64.48 455.24,64.51 455.68,64.55 456.13,64.58 456.57,64.62 457.02,64.66 457.46,64.70 457.91,64.74 458.36,64.78 458.80,64.82 459.25,64.86 459.69,64.90 460.14,64.94 460.57,64.99 461.00,65.03 461.43,65.08 461.86,65.12 462.29,65.17 462.72,65.21 463.15,65.26 463.55,65.30 463.95,65.35 464.34,65.39 464.74,65.44 465.14,65.49 465.54,65.53 465.94,65.58 466.35,65.63 466.76,65.69 467.17,65.74 467.58,65.79 467.99,65.85 468.40,65.90 468.81,65.97 469.23,66.03 469.64,66.10 470.05,66.16 470.47,66.23 470.91,66.31 471.34,66.40 471.78,66.48 472.22,66.57 472.73,66.68 473.24,66.80 473.75,66.92 474.22,67.04 474.69,67.16 475.16,67.28 475.62,67.40 476.08,67.52 476.54,67.64 477.03,67.76 477.51,67.88 478.00,68.00 478.50,68.12 479.00,68.23 479.50,68.35 479.99,68.46 480.48,68.57 480.96,68.69 481.44,68.80 481.92,68.91 482.40,69.03 482.88,69.14 483.35,69.26 483.83,69.38 484.30,69.51 484.78,69.64 485.25,69.77 485.74,69.91 486.22,70.06 486.70,70.20 487.19,70.39 487.67,70.59 488.16,70.78 488.53,70.97 488.90,71.16 489.26,71.34 489.63,71.53 490.00,71.72 490.36,72.61 490.73,72.50 491.10,72.39 491.47,72.25 491.84,72.11 492.20,71.98 492.57,72.12 493.06,72.68 493.55,73.23 494.04,73.79 494.53,74.22 495.01,74.30 495.50,73.92 495.99,73.39 496.47,72.86 496.96,72.34 497.32,72.05 497.68,72.17 498.04,72.30 498.41,72.42 498.77,72.48 499.13,72.54 499.49,72.61 499.86,72.24 500.22,71.67 500.58,71.11 500.94,70.54 501.30,69.97 501.67,69.40 502.03,68.88 502.39,68.92 502.75,68.96 503.11,69.03 503.48,69.09 503.84,69.16 504.20,69.23 504.56,69.06 504.92,68.55 505.29,68.03 505.65,67.52 506.01,67.01 506.38,66.50 506.74,65.99 507.10,65.97 507.46,66.07 507.82,66.16 508.19,66.25 508.55,66.35 508.91,66.45 509.27,66.42 509.64,65.92 510.00,65.41 510.36,64.92 510.73,64.42 511.09,63.93 511.45,63.43 511.81,63.31 512.17,63.43 512.54,63.56 512.90,63.68 513.38,63.87 513.87,64.06 514.35,63.66 514.83,63.06 515.31,62.46 515.80,61.86 516.28,61.28 516.76,61.29 517.24,61.51 517.73,61.74 518.21,61.97 518.69,62.20 519.18,61.81 519.66,61.24 520.14,60.67 520.63,60.10 521.11,59.53 521.60,59.63 522.06,59.86 522.53,60.09 522.99,60.32 523.43,60.54 523.86,60.32 524.30,59.81 524.74,59.30 525.17,58.80 525.61,58.29 526.08,57.90 526.54,58.15 527.01,58.41 527.40,58.64 527.80,58.87 528.19,59.10 528.58,59.03 529.03,58.56 529.49,58.08 529.94,57.61 530.40,57.13 530.86,56.77 531.32,57.08 531.78,57.39 532.24,57.69 532.70,58.00 533.16,58.32 533.62,57.93 534.08,57.48 534.55,57.03 535.01,56.58 535.47,56.13 535.89,56.21 536.30,56.50 536.72,56.80 537.14,57.09 537.56,57.39 537.98,57.68 538.40,57.31 538.80,56.93 539.20,56.54 539.60,56.16 540.01,55.78 540.41,55.40 540.81,55.69 541.21,55.98 541.61,56.26 542.01,56.55 542.41,56.83 542.81,57.10 543.21,56.72 543.61,56.34 544.03,55.93 544.45,55.53 544.88,55.12 545.30,54.88" fill="none" stroke="#000000" stroke-width="1.80" stroke-linejoin="round" clip-path="url(#ct3)"/>
<polyline points="416.50,68.70 417.39,68.38 418.60,67.92 420.05,67.38 421.62,66.83 423.20,66.31 424.70,65.90 426.03,65.58 427.27,65.29 428.52,65.05 429.91,64.85 431.53,64.70 433.50,64.60 435.90,64.55 438.66,64.56 441.66,64.61 444.77,64.71 447.89,64.84 450.90,65.00 453.90,65.20 457.02,65.46 460.14,65.74 463.15,66.06 465.94,66.38 468.40,66.70 470.47,67.03 472.22,67.37 473.75,67.72 475.16,68.08 476.54,68.44 478.00,68.80 479.50,69.15 480.96,69.49 482.40,69.83 483.83,70.18 485.25,70.57 486.70,71.00 488.16,71.58 489.63,72.33 491.10,73.11 492.57,73.78 494.04,74.22 495.50,74.30 496.96,73.93 498.41,73.21 499.86,72.26 501.30,71.19 502.75,70.13 504.20,69.20 505.65,68.37 507.10,67.52 508.55,66.69 510.00,65.88 511.45,65.11 512.90,64.40 514.35,63.75 515.80,63.16 517.24,62.61 518.69,62.09 520.14,61.59 521.60,61.10 522.99,60.63 524.30,60.19 525.61,59.77 527.01,59.37 528.58,58.98 530.40,58.60 532.70,58.21 535.47,57.82 538.40,57.44 541.21,57.10 543.61,56.81 545.30,56.60" fill="none" stroke="#00f000" stroke-width="1.80" stroke-linejoin="round" clip-path="url(#ct3)"/>
<polyline points="29.50,284.83 30.12,285.28 31.00,284.83 31.52,284.10 32.03,284.12 32.57,283.83 33.11,283.79 33.62,283.67 34.14,282.72 34.57,282.39 35.00,282.94 35.71,282.05 36.35,281.94 36.94,280.70 37.48,280.58 38.00,280.15 38.25,279.19 38.50,279.45 38.74,278.81 38.98,277.35 39.20,276.66 39.43,276.48 39.57,276.36 39.70,275.29 39.84,274.62 39.98,274.28 40.11,273.35 40.24,273.00 40.37,272.66 40.50,272.17 40.62,271.35 40.75,270.81 40.87,270.26 41.00,269.96 41.12,269.25 41.25,268.43 41.37,268.70 41.49,267.86 41.61,267.37 41.73,266.35 41.84,266.58 41.96,265.87 42.07,264.55 42.18,264.19 42.29,264.01 42.40,263.43 42.51,263.10 42.61,262.03 42.71,261.89 42.81,261.21 42.90,260.32 43.00,260.09 43.08,259.86 43.16,259.30 43.25,258.43 43.32,257.97 43.38,256.87 43.45,256.53 43.51,256.55 43.58,255.64 43.64,254.87 43.73,254.55 43.83,254.01 43.93,253.44 44.04,252.60 44.30,252.04 44.62,252.10 44.97,252.91 45.36,253.51 45.55,253.86 45.75,254.43 46.13,254.79 46.50,255.24 46.84,255.89 47.16,255.88 47.48,255.06 47.80,254.43 48.14,253.94 48.50,254.30 48.89,255.15 49.31,255.54 49.75,256.07 50.19,257.23 50.61,257.45 51.00,258.51 51.36,259.71 51.69,260.12 52.00,260.80 52.31,261.39 52.64,262.40 53.00,263.46 53.39,263.13 53.81,264.55 54.25,265.18 54.69,265.73 55.11,265.88 55.50,266.01 55.86,265.55 56.20,265.24 56.53,264.57 56.85,263.49 57.17,263.43 57.34,262.60 57.50,261.70 57.67,261.38 57.84,260.73 57.95,260.11 58.07,259.62 58.19,259.32 58.30,258.86 58.42,258.30 58.53,257.60 58.64,256.58 58.76,256.19 58.87,255.54 58.98,255.32 59.09,254.96 59.20,254.27 59.30,253.61 59.40,252.97 59.50,251.76 59.57,251.83 59.64,251.15 59.71,250.04 59.78,249.46 59.85,248.92 59.91,249.12 59.98,248.07 60.04,247.39 60.11,247.33 60.17,246.48 60.23,245.64 60.29,245.16 60.35,244.93 60.41,243.97 60.47,243.48 60.53,243.32 60.58,242.57 60.63,241.93 60.67,241.58 60.72,240.63 60.77,240.50 60.81,240.01 60.86,239.25 60.91,238.65 60.95,238.92 61.00,238.01 61.05,237.15 61.09,236.98 61.14,236.64 61.19,235.28 61.23,234.71 61.27,234.34 61.31,234.41 61.35,233.35 61.38,233.39 61.42,232.87 61.46,232.23 61.50,231.39 61.53,231.62 61.57,230.92 61.61,230.12 61.64,229.31 61.68,229.21 61.72,228.43 61.75,228.09 61.79,227.32 61.82,227.10 61.86,226.01 61.90,225.72 61.93,225.88 61.97,225.28 62.00,224.21 62.03,224.25 62.07,223.19 62.10,223.31 62.14,222.54 62.18,221.64 62.22,220.90 62.26,220.08 62.30,220.38 62.34,218.98 62.37,219.21 62.41,218.80 62.44,217.85 62.48,216.90 62.51,217.04 62.54,216.59 62.57,215.77 62.60,215.02 62.63,214.34 62.66,213.77 62.69,213.09 62.72,213.02 62.75,212.24 62.77,211.47 62.81,210.87 62.84,210.93 62.87,210.06 62.90,209.76 62.93,209.08 62.97,209.05 63.01,208.51 63.05,207.06 63.10,206.67 63.16,206.14 63.23,206.14 63.30,205.28 63.38,204.30 63.47,203.63 63.55,203.55 63.70,203.03 63.84,202.45 64.00,201.31 64.15,201.29 64.46,200.19 64.75,199.23 65.00,199.09 65.15,197.87 65.20,198.11 65.23,197.38 65.32,197.47 65.55,198.23 66.00,197.51 66.73,197.99 67.70,197.78 68.26,198.00 68.81,197.51 69.39,197.48 69.96,197.44 70.51,198.04 71.06,197.80 72.00,198.25 72.80,198.37 73.54,197.86 74.23,198.57 74.86,198.45 75.45,198.71 76.00,199.07 76.49,200.24 76.91,200.61 77.29,201.12 77.64,201.04 78.01,201.60 78.40,201.88 78.82,201.40 79.26,201.39 79.69,200.71 80.13,200.14 80.57,199.83 81.00,199.89 81.40,198.83 81.58,198.72 81.77,197.78 81.95,197.09 82.13,197.09 82.33,196.64 82.52,195.35 82.97,195.23 83.50,194.19 84.15,194.15 84.89,195.15 85.69,194.73 86.51,195.43 87.29,196.65 88.00,196.42 88.60,196.31 89.13,196.49 89.62,196.67 90.14,197.28 90.71,196.78 91.40,197.81 92.22,197.57 93.13,198.50 93.62,198.62 94.11,198.19 94.61,198.36 95.11,198.78 95.62,198.63 96.12,199.39 96.61,199.01 97.10,199.21 97.57,200.43 98.05,200.00 98.53,200.58 99.00,200.71 99.47,200.86 99.95,200.90 100.42,202.04 100.90,202.39 101.37,202.67 101.85,202.10 102.32,202.46 102.80,203.12 103.28,203.72 103.75,203.52 104.22,203.90 104.70,204.10 105.18,203.92 105.65,204.42 106.12,204.39 106.60,204.53 107.07,204.55 107.55,204.94 108.03,205.81 108.50,205.45 109.33,205.95 110.03,206.20 110.72,206.72 111.55,206.36 112.11,206.36 112.67,206.47 113.18,206.51 113.69,207.09 114.20,207.19 114.83,206.65 115.47,206.73 116.10,206.98 116.63,207.05 117.17,207.09 117.71,206.77 118.24,206.58 118.85,206.82 119.45,206.68 120.06,207.18 120.66,206.72 121.21,206.74 121.76,207.31 122.31,206.98 122.86,207.50 123.40,207.22 123.92,207.59 124.44,206.89 124.95,207.25 125.47,207.55 125.99,206.84 126.50,207.72 127.09,206.95 127.67,207.56 128.25,207.77 128.83,207.61 129.42,207.12 130.00,206.91 130.55,207.31 131.09,207.72 131.64,207.09 132.18,207.69 132.73,206.94 133.28,207.71 133.82,206.83 134.37,207.11 134.90,207.69 135.43,207.59 135.96,207.69 136.49,207.62 137.02,207.52 137.55,207.46 138.08,206.94 138.61,207.19 139.14,206.91 139.67,207.46 140.19,207.41 140.70,206.99 141.22,206.79 141.73,207.69 142.25,207.53 142.76,207.26 143.28,207.25 143.79,207.55 144.31,207.15 144.82,207.08 145.34,207.02 145.88,206.93 146.43,206.69 146.97,207.31 147.52,207.07 148.06,207.21 148.60,206.70 149.15,206.98 149.69,206.76 150.24,206.74 150.78,206.87 151.30,207.43 151.81,206.99 152.33,206.99 152.85,207.19 153.36,206.80 153.88,206.57 154.40,207.09 154.91,207.05 155.43,207.19 155.97,206.97 156.52,207.21 157.06,207.25 157.61,206.75 158.15,207.00 158.70,206.98" fill="none" stroke="#0000ff" stroke-width="1.55" stroke-linejoin="round" clip-path="url(#cb0)"/>
<polyline points="29.50,284.26 30.12,284.02 31.00,282.82 31.52,282.67 32.03,283.24 32.57,282.92 33.11,282.65 33.62,282.05 34.14,282.11 34.57,281.86 35.00,281.58 35.71,280.65 36.35,280.43 36.94,279.84 37.48,279.53 38.00,279.00 38.25,278.45 38.50,277.54 38.74,276.83 38.98,276.04 39.20,275.11 39.43,274.40 39.57,274.32 39.70,273.65 39.84,273.19 39.98,273.14 40.11,272.22 40.24,271.69 40.37,270.77 40.50,269.97 40.62,269.67 40.75,268.87 40.87,268.63 41.00,268.50 41.09,267.67 41.19,266.67 41.28,266.88 41.37,266.28 41.46,265.66 41.55,265.28 41.64,264.58 41.73,264.05 41.82,263.04 41.90,263.08 41.99,262.49 42.07,261.10 42.16,261.12 42.24,260.51 42.32,259.68 42.40,259.17 42.48,258.58 42.56,258.47 42.64,257.50 42.71,257.28 42.81,256.16 42.90,256.03 43.00,255.40 43.08,254.35 43.16,253.85 43.25,253.60 43.32,252.80 43.38,251.96 43.45,251.10 43.51,250.64 43.58,250.45 43.64,249.36 43.73,249.37 43.83,248.01 43.93,248.08 44.04,246.91 44.30,246.86 44.62,246.48 44.97,246.69 45.36,247.44 45.75,248.43 46.13,249.13 46.50,249.31 46.84,249.31 47.16,249.51 47.48,249.73 47.80,249.25 48.14,248.66 48.50,249.62 48.89,250.02 49.31,250.90 49.75,251.02 49.97,252.02 50.19,251.79 50.40,252.84 50.61,252.92 51.00,253.73 51.36,255.21 51.70,255.31 52.03,256.60 52.35,257.79 52.67,258.00 53.00,258.71 53.33,260.12 53.67,260.43 54.00,261.44 54.33,261.36 54.67,262.11 55.00,262.07 55.33,262.48 55.67,261.60 56.00,261.99 56.33,260.40 56.67,260.26 56.83,259.03 57.00,258.76 57.17,258.69 57.34,257.41 57.45,256.94 57.57,256.95 57.69,256.15 57.80,255.25 57.92,255.65 58.03,254.25 58.14,253.54 58.26,253.24 58.37,252.92 58.48,252.41 58.59,251.16 58.70,250.75 58.80,249.81 58.90,249.59 59.00,249.27 59.09,248.59 59.19,248.11 59.28,247.32 59.35,246.93 59.41,246.27 59.48,245.54 59.54,244.80 59.61,244.72 59.67,243.85 59.73,243.12 59.79,242.95 59.85,242.83 59.91,241.53 59.97,241.45 60.03,240.71 60.09,240.25 60.15,239.30 60.21,239.53 60.27,238.25 60.31,238.10 60.36,237.41 60.41,236.51 60.45,236.56 60.50,235.64 60.55,235.01 60.59,234.44 60.64,234.01 60.69,233.40 60.73,233.39 60.77,232.76 60.81,232.74 60.85,232.19 60.88,231.75 60.92,230.49 60.96,230.20 61.00,229.49 61.03,229.31 61.07,228.82 61.11,228.47 61.14,227.86 61.18,226.88 61.22,226.52 61.25,226.10 61.29,225.05 61.32,224.55 61.36,224.40 61.40,223.57 61.43,223.67 61.47,222.68 61.50,222.02 61.53,221.59 61.57,221.13 61.60,220.60 61.64,220.33 61.68,219.69 61.72,218.96 61.76,218.72 61.80,217.71 61.84,217.85 61.87,217.35 61.91,216.57 61.94,215.72 61.98,215.24 62.01,214.75 62.04,213.67 62.07,213.48 62.10,213.04 62.13,212.14 62.16,211.52 62.19,211.69 62.22,210.71 62.25,210.33 62.27,210.20 62.31,209.38 62.34,208.56 62.37,208.74 62.40,207.63 62.43,206.77 62.47,206.87 62.51,205.71 62.55,205.34 62.60,205.31 62.66,204.48 62.73,203.17 62.80,202.95 62.88,202.37 62.96,201.90 63.05,201.08 63.18,200.78 63.32,199.59 63.47,199.24 63.62,198.77 63.92,198.42 64.22,196.81 64.50,196.85 64.71,195.85 64.85,196.02 64.98,195.79 65.17,195.90 65.49,196.25 66.00,195.90 66.75,195.58 67.70,195.56 68.24,195.51 68.78,196.28 69.34,196.07 69.91,196.39 70.46,196.14 71.01,195.48 72.00,196.16 72.92,196.33 73.83,196.34 74.72,196.19 75.56,196.15 76.32,196.39 77.00,196.90 77.54,196.67 77.96,197.36 78.31,197.78 78.65,198.65 79.03,198.70 79.50,198.73 80.07,198.08 80.39,197.07 80.70,196.52 81.04,196.21 81.38,195.41 81.72,195.02 82.07,194.71 82.43,194.50 82.79,193.73 83.50,193.52 84.23,192.87 85.00,193.56 85.40,194.53 85.79,194.02 86.18,194.67 86.56,194.71 86.94,195.10 87.31,196.29 88.00,196.99 88.60,197.12 89.13,197.04 89.62,197.62 90.14,197.97 90.71,198.83 91.40,199.28 92.22,199.50 92.67,199.81 93.13,199.63 93.62,200.30 94.11,200.94 94.61,200.99 95.11,200.57 95.62,201.24 96.12,201.69 96.61,201.50 97.10,202.39 97.57,202.24 98.05,202.77 98.53,202.77 99.00,203.67 99.47,203.76 99.95,203.87 100.42,203.75 100.90,204.35 101.37,204.23 101.85,205.08 102.32,205.62 102.80,205.18 103.28,205.74 103.75,205.94 104.22,206.07 104.70,206.58 105.18,207.00 105.65,206.96 106.12,206.90 106.60,207.56 107.07,207.08 107.55,207.66 108.50,207.86 109.33,208.22 110.03,208.53 110.72,208.09 111.55,208.65 112.11,208.50 112.67,208.84 113.18,209.19 113.69,208.89 114.20,208.31 114.83,208.80 115.47,209.09 116.10,209.30 116.63,209.09 117.17,209.29 117.71,208.51 118.24,209.47 118.85,209.27 119.45,209.17 120.06,209.49 120.66,209.49 121.21,208.72 121.76,209.45 122.31,209.41 122.86,208.85 123.40,209.41 123.92,209.26 124.44,208.87 124.95,209.49 125.47,208.83 125.99,209.31 126.50,209.13 127.09,208.95 127.67,209.27 128.25,209.17 128.83,208.90 129.42,209.67 130.00,208.77 130.55,208.70 131.09,209.17 131.64,209.52 132.18,209.33 132.73,209.42 133.28,209.15 133.82,209.33 134.37,208.99 134.90,208.91 135.43,209.13 135.96,208.65 136.49,208.69 137.02,209.36 137.55,208.77 138.08,209.33 138.61,209.36 139.14,208.97 139.67,209.23 140.19,209.33 140.70,209.39 141.22,208.65 141.73,208.67 142.25,208.88 142.76,208.95 143.28,208.77 143.79,208.47 144.31,209.01 144.82,209.40 145.34,208.79 145.88,208.95 146.43,208.78 146.97,208.83 147.52,209.24 148.06,208.67 148.60,208.99 149.15,208.82 149.69,208.86 150.24,209.22 150.78,208.37 151.30,209.10 151.81,208.57 152.33,208.90 152.85,209.04 153.36,208.88 153.88,208.61 154.40,209.04 154.91,208.28 155.43,208.81 155.97,208.56 156.52,208.68 157.06,208.99 157.61,208.92 158.15,208.74 158.70,208.41" fill="none" stroke="#00f000" stroke-width="1.55" stroke-linejoin="round" clip-path="url(#cb0)"/>
<polyline points="29.50,282.39 30.12,282.08 31.00,282.06 31.52,281.71 32.03,281.48 32.57,281.56 33.11,281.79 33.62,281.47 34.14,281.23 34.57,280.53 35.00,280.53 35.71,279.77 36.35,279.12 36.94,278.43 37.48,277.77 37.74,277.89 38.00,277.36 38.25,276.79 38.50,276.24 38.74,275.11 38.98,274.56 39.13,274.33 39.28,273.93 39.43,273.54 39.57,273.03 39.70,271.86 39.84,271.74 39.98,271.21 40.11,270.50 40.24,269.65 40.37,269.26 40.50,268.32 40.62,268.37 40.72,267.81 40.81,267.05 40.91,266.35 41.00,266.33 41.09,265.49 41.19,265.17 41.28,264.58 41.37,263.74 41.44,263.16 41.51,262.80 41.59,262.16 41.66,261.44 41.73,261.05 41.80,260.92 41.87,259.77 41.94,259.24 42.01,259.17 42.07,258.36 42.14,258.02 42.21,257.44 42.27,256.80 42.34,256.79 42.40,255.61 42.47,255.27 42.53,254.59 42.59,254.43 42.65,253.63 42.71,253.18 42.78,252.92 42.86,252.01 42.93,251.62 43.00,251.32 43.06,250.14 43.12,249.56 43.19,249.15 43.25,249.04 43.30,248.37 43.35,247.52 43.40,247.05 43.45,246.38 43.50,246.09 43.54,245.24 43.59,245.25 43.64,244.89 43.70,244.34 43.76,243.56 43.83,243.14 43.93,241.69 44.04,241.20 44.30,240.87 44.62,240.59 44.97,240.82 45.17,241.72 45.36,241.92 45.55,242.61 45.75,242.72 46.13,243.55 46.50,244.26 46.84,244.00 47.16,243.88 47.48,243.88 47.80,242.95 48.14,242.46 48.50,242.64 48.89,243.30 49.31,244.65 49.53,244.84 49.75,245.31 49.97,245.75 50.19,247.04 50.40,247.20 50.61,247.62 50.80,248.08 51.00,248.64 51.18,249.30 51.36,250.28 51.53,250.46 51.70,250.98 51.87,251.96 52.03,252.38 52.19,253.59 52.35,253.50 52.51,254.40 52.67,255.17 52.84,255.40 53.00,256.39 53.17,256.49 53.33,256.81 53.50,257.46 53.67,257.68 53.83,258.47 54.00,258.82 54.33,260.15 54.67,260.69 55.00,260.70 55.33,260.27 55.67,260.13 56.00,259.56 56.33,258.78 56.67,257.86 56.83,257.84 57.00,256.71 57.17,256.01 57.34,256.09 57.45,255.31 57.57,255.16 57.69,254.20 57.80,254.06 57.92,253.31 58.03,252.88 58.14,252.25 58.26,251.45 58.37,250.54 58.48,250.00 58.59,249.90 58.70,249.29 58.80,248.65 58.90,247.53 59.00,247.13 59.07,246.73 59.14,246.09 59.21,245.71 59.28,244.97 59.35,244.53 59.42,244.01 59.48,243.13 59.55,243.12 59.62,242.57 59.68,241.30 59.74,241.45 59.81,240.87 59.87,240.04 59.93,238.94 59.99,239.03 60.05,237.81 60.09,237.99 60.14,237.24 60.19,236.26 60.23,235.84 60.28,235.72 60.32,235.14 60.37,234.76 60.41,234.39 60.46,233.30 60.50,232.60 60.54,232.77 60.58,231.48 60.62,231.61 60.67,230.44 60.71,230.43 60.74,229.91 60.77,229.48 60.80,228.71 60.84,228.46 60.87,227.42 60.90,227.29 60.93,226.49 60.96,226.41 60.99,225.79 61.02,225.03 61.05,224.55 61.08,223.62 61.11,223.10 61.14,223.03 61.17,222.42 61.20,222.19 61.23,221.46 61.26,220.56 61.28,220.24 61.31,220.05 61.34,219.35 61.37,218.44 61.40,218.59 61.43,218.08 61.46,216.92 61.50,216.72 61.53,216.03 61.57,215.79 61.60,214.85 61.63,214.26 61.67,213.93 61.70,213.78 61.73,212.55 61.77,212.04 61.80,211.93 61.83,211.62 61.86,210.80 61.89,210.22 61.93,210.04 61.96,209.36 62.00,208.17 62.04,208.20 62.08,207.03 62.12,206.54 62.16,206.38 62.20,205.47 62.24,205.19 62.28,204.16 62.33,204.20 62.37,203.12 62.41,202.57 62.47,202.23 62.54,201.49 62.60,201.03 62.67,200.80 62.74,200.12 62.80,199.03 62.91,198.61 63.01,198.12 63.13,197.51 63.24,197.13 63.47,196.01 63.73,194.90 64.00,194.40 64.25,194.44 64.47,193.83 64.71,194.11 65.01,194.33 65.43,194.10 66.00,194.14 66.78,194.05 67.74,193.81 68.28,194.29 68.81,193.94 69.37,194.30 69.93,193.82 70.47,194.28 71.01,194.22 72.00,194.09 72.91,193.93 73.81,193.64 74.67,194.09 75.50,193.74 76.28,194.01 77.00,193.71 77.64,193.95 78.20,194.44 78.71,195.48 79.19,195.42 79.68,196.29 80.20,195.90 80.73,195.69 81.25,194.80 81.51,194.58 81.77,193.72 82.04,193.54 82.31,193.55 82.88,192.30 83.50,192.42 84.19,192.35 84.95,192.83 85.35,192.96 85.74,193.32 86.14,194.46 86.54,194.77 86.92,195.15 87.30,195.56 88.00,196.36 88.60,196.29 89.13,197.15 89.62,197.58 90.14,198.19 90.71,199.11 91.06,199.34 91.40,199.87 91.81,199.64 92.22,200.52 92.67,201.05 93.13,201.61 93.62,202.06 94.11,202.78 94.44,202.73 94.78,203.61 95.11,203.57 95.45,204.09 95.79,204.70 96.12,204.92 96.61,205.12 97.10,205.58 97.57,206.17 98.05,206.92 98.53,207.73 99.00,208.17 99.47,208.29 99.95,208.80 100.42,209.61 100.90,209.67 101.37,210.22 101.85,210.34 102.32,210.86 102.80,211.53 103.28,211.98 103.75,212.24 104.22,212.33 104.70,213.08 105.18,213.05 105.65,212.92 106.12,213.05 106.60,213.98 107.07,214.15 107.55,214.27 108.50,214.28 109.33,214.23 110.03,214.15 110.72,214.30 111.55,214.25 112.11,214.79 112.67,214.74 113.18,214.64 113.69,214.13 114.20,214.19 114.83,214.23 115.47,214.74 116.10,214.10 116.63,214.59 117.17,214.49 117.71,214.37 118.24,214.68 118.85,214.11 119.45,214.30 120.06,213.99 120.66,213.92 121.21,213.85 121.76,214.06 122.31,213.89 122.86,213.83 123.40,214.56 123.92,213.98 124.44,214.45 124.95,214.28 125.47,214.29 125.99,214.22 126.50,214.44 127.09,214.37 127.67,214.23 128.25,214.09 128.83,214.18 129.42,214.19 130.00,214.04 130.55,213.99 131.09,213.70 131.64,214.24 132.18,213.95 132.73,213.60 133.28,213.67 133.82,214.23 134.37,213.72 134.90,213.82 135.43,214.04 135.96,214.18 136.49,213.74 137.02,213.78 137.55,213.80 138.08,213.47 138.61,214.14 139.14,213.45 139.67,214.19 140.19,213.54 140.70,213.53 141.22,214.07 141.73,214.05 142.25,213.56 142.76,213.81 143.28,213.74 143.79,213.93 144.31,213.49 144.82,213.99 145.34,214.12 145.88,213.88 146.43,214.04 146.97,214.05 147.52,213.59 148.06,213.96 148.60,213.94 149.15,213.73 149.69,213.34 150.24,213.74 150.78,213.96 151.30,213.47 151.81,213.73 152.33,213.93 152.85,213.68 153.36,213.22 153.88,213.69 154.40,213.38 154.91,213.85 155.43,213.69 155.97,213.39 156.52,213.85 157.06,213.63 157.61,213.39 158.15,213.78 158.70,213.81" fill="none" stroke="#ff0000" stroke-width="1.55" stroke-linejoin="round" clip-path="url(#cb0)"/>
<polyline points="29.50,282.39 30.12,282.41 31.00,281.98 31.52,281.99 32.03,281.83 32.57,281.16 33.11,280.91 33.62,281.31 34.14,280.60 34.57,280.28 35.00,280.60 35.71,279.53 36.35,279.12 36.94,278.06 37.21,277.75 37.48,276.91 37.74,276.79 38.00,276.47 38.25,275.61 38.50,275.19 38.74,274.48 38.98,273.33 39.13,273.41 39.28,272.80 39.43,272.09 39.57,271.35 39.70,271.49 39.84,270.65 39.98,270.28 40.11,269.83 40.24,269.13 40.37,268.66 40.50,267.61 40.62,267.31 40.72,266.51 40.81,266.38 40.91,265.82 41.00,264.68 41.09,264.11 41.19,263.57 41.28,263.57 41.37,262.55 41.44,262.15 41.51,261.35 41.59,260.96 41.66,260.32 41.73,259.74 41.80,259.35 41.87,258.76 41.94,258.44 42.01,257.68 42.07,257.29 42.14,256.66 42.21,256.18 42.27,255.35 42.34,254.36 42.40,254.34 42.47,253.88 42.53,253.29 42.59,252.48 42.65,252.06 42.71,251.11 42.78,251.02 42.86,250.23 42.93,249.41 43.00,248.65 43.06,248.77 43.12,248.37 43.19,247.13 43.25,247.19 43.32,246.24 43.38,245.39 43.45,244.86 43.51,244.66 43.58,244.17 43.64,242.93 43.73,242.64 43.83,241.44 43.93,241.39 44.04,240.49 44.30,240.10 44.62,239.90 44.97,239.77 45.35,240.72 45.74,240.80 46.13,241.08 46.50,241.58 46.85,240.66 47.20,239.92 47.37,239.58 47.54,239.23 47.71,238.39 47.88,237.83 48.23,237.86 48.60,237.35 48.99,238.43 49.19,238.90 49.39,238.99 49.60,239.73 49.81,240.45 49.94,241.06 50.08,241.53 50.22,242.01 50.35,242.58 50.49,243.36 50.62,243.54 50.75,243.97 50.87,244.69 51.00,244.79 51.18,245.57 51.36,246.83 51.47,246.99 51.58,247.53 51.70,247.62 51.81,248.47 51.92,249.14 52.02,249.22 52.13,250.22 52.24,250.76 52.35,250.83 52.46,251.78 52.56,252.15 52.67,252.81 52.84,253.22 53.00,254.17 53.17,254.82 53.33,254.88 53.50,255.54 53.67,256.67 53.83,257.48 54.00,257.50 54.17,258.16 54.33,258.77 54.67,259.28 55.00,259.69 55.33,259.64 55.67,259.37 56.00,258.96 56.33,257.92 56.50,257.49 56.67,257.32 56.83,256.17 57.00,256.06 57.17,255.56 57.34,254.59 57.45,254.03 57.57,254.01 57.69,253.07 57.80,252.48 57.92,252.13 58.03,251.80 58.14,250.73 58.26,250.31 58.37,249.73 58.48,249.50 58.59,248.55 58.70,248.25 58.80,247.05 58.90,246.53 59.00,246.12 59.07,245.79 59.14,244.93 59.21,244.24 59.28,243.64 59.35,243.43 59.42,242.61 59.48,242.56 59.55,242.05 59.62,240.96 59.68,240.46 59.74,240.32 59.81,239.61 59.87,239.15 59.93,238.18 59.99,237.41 60.05,236.94 60.09,236.85 60.14,235.93 60.19,235.49 60.23,235.04 60.28,234.55 60.32,234.02 60.37,233.90 60.41,232.77 60.46,232.13 60.50,232.35 60.54,231.74 60.58,231.27 60.62,230.27 60.67,230.12 60.71,229.54 60.74,228.47 60.77,228.39 60.80,227.96 60.84,227.32 60.87,226.70 60.90,226.02 60.93,225.54 60.96,224.93 60.99,224.28 61.02,224.17 61.05,223.41 61.08,223.31 61.11,222.18 61.14,222.34 61.17,221.65 61.20,221.31 61.23,220.77 61.26,220.25 61.28,219.48 61.31,218.52 61.34,218.60 61.37,217.63 61.40,217.22 61.43,217.00 61.46,216.32 61.50,215.65 61.53,215.50 61.57,214.66 61.60,213.87 61.63,213.25 61.67,213.18 61.70,212.31 61.73,212.00 61.77,211.10 61.80,210.42 61.83,210.13 61.86,209.80 61.89,208.73 61.93,208.67 61.96,208.23 61.99,207.60 62.02,207.08 62.05,205.88 62.08,205.84 62.11,205.52 62.15,204.37 62.18,204.04 62.21,203.53 62.24,203.23 62.28,202.58 62.33,202.05 62.37,201.72 62.41,200.53 62.47,199.93 62.54,199.35 62.60,198.70 62.67,198.13 62.74,198.34 62.80,197.72 62.91,196.49 63.01,196.19 63.13,195.55 63.24,195.05 63.47,194.29 63.73,193.88 64.00,193.27 64.25,192.68 64.47,192.35 64.71,192.40 65.01,192.26 65.43,192.65 66.00,192.77 66.78,192.48 67.74,192.26 68.28,192.36 68.81,192.53 69.37,192.73 69.93,192.89 70.47,192.56 71.01,192.90 72.00,192.70 72.91,192.39 73.81,192.09 74.67,191.92 75.50,191.83 76.28,191.45 77.00,191.66 77.64,191.69 78.20,191.93 78.71,192.67 79.19,193.29 79.68,193.14 80.20,193.54 80.73,193.30 81.25,193.14 81.77,192.53 82.31,191.45 82.88,191.42 83.50,191.23 84.19,191.10 84.95,191.83 85.35,191.93 85.74,192.86 86.14,193.16 86.54,193.76 86.92,194.10 87.30,194.41 87.65,194.83 88.00,195.05 88.60,195.28 89.13,196.20 89.62,196.27 90.14,196.94 90.71,198.07 91.06,197.86 91.40,198.27 91.81,198.72 92.22,199.79 92.67,199.73 93.13,200.11 93.62,201.30 94.11,201.27 94.61,202.40 95.11,202.81 95.62,203.49 96.12,204.13 96.61,204.35 97.10,205.04 97.57,204.94 98.05,206.03 98.53,206.34 99.00,207.02 99.47,207.04 99.95,208.07 100.42,208.70 100.90,208.49 101.37,209.14 101.85,209.78 102.32,210.38 102.80,210.29 103.28,210.57 103.75,210.95 104.22,211.52 104.70,211.91 105.18,211.86 105.65,212.08 106.12,212.30 106.60,212.46 107.07,212.68 107.55,212.58 108.50,213.20 109.33,213.78 110.03,213.45 110.72,213.77 111.55,213.32 112.11,213.74 112.67,213.79 113.18,213.73 113.69,213.61 114.20,213.59 114.83,213.72 115.47,213.93 116.10,213.34 116.63,213.30 117.17,213.82 117.71,213.96 118.24,213.64 118.85,213.58 119.45,213.80 120.06,213.37 120.66,213.43 121.21,213.37 121.76,213.68 122.31,213.46 122.86,213.39 123.40,213.75 123.92,213.95 124.44,213.42 124.95,213.74 125.47,213.50 125.99,213.85 126.50,213.62 127.09,213.36 127.67,213.31 128.25,213.15 128.83,213.50 129.42,213.42 130.00,213.24 130.55,213.38 131.09,213.34 131.64,213.69 132.18,213.17 132.73,213.84 133.28,213.42 133.82,213.50 134.37,213.38 134.90,213.67 135.43,213.64 135.96,213.42 136.49,213.35 137.02,213.52 137.55,213.62 138.08,213.24 138.61,213.50 139.14,213.67 139.67,213.26 140.19,213.06 140.70,213.05 141.22,213.42 141.73,213.37 142.25,213.59 142.76,213.49 143.28,212.99 143.79,212.93 144.31,212.98 144.82,212.91 145.34,213.31 145.88,213.42 146.43,213.44 146.97,212.91 147.52,213.38 148.06,212.92 148.60,213.00 149.15,213.23 149.69,212.70 150.24,212.69 150.78,213.27 151.30,212.82 151.81,212.86 152.33,213.03 152.85,213.09 153.36,212.54 153.88,212.79 154.40,212.86 154.91,212.89 155.43,212.65 155.97,212.94 156.52,213.22 157.06,212.75 157.61,212.86 158.15,212.51 158.70,212.62" fill="none" stroke="#000000" stroke-width="1.55" stroke-linejoin="round" clip-path="url(#cb0)"/>
<polyline points="143,213 143.4,223 143.8,233 144.2,214" fill="none" stroke="#ff0000" stroke-width="1.3" clip-path="url(#cb0)"/>
<polyline points="145.2,207 145.6,200.5 146,217.7 146.4,207" fill="none" stroke="#0000ff" stroke-width="1.6" clip-path="url(#cb0)"/>
<polyline points="141.8,209 142.2,202.3 142.6,209" fill="none" stroke="#00f000" stroke-width="1.3" clip-path="url(#cb0)"/>
<polyline points="158.70,277.63 158.94,277.56 159.27,277.16 159.66,276.83 160.10,276.44 160.55,276.76 161.00,276.38 161.48,276.35 162.01,275.76 162.56,275.77 163.09,275.04 163.58,275.11 164.00,274.68 164.33,274.19 164.60,274.21 164.82,274.23 165.01,273.53 165.20,273.12 165.30,272.68 165.40,271.61 165.47,271.41 165.54,270.69 165.60,270.19 165.65,269.19 165.70,268.40 165.75,268.38 165.80,267.79 165.84,266.95 165.88,266.12 165.91,265.65 165.95,265.45 165.99,264.63 166.02,264.64 166.05,263.84 166.08,263.02 166.11,262.88 166.14,262.13 166.17,262.08 166.20,261.51 166.22,260.64 166.25,260.20 166.28,259.69 166.31,259.23 166.34,258.82 166.36,257.49 166.39,257.18 166.42,256.80 166.45,255.99 166.47,255.64 166.50,254.67 166.52,254.77 166.54,253.95 166.56,253.09 166.59,252.99 166.61,252.17 166.63,251.54 166.65,251.24 166.67,250.44 166.69,249.98 166.70,249.98 166.72,249.33 166.74,248.26 166.75,248.35 166.77,247.22 166.79,246.96 166.81,246.86 166.82,246.09 166.84,245.29 166.85,244.80 166.87,244.26 166.89,243.50 166.90,243.65 166.92,242.34 166.93,242.08 166.95,241.79 166.97,240.96 166.98,240.87 167.00,239.73 167.01,239.76 167.03,239.13 167.04,238.40 167.06,238.04 167.08,237.15 167.09,236.92 167.11,236.36 167.12,235.60 167.14,235.02 167.15,234.67 167.17,233.90 167.19,233.07 167.21,233.03 167.23,232.08 167.24,231.69 167.26,231.36 167.28,230.31 167.30,229.62 167.32,229.16 167.34,229.00 167.35,228.29 167.37,227.67 167.39,227.29 167.41,227.14 167.43,226.07 167.44,225.67 167.46,225.52 167.48,224.78 167.49,223.98 167.51,223.62 167.53,223.10 167.54,222.31 167.56,221.99 167.58,221.43 167.60,221.32 167.61,220.43 167.63,220.20 167.65,219.94 167.66,219.40 167.68,218.41 167.70,218.04 167.73,217.26 167.75,216.77 167.77,216.28 167.79,215.98 167.81,215.58 167.84,214.56 167.86,213.82 167.88,213.67 167.91,212.85 167.93,212.32 167.97,212.38 168.00,211.31 168.03,211.25 168.07,210.43 168.10,210.35 168.14,209.70 168.19,208.48 168.23,208.00 168.28,208.02 168.32,207.25 168.36,206.59 168.41,206.38 168.45,205.90 168.52,205.06 168.58,204.46 168.64,203.58 168.72,203.29 168.79,202.62 168.87,202.50 169.01,201.84 169.15,200.83 169.32,200.66 169.50,199.68 169.95,198.82 170.50,198.69 171.10,198.18 171.71,198.30 172.29,197.91 172.80,197.76 173.23,197.08 173.61,197.49 173.97,196.79 174.31,197.15 174.65,197.34 175.00,197.33 175.37,197.28 175.75,196.86 176.12,197.02 176.50,197.16 176.86,196.82 177.20,197.85 177.52,198.40 177.83,198.75 178.13,199.89 178.28,200.12 178.42,200.48 178.57,201.38 178.71,201.42 178.86,202.63 179.00,203.38 179.14,203.53 179.29,204.76 179.38,204.60 179.48,205.76 179.57,205.83 179.66,206.95 179.76,207.10 179.85,208.06 179.94,207.94 180.04,208.57 180.13,209.75 180.22,210.19 180.32,210.69 180.41,210.87 180.51,211.54 180.60,212.24 180.70,212.54 180.80,213.81 180.90,214.15 181.00,214.81 181.10,215.12 181.20,215.33 181.30,215.62 181.40,216.64 181.50,216.64 181.60,217.48 181.70,217.91 181.80,218.43 181.90,218.59 182.00,219.09 182.10,219.95 182.20,220.06 182.30,220.98 182.40,221.20 182.50,221.83 182.60,222.27 182.69,223.15 182.79,223.55 182.88,223.98 182.98,224.55 183.07,225.39 183.16,226.25 183.26,226.43 183.35,226.80 183.44,227.49 183.54,228.00 183.63,228.84 183.72,229.56 183.82,229.94 183.91,230.19 184.01,230.82 184.10,231.38 184.20,231.95 184.35,232.63 184.49,233.82 184.64,234.12 184.79,234.87 184.93,235.54 185.08,236.12 185.23,236.87 185.38,237.16 185.53,238.05 185.69,238.95 185.84,239.02 186.00,240.10 186.10,240.43 186.21,240.70 186.31,241.21 186.41,242.34 186.51,242.39 186.61,243.43 186.71,243.52 186.82,244.31 186.92,244.63 187.03,245.61 187.14,246.39 187.24,246.52 187.36,247.35 187.48,248.20 187.60,248.26 187.73,248.93 187.87,249.65 188.00,250.29 188.16,250.26 188.31,251.17 188.47,251.26 188.64,251.79 188.82,253.03 189.00,252.83 189.18,254.04 189.37,254.43 189.56,254.89 189.74,255.40 189.93,255.80 190.11,255.98 190.38,256.66 190.64,257.03 191.10,258.29 191.48,258.54 191.82,258.53 192.12,257.77 192.40,257.56 192.69,256.60 193.00,256.23 193.16,255.70 193.33,255.41 193.49,254.56 193.65,253.92 193.82,253.30 193.98,252.05 194.09,251.96 194.20,251.01 194.31,250.78 194.43,250.09 194.54,250.26 194.65,249.03 194.83,249.04 195.00,248.36 195.17,247.32 195.35,247.00 195.52,245.79 195.70,245.27 195.87,244.57 196.05,244.03 196.23,243.35 196.41,243.37 196.61,242.07 196.80,241.75 196.93,240.94 197.07,240.27 197.20,239.94 197.31,239.24 197.42,239.37 197.53,238.39 197.64,238.05 197.75,237.44 197.87,236.91 197.98,236.21 198.10,235.46 198.20,234.86 198.29,234.96 198.39,233.91 198.48,233.61 198.58,233.40 198.68,232.71 198.78,232.50 198.87,231.89 198.97,231.15 199.07,230.33 199.19,230.10 199.31,229.39 199.42,229.10 199.54,228.22 199.66,227.81 199.77,227.35 199.89,226.53 200.00,226.27 200.11,225.81 200.22,224.71 200.33,224.81 200.43,224.26 200.54,223.75 200.64,222.84 200.75,222.28 200.86,221.69 200.99,221.25 201.13,221.01 201.27,219.98 201.41,219.12 201.54,218.78 201.68,218.02 201.81,217.93 201.95,217.53 202.09,217.15 202.29,215.82 202.50,215.40 202.71,214.72 202.92,214.86 203.35,214.14 203.78,213.42 204.20,213.38 204.61,212.61 205.00,212.22 205.36,211.27 205.70,210.41 206.03,210.11 206.35,209.14 206.67,208.04 206.84,207.78 207.00,207.12 207.17,206.70 207.33,205.57 207.50,205.01 207.67,204.39 207.83,204.15 208.00,203.61 208.17,202.54 208.33,202.19 208.50,201.29 208.67,201.17 208.83,200.73 209.00,199.67 209.33,199.51 209.65,198.48 209.97,197.35 210.30,196.91 210.64,196.21 211.00,196.18 211.36,195.90 211.72,194.92 212.09,194.62 212.50,194.75 212.96,194.84 213.50,194.79 214.13,194.80 214.85,194.93 215.62,195.85 216.43,196.32 217.23,197.19 218.00,197.56 218.74,198.20 219.46,198.92 220.19,199.18 220.93,199.94 221.69,199.98 222.50,200.30 222.92,201.28 223.34,200.87 223.78,201.93 224.21,201.78 224.66,201.74 225.11,202.19 225.58,202.83 226.04,202.84 226.52,203.30 227.00,203.16 227.50,204.01 228.00,203.90 228.47,204.53 228.95,204.24 229.39,204.93 229.83,205.03 230.28,205.24 230.74,205.20 231.26,205.85 231.79,206.33 232.43,205.95 233.07,206.43 233.61,206.20 234.16,207.09 234.70,207.18 235.20,207.00 235.70,206.89 236.20,206.61 236.70,206.71 237.27,207.20 237.84,207.30 238.42,207.49 238.99,207.42 239.49,207.09 240.00,206.95 240.51,207.19 241.01,207.04 241.52,207.21 242.06,207.48 242.60,207.14 243.15,207.57 243.69,207.36 244.23,206.82 244.80,207.38 245.37,207.31 245.94,207.28 246.51,206.79 247.08,207.49 247.66,207.18 248.25,207.22 248.83,206.93 249.42,206.83 250.00,206.81 250.52,206.97 251.03,207.05 251.55,206.93 252.06,206.86 252.58,207.40 253.09,207.38 253.64,207.52 254.20,206.99 254.75,207.40 255.30,207.29 255.86,206.88 256.41,207.51 256.99,207.09 257.56,206.95 258.14,206.95 258.71,207.54 259.29,206.97 259.86,207.10 260.44,207.23 261.02,207.08 261.60,207.31 262.18,206.85 262.76,207.12 263.34,207.25 263.91,207.27 264.48,207.26 265.05,206.99 265.62,207.29 266.19,207.55 266.76,207.16 267.30,207.29 267.84,207.45 268.38,206.99 268.92,207.00 269.46,207.57 270.00,207.04 270.54,207.15 271.09,207.12 271.63,207.62 272.18,207.28 272.72,207.57 273.26,206.99 273.83,207.10 274.40,207.41 274.97,207.16 275.53,207.45 276.10,207.34 276.67,207.01 277.22,207.05 277.78,207.33 278.33,207.43 278.89,207.16 279.44,207.24 280.00,207.05 280.51,207.28 281.02,207.33 281.53,207.41 282.04,207.59 282.55,207.82 283.06,207.73 283.57,207.76 284.08,207.41 284.60,207.60 285.11,207.80 285.62,207.95 286.25,207.45 286.88,207.29 287.50,207.34" fill="none" stroke="#ff0000" stroke-width="1.55" stroke-linejoin="round" clip-path="url(#cb1)"/>
<polyline points="158.70,283.90 158.93,283.92 159.24,283.88 159.61,283.89 160.01,283.57 160.42,283.51 160.80,282.52 161.16,282.56 161.53,282.63 161.91,282.01 162.28,281.74 162.64,280.49 163.00,279.98 163.18,279.29 163.35,279.02 163.53,278.44 163.70,277.40 163.87,276.89 164.04,276.27 164.21,276.06 164.38,275.22 164.48,274.23 164.59,274.24 164.70,273.22 164.80,273.10 164.90,272.20 165.00,271.60 165.09,271.77 165.19,270.72 165.28,270.21 165.36,270.26 165.45,269.62 165.53,268.59 165.61,268.56 165.69,267.64 165.78,267.18 165.85,266.22 165.93,266.23 166.01,265.46 166.09,265.11 166.17,264.49 166.25,263.45 166.33,262.96 166.42,262.27 166.50,261.72 166.63,260.95 166.77,260.44 166.91,260.08 167.05,259.00 167.19,258.95 167.34,258.10 167.48,257.43 167.61,257.20 167.70,256.41 167.79,255.76 167.87,255.37 167.95,254.89 168.02,253.71 168.10,253.78 168.15,252.41 168.20,252.38 168.24,251.84 168.29,250.57 168.32,250.63 168.36,249.73 168.39,249.34 168.42,248.33 168.46,247.80 168.48,247.40 168.50,247.51 168.53,246.39 168.55,246.33 168.58,245.95 168.60,245.45 168.62,244.43 168.64,243.90 168.67,243.49 168.69,243.15 168.71,242.07 168.73,242.04 168.76,241.51 168.78,240.99 168.80,239.77 168.82,239.93 168.84,238.68 168.86,238.32 168.89,237.96 168.91,237.63 168.93,236.60 168.95,236.49 168.98,235.61 169.00,234.85 169.02,234.32 169.04,233.68 169.06,233.07 169.08,232.60 169.10,232.50 169.12,232.22 169.13,231.02 169.15,230.42 169.17,230.67 169.18,229.80 169.20,229.19 169.21,228.54 169.23,228.32 169.24,228.00 169.26,227.19 169.27,226.64 169.29,225.83 169.31,225.99 169.32,224.76 169.34,224.60 169.35,224.36 169.37,223.27 169.38,223.22 169.40,222.89 169.41,222.12 169.43,221.73 169.44,220.68 169.46,220.43 169.48,219.69 169.49,219.74 169.51,218.78 169.53,218.37 169.55,218.27 169.57,217.62 169.59,217.18 169.61,216.23 169.63,215.72 169.64,215.38 169.67,214.64 169.70,213.96 169.72,213.52 169.75,212.78 169.77,212.43 169.80,212.39 169.83,211.84 169.86,211.05 169.89,210.42 169.92,209.77 169.96,209.04 169.99,208.63 170.03,208.47 170.07,207.98 170.10,207.01 170.16,206.72 170.21,206.07 170.26,205.37 170.33,204.80 170.39,204.34 170.45,203.48 170.57,203.05 170.69,202.02 170.85,201.59 171.00,201.22 171.20,200.69 171.41,199.92 171.90,199.85 172.45,199.27 173.01,199.01 173.54,198.41 174.00,198.64 174.39,198.18 174.74,198.37 175.06,198.10 175.37,198.31 175.68,198.14 176.00,198.24 176.34,197.87 176.67,198.11 177.01,198.22 177.35,198.37 177.68,198.10 178.00,198.67 178.32,198.92 178.64,199.04 178.95,199.57 179.25,199.92 179.54,200.01 179.80,200.52 180.03,200.83 180.24,202.04 180.43,202.86 180.61,203.28 180.80,204.29 181.00,205.18 181.22,206.00 181.44,206.33 181.66,207.63 181.90,208.42 182.02,209.07 182.14,209.46 182.23,210.11 182.31,210.73 182.40,211.11 182.49,211.78 182.58,211.84 182.68,212.55 182.75,213.30 182.82,214.00 182.90,214.18 182.97,215.07 183.05,215.61 183.12,215.72 183.20,216.65 183.27,217.03 183.34,217.39 183.40,217.95 183.46,218.60 183.52,218.99 183.59,219.50 183.65,219.89 183.71,220.75 183.77,221.21 183.83,221.91 183.90,222.41 183.96,222.66 184.02,223.73 184.08,223.54 184.14,224.39 184.20,224.82 184.26,225.49 184.32,225.81 184.38,226.94 184.44,227.13 184.50,227.42 184.55,228.38 184.61,228.46 184.66,229.32 184.71,229.65 184.76,230.34 184.81,231.14 184.86,231.55 184.91,231.75 184.96,232.58 185.02,232.96 185.07,233.25 185.12,233.59 185.17,234.47 185.22,234.97 185.27,235.80 185.32,236.33 185.37,236.57 185.42,236.88 185.47,237.83 185.52,237.62 185.57,238.22 185.62,239.10 185.67,239.65 185.72,239.78 185.77,240.76 185.83,241.55 185.89,241.73 185.94,242.36 186.00,242.78 186.05,243.40 186.11,244.52 186.16,244.61 186.21,245.65 186.26,246.18 186.31,246.50 186.36,246.80 186.41,247.95 186.46,248.13 186.51,248.63 186.56,249.11 186.61,250.20 186.65,250.37 186.70,250.76 186.75,251.48 186.80,251.73 186.85,252.66 186.89,253.06 186.94,253.48 186.99,254.40 187.04,254.94 187.09,254.80 187.14,255.72 187.19,256.01 187.24,257.05 187.30,257.50 187.37,257.65 187.43,258.24 187.50,258.72 187.57,259.94 187.64,259.92 187.71,260.72 187.78,261.16 187.86,261.82 187.93,262.32 188.01,262.96 188.08,262.99 188.18,264.15 188.29,264.43 188.39,265.27 188.49,265.67 188.59,266.21 188.70,266.95 188.85,267.56 189.00,268.14 189.30,269.30 189.59,269.48 189.86,268.86 190.14,268.48 190.41,267.85 190.70,267.29 191.00,266.31 191.16,265.51 191.32,264.56 191.48,264.55 191.64,263.64 191.81,263.06 191.98,262.47 192.15,261.68 192.32,260.83 192.49,260.45 192.66,259.30 192.83,258.61 193.00,258.28 193.16,257.08 193.32,256.49 193.48,256.24 193.63,254.95 193.78,254.89 193.94,254.09 194.10,253.21 194.26,252.42 194.43,252.16 194.61,251.60 194.80,250.35 195.00,249.98 195.22,249.43 195.45,248.77 195.69,248.05 195.94,247.32 196.20,247.08 196.46,246.69 196.72,245.52 196.99,245.08 197.25,244.98 197.51,244.39 197.75,243.71 198.00,242.62 198.24,242.60 198.47,242.23 198.70,241.67 198.94,240.86 199.17,239.77 199.39,239.84 199.62,238.76 199.84,238.52 200.06,238.18 200.28,237.39 200.49,236.32 200.70,235.83 200.90,235.70 201.11,234.44 201.31,234.15 201.51,233.34 201.70,232.46 201.89,232.16 202.08,231.02 202.27,230.39 202.45,229.93 202.64,229.00 202.82,228.32 203.00,228.06 203.18,227.53 203.35,226.98 203.52,225.73 203.69,225.32 203.85,224.57 204.02,224.14 204.18,223.39 204.34,223.09 204.51,221.97 204.67,221.04 204.84,220.85 205.00,219.72 205.11,219.62 205.23,219.03 205.34,218.86 205.45,218.07 205.57,217.61 205.68,216.81 205.80,216.52 205.91,215.76 206.03,215.64 206.14,214.93 206.25,214.11 206.36,213.68 206.47,213.29 206.58,213.08 206.69,212.14 206.84,211.87 207.00,211.12 207.14,210.02 207.29,209.84 207.42,208.77 207.55,208.18 207.68,207.97 207.81,207.10 207.93,207.05 208.06,206.17 208.19,205.49 208.32,205.32 208.46,204.17 208.60,204.18 208.74,203.10 208.88,202.64 209.02,202.75 209.16,202.01 209.30,201.13 209.44,200.52 209.60,200.71 209.75,199.97 209.93,199.62 210.10,198.60 210.50,198.10 210.98,197.02 211.26,196.49 211.54,196.14 211.83,195.96 212.13,195.35 212.73,194.65 213.30,193.85 213.80,193.96 214.18,193.56 214.46,193.57 214.70,193.29 214.99,193.73 215.40,193.62 216.00,193.87 216.77,194.09 217.64,194.51 218.13,194.41 218.63,194.35 219.19,194.50 219.75,194.83 220.39,194.92 221.04,195.83 221.52,195.66 222.01,196.05 222.50,195.60 223.06,196.16 223.61,196.69 224.17,196.66 224.79,196.73 225.41,196.98 226.03,196.90 226.53,197.12 227.04,197.30 227.54,197.65 228.05,197.83 228.59,198.40 229.12,198.00 229.66,198.25 230.19,198.44 230.75,198.51 231.31,198.77 231.86,198.89 232.42,199.25 232.99,199.02 233.56,199.87 234.13,199.56 234.70,200.15 235.27,200.06 235.85,200.16 236.42,200.10 236.99,200.59 237.58,200.03 238.16,200.56 238.74,200.35 239.32,200.75 239.93,200.88 240.53,200.51 241.13,200.62 241.74,200.56 242.25,200.78 242.76,200.71 243.27,201.02 243.78,201.53 244.29,201.10 244.84,201.10 245.38,201.27 245.93,201.17 246.48,201.57 247.03,201.60 247.62,201.19 248.22,201.29 248.81,201.67 249.41,201.92 250.00,201.72 250.50,201.56 251.01,202.01 251.51,201.25 252.02,201.31 252.52,201.90 253.03,201.62 253.53,201.34 254.05,201.75 254.56,202.10 255.07,201.73 255.59,201.60 256.10,201.40 256.62,201.38 257.13,202.05 257.64,201.73 258.18,202.08 258.72,201.37 259.26,201.52 259.79,201.36 260.33,201.64 260.87,201.37 261.41,201.52 261.94,201.64 262.45,201.55 262.97,201.34 263.48,201.33 263.99,202.07 264.50,201.43 265.01,201.69 265.52,201.59 266.03,201.69 266.61,201.33 267.19,201.50 267.78,201.33 268.36,201.67 268.94,201.97 269.52,201.70 270.14,201.90 270.76,201.38 271.38,201.22 272.00,201.63 272.65,201.48 273.29,201.44 273.68,200.82 273.46,200.55 272.93,200.42 272.41,200.87 272.31,200.91 272.20,201.56 272.21,202.47 272.22,202.59 272.23,203.11 272.24,203.88 272.25,204.23 272.26,205.30 272.26,205.87 272.27,206.00 272.28,206.38 272.29,206.87 272.29,207.53 272.30,207.93 272.31,208.73 272.31,209.38 272.32,209.64 272.32,210.02 272.33,211.06 272.34,211.06 272.34,211.71 272.35,212.34 272.36,212.98 272.37,213.33 272.37,214.15 272.38,214.63 272.39,215.55 272.40,215.96 272.41,216.82 272.42,217.21 272.43,217.88 272.44,218.32 272.45,218.80 272.47,219.68 272.50,220.12 272.46,219.79 272.42,219.03 272.38,218.42 272.33,217.49 272.28,217.34 272.24,216.40 272.19,215.62 272.16,215.00 272.12,214.51 272.09,214.02 272.06,213.79 272.02,212.91 271.99,212.17 271.96,212.16 271.95,211.47 271.94,210.52 271.93,210.01 271.92,209.55 271.91,209.20 271.90,209.08 271.89,208.62 271.88,207.82 271.91,206.99 271.94,206.62 271.98,206.04 272.01,205.48 272.04,204.70 272.07,204.62 272.11,204.29 272.25,203.72 272.38,202.73 272.52,202.60 272.66,201.82 272.80,201.77 273.26,201.18 273.72,201.20 274.19,200.71 274.69,200.06 275.19,200.11 275.69,200.48 276.19,200.01 276.77,200.01 277.35,200.04 277.93,200.32 278.51,200.47 279.08,200.25 279.66,200.70 280.24,200.51 280.82,200.22 281.32,200.92 281.82,200.75 282.32,200.59 282.82,201.47 283.51,200.97 284.20,201.66 284.88,202.27 284.99,203.12 285.10,203.25 285.05,203.70 285.00,204.35 284.87,204.85 284.75,205.69 284.50,206.36 284.40,207.00 284.40,206.27 284.37,205.53 284.35,204.89 284.33,204.92 284.33,204.21 284.33,203.62 284.37,202.91 284.41,202.21 284.60,201.31 284.96,201.55 285.47,201.18 286.06,200.86 286.65,201.07 287.15,201.13 287.50,201.67" fill="none" stroke="#00f000" stroke-width="1.55" stroke-linejoin="round" clip-path="url(#cb1)"/>
<polyline points="158.70,277.26 158.94,276.98 159.27,277.18 159.66,276.48 160.10,276.59 160.55,276.18 161.00,275.65 161.47,275.73 161.99,275.08 162.53,275.11 163.06,274.49 163.56,274.13 164.00,273.94 164.38,273.84 164.72,272.92 165.03,272.59 165.30,272.32 165.56,271.68 165.68,270.72 165.80,269.92 165.87,269.80 165.94,268.47 166.02,268.54 166.06,267.57 166.11,266.93 166.15,266.40 166.20,266.03 166.24,265.84 166.28,264.74 166.32,264.47 166.36,263.92 166.39,263.18 166.42,262.78 166.45,261.86 166.48,261.33 166.51,260.91 166.54,260.70 166.57,259.91 166.60,259.23 166.63,258.86 166.65,258.17 166.68,257.51 166.70,257.37 166.73,256.76 166.75,255.86 166.78,255.59 166.80,255.02 166.82,254.79 166.84,254.16 166.86,253.29 166.88,253.33 166.90,252.13 166.93,251.86 166.95,251.62 166.96,250.63 166.98,250.40 167.00,249.54 167.02,249.54 167.03,249.12 167.05,248.47 167.07,248.21 167.09,247.26 167.10,247.03 167.12,246.41 167.14,245.87 167.15,245.23 167.17,245.00 167.19,244.55 167.20,243.64 167.22,243.26 167.23,242.22 167.25,242.18 167.27,241.58 167.28,241.31 167.30,240.62 167.32,239.64 167.33,239.16 167.35,238.84 167.36,237.77 167.38,237.57 167.40,236.78 167.41,236.19 167.43,235.59 167.44,235.60 167.46,234.54 167.47,234.08 167.49,233.66 167.51,233.51 167.52,232.34 167.54,232.10 167.55,231.65 167.57,231.38 167.58,230.79 167.60,230.29 167.61,229.29 167.63,228.86 167.64,228.28 167.66,228.16 167.67,227.68 167.69,226.50 167.70,225.98 167.72,225.49 167.73,224.94 167.75,224.58 167.76,224.11 167.77,223.29 167.79,222.53 167.80,222.31 167.82,221.71 167.83,221.31 167.84,221.07 167.86,220.30 167.87,219.60 167.88,219.13 167.90,218.62 167.91,217.57 167.92,217.69 167.94,217.04 167.95,216.58 167.97,215.98 167.98,215.12 167.99,214.58 168.01,213.81 168.02,213.70 168.03,212.71 168.05,212.17 168.07,211.72 168.08,211.11 168.10,210.68 168.12,209.88 168.13,209.27 168.15,208.82 168.17,208.21 168.19,207.92 168.21,207.14 168.22,207.32 168.24,206.60 168.26,205.73 168.28,205.31 168.30,204.88 168.32,204.37 168.35,203.66 168.37,203.72 168.39,203.31 168.42,202.37 168.44,201.86 168.47,200.97 168.50,200.41 168.53,200.03 168.56,199.40 168.59,199.28 168.62,198.23 168.65,197.61 168.68,197.84 168.71,197.00 168.74,196.18 168.78,195.94 168.82,194.98 168.86,194.83 168.90,194.63 168.97,193.93 169.03,193.19 169.09,192.23 169.19,191.60 169.30,190.73 169.54,190.35 169.80,189.83 170.09,190.07 170.39,189.97 170.69,190.20 171.00,190.85 171.32,191.10 171.66,191.19 172.01,191.39 172.35,191.65 172.69,191.81 173.00,191.58 173.28,191.92 173.53,191.84 173.76,191.60 174.01,191.65 174.28,191.94 174.60,192.11 174.98,192.71 175.42,193.22 175.89,193.16 176.36,193.96 176.80,194.46 177.20,194.96 177.55,195.05 177.86,195.53 178.16,196.18 178.44,196.89 178.72,197.76 178.86,198.60 179.00,199.32 179.14,199.88 179.29,200.19 179.43,201.02 179.57,201.84 179.66,201.77 179.76,202.73 179.85,203.43 179.94,203.85 180.04,204.35 180.13,204.65 180.22,204.93 180.32,205.94 180.41,206.09 180.51,206.96 180.60,207.59 180.70,207.62 180.85,208.32 181.00,209.46 181.15,209.96 181.30,210.21 181.45,210.85 181.60,211.55 181.75,212.84 181.90,213.44 182.05,213.61 182.20,214.84 182.35,215.67 182.50,216.13 182.60,216.38 182.69,217.04 182.79,217.20 182.88,217.63 182.98,218.91 183.07,219.18 183.16,219.61 183.26,220.46 183.35,220.59 183.44,221.46 183.54,221.94 183.63,221.97 183.77,222.73 183.91,223.50 184.06,224.13 184.20,225.07 184.35,225.42 184.50,226.17 184.65,226.52 184.80,227.74 184.95,227.84 185.10,228.47 185.25,229.06 185.40,229.80 185.70,230.26 186.00,231.33 186.29,231.38 186.57,231.47 186.85,231.39 187.13,230.95 187.41,231.44 187.70,231.75 188.00,232.47 188.15,233.65 188.30,233.69 188.45,234.57 188.61,235.41 188.76,235.99 188.91,236.53 189.01,237.22 189.11,237.78 189.21,238.50 189.31,238.53 189.40,239.47 189.50,239.80 189.57,240.34 189.64,241.26 189.71,241.58 189.77,242.14 189.83,242.80 189.88,243.43 189.93,243.56 189.98,244.20 190.04,244.62 190.09,245.16 190.14,245.84 190.19,246.18 190.24,246.78 190.29,247.27 190.35,248.15 190.40,248.46 190.45,249.11 190.50,249.67 190.55,249.64 190.62,250.41 190.69,251.25 190.75,251.70 190.82,251.67 190.96,252.38 191.10,253.35 191.40,253.75 191.71,254.03 192.02,253.63 192.35,253.57 192.67,252.96 193.00,252.32 193.33,250.86 193.49,250.74 193.65,250.14 193.82,249.08 193.98,249.03 194.15,248.43 194.31,247.17 194.48,247.12 194.65,246.03 194.83,245.55 195.00,245.39 195.35,244.43 195.70,243.28 196.05,242.95 196.41,242.35 196.61,241.73 196.80,241.15 197.00,240.55 197.20,240.18 197.35,238.97 197.49,238.75 197.64,238.02 197.75,237.09 197.87,236.75 197.98,236.39 198.10,235.71 198.20,234.83 198.29,235.04 198.39,234.35 198.48,233.97 198.58,232.75 198.68,232.32 198.78,231.59 198.87,231.63 198.97,230.67 199.07,230.00 199.16,229.69 199.26,229.53 199.35,228.91 199.45,227.91 199.54,227.28 199.63,227.38 199.73,226.59 199.82,226.18 199.91,225.18 200.00,224.65 200.09,224.65 200.17,223.94 200.26,223.15 200.35,223.35 200.43,222.60 200.52,222.21 200.60,221.12 200.69,221.22 200.77,220.06 200.86,220.18 200.94,219.34 201.02,218.73 201.10,218.39 201.19,218.17 201.27,217.13 201.37,216.41 201.47,216.12 201.58,215.29 201.68,214.58 201.78,214.08 201.88,213.46 201.98,213.04 202.09,212.59 202.22,212.01 202.36,211.79 202.50,210.83 202.71,210.38 202.92,209.50 203.35,208.80 203.78,207.99 204.20,207.76 204.61,207.16 205.00,207.19 205.36,206.41 205.70,205.53 206.03,205.17 206.35,204.90 206.67,203.53 207.00,203.26 207.17,202.43 207.33,201.97 207.50,201.64 207.66,200.69 207.82,200.14 207.99,199.65 208.15,199.25 208.32,198.10 208.49,197.89 208.66,197.19 208.83,196.62 209.00,195.92 209.37,195.00 209.77,193.97 210.18,193.32 210.56,192.65 210.91,192.65 211.20,191.80 211.38,191.33 211.45,190.92 211.49,191.27 211.55,191.15 211.70,191.01 212.00,190.93 212.45,191.32 213.00,191.95 213.64,192.84 214.00,193.05 214.36,193.73 214.76,194.11 215.15,195.19 215.58,195.79 216.00,196.04 216.32,196.27 216.63,197.33 216.95,197.28 217.22,197.75 217.48,197.90 217.75,198.63 218.02,199.14 218.30,199.63 218.59,199.85 218.87,200.56 219.16,200.63 219.45,201.30 219.74,201.63 220.03,202.34 220.31,202.52 220.60,202.93 220.88,203.58 221.16,203.95 221.45,204.66 221.80,205.09 222.15,205.73 222.50,206.13 222.98,206.72 223.46,207.40 223.91,207.45 224.36,207.85 224.80,208.74 225.24,208.44 225.68,209.22 226.11,209.47 226.57,209.28 227.03,210.20 227.51,210.53 228.00,210.60 228.47,210.96 228.95,211.30 229.39,211.00 229.83,211.55 230.28,211.75 230.74,212.23 231.26,212.39 231.79,212.59 232.43,212.56 233.07,212.96 233.61,212.88 234.16,212.97 234.70,212.68 235.20,212.57 235.70,212.70 236.20,212.92 236.70,212.76 237.27,213.37 237.84,213.17 238.42,213.25 238.99,213.28 239.49,213.33 240.00,213.18 240.51,212.80 241.01,213.44 241.52,213.41 242.06,213.22 242.60,213.24 243.15,213.34 243.69,212.87 244.23,213.40 244.80,213.01 245.37,212.87 245.94,213.02 246.51,213.39 247.08,212.97 247.66,213.39 248.25,213.58 248.83,213.20 249.42,213.11 250.00,213.18 250.54,213.35 251.09,213.41 251.63,213.29 252.18,213.31 252.72,212.86 253.26,212.91 253.79,212.99 254.32,213.38 254.85,213.02 255.38,213.23 255.91,212.78 256.43,212.82 256.96,212.98 257.51,213.29 258.06,213.30 258.60,213.28 259.15,212.97 259.70,213.14 260.25,213.10 260.79,213.09 261.32,212.81 261.84,213.42 262.36,212.86 262.88,213.47 263.40,213.43 263.93,212.69 264.45,213.04 264.98,213.32 265.51,213.43 266.03,213.01 266.56,212.86 267.09,212.80 267.62,213.38 268.21,212.79 268.81,213.08 269.40,212.72 270.00,213.02 270.73,213.31 271.47,212.59 272.24,212.92 272.52,212.46 272.54,212.67 272.50,212.66 272.60,212.79 272.70,213.89 272.79,214.12 272.83,214.33 272.86,214.89 272.90,215.86 272.91,216.48 272.92,217.02 272.94,217.55 272.94,218.33 272.94,218.92 272.95,219.96 272.95,219.98 272.96,221.26 273.00,221.87 272.99,220.77 272.95,220.74 272.90,219.90 272.87,219.44 272.84,218.34 272.81,217.80 272.81,217.16 272.81,216.99 272.81,216.01 272.86,215.25 272.92,214.72 272.97,214.01 273.19,213.23 273.40,212.68 274.13,212.66 274.62,212.08 275.11,212.45 275.68,211.86 276.26,211.84 276.88,212.05 277.50,211.80 278.14,211.96 278.78,212.44 279.39,212.35 280.00,212.25 280.64,212.02 281.28,212.15 282.00,212.08 282.71,211.67 283.44,211.71 284.16,211.08 284.84,211.53 285.52,211.22 286.10,211.39 286.67,211.22 287.50,210.83" fill="none" stroke="#000000" stroke-width="1.55" stroke-linejoin="round" clip-path="url(#cb1)"/>
<polyline points="287.50,280.78 287.88,281.20 288.39,280.33 289.00,280.54 289.67,279.71 290.35,279.39 291.00,279.40 291.33,278.39 291.66,278.36 292.00,277.76 292.35,277.30 292.71,276.82 293.06,276.07 293.41,276.03 293.76,274.89 294.09,274.45 294.41,273.72 294.71,273.37 295.00,272.93 295.26,272.75 295.52,271.75 295.75,270.92 295.98,270.41 296.19,270.37 296.41,268.99 296.60,268.82 296.80,268.01 296.98,267.67 297.16,266.84 297.33,266.64 297.50,266.00 297.80,265.27 298.06,264.67 298.28,263.72 298.50,262.81 298.73,262.38 299.00,262.96 299.30,262.70 299.61,262.79 299.93,263.91 300.27,264.29 300.63,265.24 300.81,265.83 301.00,265.83 301.20,266.51 301.40,267.55 301.54,267.49 301.69,268.53 301.83,268.54 301.98,269.60 302.13,270.19 302.27,270.97 302.43,271.45 302.58,271.74 302.73,272.05 302.95,272.72 303.17,273.72 303.60,274.61 304.01,274.62 304.41,275.27 304.81,274.66 305.20,274.32 305.60,273.36 306.00,272.80 306.42,272.03 306.86,271.64 307.31,270.84 307.74,270.10 307.94,269.56 308.14,269.43 308.32,268.89 308.50,267.74 308.66,267.22 308.81,266.33 308.91,266.18 309.00,265.89 309.09,264.72 309.18,264.58 309.26,263.62 309.34,262.80 309.42,262.79 309.50,261.85 309.57,261.11 309.65,260.73 309.72,259.98 309.79,259.54 309.86,259.03 309.93,258.47 310.00,258.07 310.10,257.12 310.19,256.25 310.28,255.58 310.36,254.94 310.44,254.65 310.51,253.89 310.59,253.62 310.66,252.74 310.74,252.25 310.82,251.81 310.91,250.36 311.00,249.61 311.06,249.21 311.13,248.91 311.19,248.57 311.26,248.20 311.33,247.38 311.40,247.37 311.47,246.08 311.54,246.23 311.61,245.21 311.68,245.18 311.75,243.96 311.83,244.15 311.90,243.39 311.98,242.97 312.06,242.04 312.14,241.06 312.22,241.04 312.30,239.95 312.36,239.11 312.43,238.97 312.49,238.32 312.56,237.74 312.62,236.87 312.69,236.23 312.76,235.98 312.83,235.26 312.88,234.48 312.94,234.20 312.99,233.91 313.05,233.38 313.11,232.66 313.16,232.07 313.22,231.52 313.28,230.88 313.34,230.33 313.40,229.99 313.46,229.20 313.52,229.18 313.58,228.65 313.63,228.05 313.69,227.06 313.77,226.72 313.85,226.17 313.92,225.29 314.00,225.37 314.08,224.62 314.16,223.84 314.23,223.42 314.31,222.43 314.39,221.88 314.47,221.54 314.55,221.14 314.63,220.49 314.71,219.41 314.79,219.34 314.87,219.01 314.95,218.32 315.03,217.93 315.12,217.43 315.20,216.28 315.29,215.80 315.37,215.49 315.46,215.32 315.55,214.32 315.63,214.27 315.76,213.56 315.88,212.65 316.00,212.10 316.13,211.78 316.26,211.05 316.39,210.07 316.52,209.96 316.66,208.89 316.80,208.48 316.94,208.44 317.08,207.84 317.22,206.90 317.43,206.16 317.65,205.71 317.86,205.22 318.08,204.42 318.29,203.98 318.50,203.18 318.71,202.66 318.91,201.88 319.11,201.13 319.31,200.62 319.52,200.15 319.72,199.67 319.92,199.45 320.13,198.53 320.55,197.55 321.00,197.39 321.40,196.48 321.74,196.20 322.09,195.68 322.54,196.05 323.15,195.46 324.00,195.33 324.61,195.68 325.21,195.38 325.72,195.16 326.23,195.62 326.74,195.21 327.31,195.16 327.87,195.62 328.44,195.47 329.01,195.44 329.58,195.05 330.15,195.50 330.67,195.36 331.20,195.57 331.72,195.23 332.36,195.64 333.00,195.73 333.97,195.67 334.73,196.23 335.36,196.75 335.91,197.39 336.44,197.83 337.00,198.23 337.58,198.33 338.14,199.47 338.67,200.33 339.19,200.56 339.70,201.37 340.20,201.89 340.67,201.75 341.11,201.30 341.54,199.97 341.98,199.60 342.46,199.02 343.00,198.12 343.58,197.10 343.87,196.44 344.16,196.71 344.48,196.21 344.79,195.60 345.13,194.97 345.48,194.93 345.88,194.61 346.28,194.22 347.20,193.78 348.15,193.55 349.08,193.79 349.60,194.06 350.11,194.26 350.74,194.68 351.36,194.63 351.89,195.30 352.42,195.19 352.95,195.23 353.46,195.43 353.98,195.66 354.49,195.82 355.00,196.23 355.51,195.77 356.03,195.97 356.54,196.12 357.06,196.12 357.57,196.67 358.07,196.25 358.57,196.29 359.07,196.78 359.57,197.01 360.08,197.17 360.58,197.04 361.14,196.95 361.69,197.48 362.25,197.46 362.81,197.34 363.37,197.50 363.93,197.89 364.44,198.01 364.95,198.03 365.46,197.47 365.97,197.70 366.49,197.84 367.00,197.73 367.51,198.28 368.04,197.79 368.58,198.52 369.11,198.35 369.64,198.45 370.17,198.36 370.70,198.85 371.24,198.63 371.77,198.95 372.31,199.03 372.85,198.91 373.39,199.20 373.92,198.87 374.46,198.83 375.00,199.28 375.52,199.08 376.04,198.95 376.56,199.31 377.08,199.20 377.60,198.97 378.12,199.59 378.64,199.38 379.16,199.81 379.68,199.51 380.20,199.88 380.72,199.41 381.24,199.41 381.76,199.71 382.29,199.95 382.81,200.05 383.33,199.96 383.85,199.59 384.39,199.85 384.93,199.61 385.46,199.93 386.00,200.43 386.54,200.00 387.08,200.33 387.61,200.32 388.15,199.98 388.69,200.46 389.20,200.01 389.70,200.13 390.21,200.48 390.72,200.16 391.23,200.86 391.74,200.47 392.24,200.67 392.75,200.97 393.26,200.32 393.82,201.05 394.38,200.31 394.93,200.78 395.49,200.84 396.05,201.13 396.61,200.65 397.16,201.14 397.73,200.89 398.30,200.73 398.87,200.47 399.43,200.51 400.00,200.59 400.52,200.35 401.04,200.15 401.56,200.27 401.85,199.29 402.13,198.85 402.09,197.65 402.04,197.01 401.82,196.87 401.60,196.42 401.15,195.48 401.00,195.93 401.03,196.70 401.05,197.42 401.08,198.04 401.10,198.81 401.11,199.11 401.12,199.89 401.13,200.51 401.14,201.01 401.15,201.49 401.16,201.87 401.17,202.11 401.18,203.08 401.18,203.17 401.19,204.16 401.20,204.35 401.20,205.03 401.21,205.45 401.22,206.10 401.22,206.38 401.23,207.10 401.24,207.75 401.24,207.96 401.25,208.66 401.25,209.05 401.26,209.57 401.27,210.01 401.27,210.65 401.28,211.29 401.28,211.37 401.29,211.86 401.30,212.91 401.30,212.83 401.31,213.89 401.32,214.37 401.33,214.45 401.33,215.29 401.34,215.48 401.36,216.53 401.38,216.52 401.40,216.99 401.30,216.14 401.24,216.16 401.18,215.23 401.12,214.80 401.06,214.81 401.00,214.09 400.96,213.57 400.92,212.92 400.88,212.45 400.83,211.43 400.79,211.55 400.75,210.64 400.71,210.54 400.69,209.63 400.68,209.46 400.66,208.17 400.65,208.40 400.64,207.13 400.62,206.90 400.61,206.31 400.66,206.15 400.71,205.36 400.76,204.99 400.81,204.36 400.86,203.40 400.91,202.61 401.13,202.06 401.35,201.96 401.58,201.61 401.80,200.83 402.40,200.29 403.00,200.21 403.59,199.97 404.11,199.63 404.63,199.96 405.15,199.54 405.67,199.38 406.19,199.39 406.68,199.79 407.18,200.02 407.68,199.71 408.18,199.90 408.68,200.20 409.18,199.92 409.67,200.23 410.17,200.40 410.67,200.34 411.16,200.28 411.66,200.77 412.16,200.88 412.67,200.59 413.19,201.20 413.70,201.19 414.22,201.48 414.74,201.52 415.32,201.40 415.91,201.67 416.50,201.45" fill="none" stroke="#ff0000" stroke-width="1.55" stroke-linejoin="round" clip-path="url(#cb2)"/>
<polyline points="287.50,281.97 288.07,281.94 288.89,281.86 289.84,282.54 290.83,281.90 291.75,282.23 292.50,282.32 293.07,281.25 293.54,281.08 293.94,280.47 294.30,279.26 294.64,278.73 295.00,278.16 295.36,277.05 295.53,276.76 295.70,275.80 295.87,275.32 296.03,274.68 296.19,274.46 296.35,274.26 296.51,273.48 296.67,273.12 297.00,271.91 297.33,271.36 297.67,270.01 298.00,269.39 298.33,269.03 298.67,268.57 299.00,268.04 299.33,267.73 299.67,268.04 300.00,268.32 300.33,268.82 300.67,269.74 301.00,269.76 301.33,270.86 301.65,271.50 301.97,271.55 302.30,272.54 302.64,273.34 303.00,273.62 303.39,274.59 303.80,275.64 304.23,275.66 304.64,276.65 305.04,276.76 305.40,277.46 305.71,277.87 305.97,277.32 306.22,277.06 306.46,276.96 306.71,277.15 307.00,276.61 307.32,276.65 307.67,277.03 308.03,277.41 308.40,276.97 308.76,276.76 309.10,276.51 309.43,275.35 309.60,275.26 309.76,274.46 309.93,274.25 310.09,273.97 310.25,272.64 310.40,272.44 310.56,271.87 310.71,270.89 310.85,270.40 311.00,270.40 311.13,269.85 311.27,268.60 311.39,268.52 311.51,268.17 311.62,267.04 311.74,266.79 311.85,265.76 311.97,265.44 312.10,265.08 312.22,264.40 312.36,263.88 312.50,262.67 312.66,262.15 312.82,261.84 312.93,261.09 313.05,260.47 313.16,259.91 313.28,259.83 313.40,258.95 313.52,257.96 313.65,258.03 313.77,257.10 313.89,256.63 314.01,255.90 314.13,255.53 314.25,254.88 314.37,254.15 314.48,254.04 314.60,253.08 314.71,253.10 314.82,251.97 314.93,252.04 315.04,251.54 315.14,250.76 315.25,250.40 315.36,249.51 315.46,249.38 315.57,248.60 315.67,247.93 315.78,247.99 315.88,247.02 315.98,246.48 316.09,246.35 316.19,245.44 316.29,245.16 316.40,244.25 316.50,244.27 316.60,243.30 316.70,242.62 316.81,242.86 316.91,241.71 317.01,241.83 317.11,241.36 317.21,240.56 317.31,239.58 317.41,239.12 317.51,238.75 317.61,238.39 317.71,238.07 317.81,237.86 317.91,236.88 318.01,236.21 318.10,236.05 318.20,235.21 318.30,234.67 318.40,234.54 318.49,234.15 318.59,233.14 318.68,232.94 318.77,232.63 318.86,232.17 318.95,231.36 319.05,231.26 319.14,230.17 319.23,230.11 319.32,229.65 319.41,229.23 319.51,228.43 319.61,227.62 319.70,227.08 319.85,226.74 320.00,225.74 320.16,225.40 320.31,224.26 320.47,224.13 320.63,223.00 320.79,222.16 320.95,221.62 321.12,221.18 321.29,220.60 321.46,219.82 321.63,219.00 321.82,218.62 322.00,218.36 322.19,217.39 322.39,217.09 322.59,215.72 322.79,215.85 323.00,215.14 323.21,214.24 323.43,213.63 323.64,213.05 323.86,212.81 324.07,211.59 324.29,211.58 324.50,211.03 324.87,210.04 325.16,209.68 325.46,209.09 325.84,208.10 326.36,208.18 327.10,207.66 327.63,207.57 328.15,207.56 328.81,207.00 329.47,207.35 330.21,207.11 330.94,207.47 331.69,206.97 332.44,207.45 333.13,207.46 333.83,207.46 334.42,207.83 335.00,207.33 335.47,208.11 335.94,208.46 336.35,209.02 336.76,209.31 337.12,209.62 337.48,210.30 337.80,211.18 338.12,211.39 338.42,211.73 338.72,212.38 339.30,212.88 339.84,212.83 340.31,211.97 340.73,211.87 341.14,210.66 341.34,210.56 341.55,209.48 342.00,209.36 342.23,208.63 342.46,208.49 342.69,208.00 342.91,207.38 343.14,206.27 343.37,205.94 343.61,205.31 343.86,205.22 344.12,204.23 344.39,203.74 344.70,203.17 345.00,202.70 345.32,202.88 345.63,202.44 345.95,201.48 346.27,201.29 346.61,200.61 346.95,200.19 347.34,199.64 347.73,199.43 348.20,198.76 348.67,198.42 349.23,198.37 349.80,197.86 350.47,197.91 351.13,198.18 351.88,197.40 352.62,197.43 353.17,198.01 353.72,197.43 354.26,197.61 354.86,198.13 355.45,197.98 356.04,197.72 356.68,197.64 357.32,197.87 357.96,197.94 358.47,198.36 358.98,198.53 359.49,198.40 360.00,198.52 360.53,198.56 361.05,198.53 361.58,198.59 362.11,198.64 362.65,197.96 363.19,198.16 363.73,198.13 364.27,198.43 364.85,198.37 365.42,198.27 366.00,198.69 366.57,198.36 367.08,198.23 367.58,198.31 368.08,198.48 368.58,198.62 369.08,198.61 369.64,198.53 370.20,198.35 370.75,198.55 371.31,198.51 371.87,198.41 372.39,198.73 372.91,198.46 373.43,198.90 373.96,198.88 374.48,198.49 375.00,198.90 375.53,198.69 376.05,198.80 376.58,198.94 377.11,199.09 377.63,199.20 378.16,199.10 378.69,198.70 379.21,198.99 379.74,198.84 380.27,198.60 380.80,199.05 381.32,199.00 381.85,199.33 382.38,198.92 382.91,199.34 383.41,199.10 383.91,198.79 384.41,199.30 384.91,198.97 385.41,199.18 385.91,198.83 386.41,198.80 386.91,199.55 387.41,198.86 387.91,198.96 388.41,198.99 388.91,198.96 389.41,199.56 389.92,199.71 390.42,199.46 390.92,199.27 391.42,199.68 391.93,199.40 392.46,199.12 393.00,199.59 393.53,199.35 394.07,199.30 394.60,199.37 395.14,199.44 395.67,199.30 396.21,199.67 396.75,199.91 397.29,199.70 397.83,199.28 398.38,199.85 398.92,199.35 399.46,199.75 400.00,200.09 400.57,199.99 401.14,200.22 401.72,200.14 402.29,199.80 402.86,199.74 403.43,200.04 403.98,200.27 404.54,199.97 405.09,200.11 405.64,200.49 406.19,200.23 406.74,200.49 407.25,200.50 407.76,200.87 408.28,200.21 408.79,200.39 409.30,200.93 409.81,200.90 410.36,200.51 410.90,200.61 411.45,200.74 411.99,201.07 412.54,201.43 413.10,200.95 413.67,201.01 414.24,201.47 414.80,201.33 415.37,201.74 415.93,201.93 416.50,201.95" fill="none" stroke="#00f000" stroke-width="1.55" stroke-linejoin="round" clip-path="url(#cb2)"/>
<polyline points="287.50,279.56 287.88,279.44 288.41,279.58 289.03,279.30 289.70,279.73 290.38,279.58 291.00,279.12 291.59,278.21 292.20,277.81 292.51,277.26 292.81,276.80 293.11,276.94 293.41,276.55 293.69,275.36 293.97,275.58 294.50,274.58 294.97,273.66 295.39,272.83 295.78,272.39 296.17,271.47 296.57,270.90 297.00,270.13 297.47,268.96 297.96,268.73 298.47,268.17 298.98,267.41 299.49,266.37 300.00,265.14 300.50,264.27 300.74,263.92 300.99,264.12 301.24,263.15 301.48,262.74 301.73,262.73 301.98,261.82 302.48,261.21 303.00,260.45 303.54,259.55 304.11,259.40 304.69,259.11 305.26,258.21 305.80,258.10 306.30,258.33 306.76,258.55 306.98,259.39 307.20,260.11 307.41,260.55 307.61,261.02 307.81,261.82 308.00,261.80 308.36,262.95 308.70,263.10 309.01,263.08 309.29,262.19 309.55,261.93 309.67,260.87 309.79,260.41 309.89,260.30 310.00,259.79 310.10,258.66 310.20,257.93 310.26,257.25 310.31,256.73 310.37,256.46 310.42,255.49 310.46,254.82 310.51,254.47 310.54,253.72 310.57,253.58 310.60,253.20 310.63,252.65 310.66,251.84 310.69,251.16 310.72,250.66 310.74,249.74 310.77,249.69 310.80,248.77 310.83,248.14 310.86,247.33 310.89,247.09 310.92,246.66 310.95,245.98 310.97,245.83 311.00,245.14 311.03,244.21 311.06,243.85 311.09,243.57 311.12,242.67 311.15,242.15 311.17,241.19 311.20,240.99 311.22,240.43 311.25,239.85 311.27,239.32 311.30,238.92 311.33,238.31 311.35,237.71 311.38,236.88 311.40,236.53 311.43,236.38 311.46,235.37 311.48,234.56 311.50,234.04 311.53,233.96 311.55,233.07 311.57,232.60 311.60,232.11 311.62,231.89 311.65,231.82 311.67,230.91 311.70,230.39 311.72,229.87 311.75,229.42 311.78,228.87 311.80,228.60 311.84,228.16 311.87,227.43 311.90,226.65 311.93,226.26 311.97,225.90 312.00,224.72 312.04,224.22 312.07,223.95 312.11,223.44 312.14,222.83 312.18,222.22 312.21,221.84 312.24,221.05 312.28,220.81 312.31,220.43 312.34,219.50 312.37,219.33 312.40,218.72 312.43,218.35 312.47,217.17 312.50,217.36 312.53,216.73 312.57,216.39 312.60,215.90 312.64,214.83 312.67,214.64 312.71,213.64 312.75,213.43 312.80,213.12 312.84,211.97 312.88,211.52 312.92,210.74 312.97,210.30 313.01,209.77 313.06,209.15 313.11,209.34 313.15,208.71 313.20,207.84 313.26,207.49 313.32,206.88 313.38,206.17 313.44,205.51 313.50,205.13 313.56,204.52 313.63,203.77 313.69,203.33 313.75,203.02 313.82,202.50 313.90,201.56 313.98,201.27 314.06,200.88 314.14,200.27 314.22,199.54 314.31,198.52 314.40,198.25 314.48,197.43 314.61,196.76 314.74,196.28 314.86,195.80 315.01,195.50 315.15,194.86 315.30,194.05 315.55,193.77 315.80,193.01 316.32,192.29 316.84,191.87 317.42,192.12 318.10,192.30 318.94,192.88 319.47,192.73 320.00,192.76 320.70,192.77 321.40,192.76 321.98,192.92 322.55,192.93 323.13,192.99 323.75,192.66 324.38,192.97 325.01,193.10 325.64,193.11 326.27,192.88 326.90,192.35 327.47,192.96 328.04,192.94 328.61,192.27 329.31,192.49 330.00,192.46 330.51,192.76 331.02,192.63 331.79,192.30 332.40,192.15 332.92,192.04 333.43,191.85 334.00,192.23 334.64,192.08 335.27,191.15 335.90,191.18 336.50,190.98 337.07,190.09 337.60,190.26 338.05,190.21 338.43,190.85 338.78,191.06 339.13,190.70 339.52,191.11 340.00,191.78 340.58,191.54 341.24,191.37 341.95,191.41 342.67,191.21 343.36,191.28 344.00,190.86 344.57,190.87 345.10,191.72 345.61,191.63 346.12,192.54 346.64,193.35 347.20,193.62 347.78,194.51 348.08,194.57 348.38,194.97 348.68,195.78 348.99,196.44 349.30,197.01 349.62,196.71 349.96,197.90 350.29,198.05 350.65,198.40 351.00,198.92 351.39,199.56 351.78,199.87 352.20,200.23 352.61,201.33 353.05,201.74 353.49,202.20 353.93,202.81 354.36,203.55 354.79,203.39 355.21,204.40 355.61,204.83 356.00,204.87 356.36,205.42 356.72,205.70 357.38,206.14 358.02,206.90 358.65,207.21 359.30,208.34 360.00,208.25 360.71,209.12 361.42,209.57 362.14,210.37 362.91,210.68 363.76,210.73 364.23,210.92 364.70,210.84 365.53,211.14 366.17,211.60 366.89,212.33 367.42,211.70 367.94,211.89 368.48,212.30 369.02,212.13 369.56,212.04 370.17,212.67 370.78,211.98 371.39,212.45 372.00,212.34 372.54,212.29 373.08,212.18 373.62,212.16 374.16,212.36 374.70,212.65 375.24,212.43 375.78,212.69 376.29,212.77 376.79,212.21 377.29,212.78 377.79,212.54 378.30,212.42 378.80,212.49 379.30,212.80 379.80,212.40 380.31,212.16 380.81,212.86 381.32,212.18 381.83,212.17 382.33,212.66 382.84,212.33 383.35,212.31 383.86,212.60 384.37,212.79 384.88,212.36 385.39,212.80 385.90,212.57 386.41,212.56 386.91,212.50 387.41,212.08 387.91,212.19 388.41,212.61 388.91,212.62 389.41,212.14 389.91,212.57 390.41,212.43 390.91,212.51 391.41,212.37 391.91,212.22 392.44,212.33 392.97,212.81 393.50,212.19 394.03,212.72 394.56,212.45 395.08,212.08 395.61,212.67 396.14,212.03 396.67,212.68 397.22,212.28 397.78,212.74 398.33,212.59 398.89,212.29 399.44,212.50 400.00,212.79 400.57,212.10 401.14,212.09 401.71,212.12 402.29,212.32 402.12,211.62 401.56,211.52 401.00,211.96 400.80,212.47 400.85,212.94 400.90,213.65 400.93,213.86 400.96,214.45 400.99,215.09 401.01,215.64 401.03,216.74 401.05,217.43 401.07,217.27 401.09,218.14 401.12,218.51 401.14,219.50 401.18,220.42 401.22,221.12 401.30,221.92 401.22,221.07 401.08,219.94 400.94,219.47 400.85,218.88 400.76,218.13 400.66,217.23 400.64,217.18 400.62,216.54 400.60,216.19 400.58,215.39 400.69,214.53 400.79,214.07 400.89,213.38 401.20,213.19 401.50,212.54 401.80,212.06 402.40,212.23 403.00,211.73 403.60,211.50 404.12,211.47 404.64,211.90 405.15,211.93 405.67,211.89 406.19,211.66 406.79,211.71 407.39,211.81 407.99,211.56 408.58,211.63 409.18,211.80 409.78,211.76 410.37,211.77 410.97,211.83 411.57,211.78 412.16,211.55 412.68,211.66 413.19,212.00 413.71,211.81 414.22,212.20 414.74,211.84 415.32,212.10 415.91,211.67 416.50,211.84" fill="none" stroke="#000000" stroke-width="1.55" stroke-linejoin="round" clip-path="url(#cb2)"/>
<polyline points="416.50,279.16 416.77,279.25 417.15,279.54 417.59,279.17 418.07,279.21 418.55,279.27 419.00,278.95 419.41,279.26 419.82,279.46 420.23,279.70 420.64,279.19 421.07,279.29 421.50,278.87 421.97,279.06 422.47,278.48 422.98,277.36 423.47,277.37 423.70,276.91 423.92,276.21 424.11,275.63 424.30,274.73 424.44,273.95 424.59,273.69 424.66,272.79 424.73,272.37 424.81,271.89 424.87,271.14 424.92,270.91 424.98,270.31 425.03,270.03 425.09,269.17 425.14,268.66 425.19,267.94 425.25,267.47 425.30,266.70 425.37,265.98 425.43,265.98 425.50,265.40 425.58,264.67 425.66,263.95 425.73,263.04 425.79,262.47 425.86,262.02 425.92,261.34 425.98,261.40 426.04,260.61 426.10,260.46 426.17,259.60 426.23,259.55 426.32,258.86 426.40,257.58 426.49,257.14 426.62,256.97 426.75,255.89 427.00,255.38 427.24,254.58 427.48,254.44 427.72,255.35 427.96,256.22 428.22,256.76 428.36,257.14 428.50,257.87 428.65,259.03 428.79,259.51 428.89,259.55 428.99,260.21 429.09,260.64 429.20,261.23 429.30,262.43 429.41,262.55 429.52,263.49 429.63,264.03 429.74,264.46 429.86,265.48 429.98,265.60 430.10,266.60 430.24,266.68 430.37,267.43 430.50,267.77 430.73,268.48 430.95,269.71 431.21,270.23 431.46,270.47 431.73,271.53 432.00,271.58 432.27,272.23 432.54,273.10 433.05,273.68 433.50,273.68 433.89,274.44 434.25,273.53 434.58,273.03 434.89,272.74 435.20,271.61 435.50,270.84 435.80,269.98 436.10,269.32 436.39,268.97 436.67,267.81 436.80,267.54 436.94,266.81 437.07,266.17 437.20,265.87 437.29,264.89 437.37,264.36 437.46,263.99 437.52,262.90 437.58,262.34 437.64,262.40 437.70,261.79 437.76,260.74 437.82,260.10 437.88,259.94 437.94,259.51 438.00,258.30 438.06,258.28 438.12,257.61 438.17,256.77 438.23,256.02 438.28,255.15 438.34,254.49 438.39,254.63 438.44,253.48 438.50,253.29 438.55,252.37 438.60,252.26 438.65,251.57 438.69,250.83 438.74,250.23 438.79,250.16 438.85,249.01 438.91,248.52 438.96,248.16 439.02,247.78 439.07,246.98 439.13,246.11 439.18,245.98 439.23,244.78 439.28,244.00 439.32,243.69 439.36,243.32 439.40,242.49 439.44,242.07 439.48,241.64 439.52,241.22 439.56,240.29 439.60,239.89 439.63,239.78 439.67,239.31 439.70,238.52 439.73,238.01 439.76,237.39 439.80,236.45 439.83,235.77 439.86,235.17 439.89,235.29 439.92,234.53 439.95,234.22 439.98,232.95 440.00,232.92 440.03,232.28 440.05,231.95 440.08,231.11 440.11,231.12 440.14,229.85 440.16,229.70 440.19,229.32 440.22,228.92 440.24,228.26 440.27,227.72 440.30,227.27 440.33,226.85 440.36,225.88 440.39,225.62 440.42,225.27 440.45,224.66 440.49,223.71 440.53,223.41 440.56,222.88 440.60,222.06 440.64,221.52 440.68,220.75 440.72,220.33 440.75,219.78 440.79,218.78 440.83,218.64 440.87,218.34 440.91,217.66 440.95,216.95 440.99,216.10 441.03,215.80 441.07,215.10 441.11,214.41 441.15,214.16 441.19,212.98 441.24,212.97 441.28,211.85 441.32,211.76 441.37,211.12 441.41,210.38 441.47,210.13 441.53,209.36 441.59,208.83 441.65,208.46 441.71,207.40 441.77,206.67 441.84,206.37 441.90,206.14 441.99,205.19 442.09,204.60 442.18,204.61 442.33,203.74 442.49,202.88 442.65,202.68 442.81,201.67 442.97,201.46 443.14,200.61 443.47,199.89 443.64,199.72 443.80,199.33 443.97,198.81 444.13,197.91 444.30,197.59 444.47,196.90 444.82,195.85 445.16,195.31 445.49,194.86 445.80,194.28 446.02,193.72 446.14,193.60 446.25,192.85 446.44,192.63 446.79,192.79 447.40,192.62 448.29,192.60 448.85,192.82 449.40,193.05 450.04,193.03 450.67,192.97 451.37,193.50 452.07,193.72 452.80,193.41 453.52,193.23 454.26,193.31 455.00,194.10 455.54,193.51 456.08,194.13 456.63,194.10 457.24,193.98 457.85,194.46 458.47,193.93 459.10,194.12 459.74,194.47 460.37,194.23 460.98,194.97 461.59,194.60 462.20,194.62 462.73,194.65 463.26,195.21 463.79,195.17 464.40,195.46 465.00,195.62 465.75,196.09 466.15,196.63 466.32,196.83 466.37,196.79 466.42,197.20 466.60,196.94 466.85,196.45 467.09,196.17 467.32,195.56 467.58,194.33 467.90,193.76 468.30,193.48 468.77,193.75 469.29,193.81 469.87,194.24 470.51,194.80 471.22,194.98 472.00,195.73 472.87,196.22 473.35,195.76 473.83,196.64 474.34,196.68 474.85,196.42 475.39,196.91 475.93,197.29 476.49,197.77 477.05,197.61 477.63,198.06 478.20,198.60 478.80,198.89 479.40,199.36 479.82,199.25 480.24,199.67 480.66,199.59 481.09,200.29 481.53,200.66 481.96,200.81 482.40,201.16 482.84,201.05 483.29,201.89 483.73,202.22 484.17,202.50 484.61,202.42 485.25,202.98 485.90,202.96 486.51,203.73 487.13,203.99 487.71,203.85 488.30,203.91 488.88,204.44 489.46,204.77 490.07,205.17 490.68,205.17 491.35,205.01 492.01,205.84 492.51,205.38 493.00,206.11 493.50,205.74 494.01,206.00 494.52,206.49 495.03,206.11 495.54,206.24 496.04,206.66 496.54,206.96 497.08,207.17 497.62,207.16 498.16,207.49 498.78,207.23 499.40,207.70 500.02,207.11 500.58,207.29 501.14,207.60 501.70,207.47 502.26,207.89 502.81,207.85 503.35,207.80 503.90,208.10 504.45,207.91 505.00,207.75 505.50,207.82 506.00,208.21 506.50,208.28 507.00,207.74 507.50,208.27 508.00,208.39 508.50,208.05 509.02,208.10 509.55,207.81 510.07,208.09 510.60,208.07 511.12,208.17 511.64,207.71 512.17,208.48 512.69,208.12 513.20,208.03 513.71,208.36 514.22,208.17 514.72,208.12 515.23,208.28 515.74,207.78 516.25,208.16 516.75,208.07 517.26,208.50 517.78,208.47 518.29,207.95 518.80,208.11 519.32,207.83 519.83,208.07 520.34,208.37 520.86,208.44 521.37,208.10 521.89,207.96 522.43,207.85 522.97,208.19 523.52,208.42 524.06,207.78 524.61,208.29 525.15,207.67 525.69,207.80 526.24,207.81 526.78,208.16 527.31,207.85 527.85,207.86 528.39,208.05 528.93,207.62 529.46,208.10 530.00,207.60 530.55,207.87 531.10,207.62 531.64,207.54 532.19,207.77 532.74,207.66 533.29,207.57 533.80,207.55 534.32,207.58 534.84,207.23 535.35,207.21 535.87,207.50 536.39,207.45 536.95,207.28 537.52,207.46 538.08,207.19 538.65,207.31 539.21,206.74 539.71,207.07 540.20,207.04 540.70,207.04 541.20,206.49 541.69,206.41 542.21,206.82 542.72,206.17 543.23,206.71 543.75,206.54 544.27,205.86 544.78,205.87 545.30,206.18" fill="none" stroke="#ff0000" stroke-width="1.55" stroke-linejoin="round" clip-path="url(#cb3)"/>
<polyline points="416.50,279.48 416.90,279.48 417.46,279.30 418.12,278.65 418.81,278.28 419.46,278.25 420.00,277.82 420.42,277.82 420.77,277.20 421.07,276.57 421.37,275.98 421.67,275.55 422.00,274.72 422.38,274.76 422.79,274.56 423.20,275.22 423.60,274.49 423.98,274.75 424.30,273.36 424.43,273.17 424.56,272.21 424.63,271.66 424.70,271.41 424.77,270.15 424.82,269.66 424.86,269.82 424.91,268.97 424.95,268.11 424.99,268.27 425.03,267.68 425.08,266.46 425.12,266.15 425.16,265.37 425.21,264.96 425.25,264.66 425.30,263.74 425.35,263.67 425.40,262.65 425.45,262.24 425.50,262.25 425.56,261.42 425.62,260.93 425.67,260.57 425.73,259.97 425.79,259.36 425.86,258.53 425.92,258.55 425.98,258.20 426.04,257.67 426.10,256.89 426.17,256.11 426.23,255.58 426.32,255.20 426.40,254.54 426.49,253.45 426.57,253.04 426.66,252.64 426.75,252.25 427.00,251.55 427.24,251.01 427.48,250.86 427.72,252.11 427.96,252.71 428.09,253.32 428.22,253.63 428.36,254.37 428.50,254.91 428.65,255.89 428.79,256.02 428.89,256.92 428.99,257.17 429.09,258.13 429.20,258.21 429.30,259.01 429.41,259.67 429.52,260.52 429.63,260.68 429.74,261.62 429.86,262.02 429.98,262.67 430.10,263.42 430.24,264.32 430.37,264.46 430.50,265.36 430.65,265.22 430.80,266.30 430.95,266.34 431.12,266.68 431.29,267.61 431.46,268.22 431.73,268.17 432.00,269.06 432.27,270.06 432.54,270.32 432.79,270.71 433.05,271.00 433.50,271.63 433.89,272.33 434.25,272.54 434.58,272.21 434.89,271.30 435.20,270.29 435.50,269.86 435.80,269.53 436.10,268.78 436.39,267.74 436.53,266.89 436.67,266.61 436.80,265.97 436.94,265.50 437.07,264.51 437.20,264.36 437.28,263.76 437.36,262.63 437.45,262.18 437.52,262.01 437.60,260.90 437.67,260.80 437.73,259.94 437.78,259.57 437.84,259.06 437.89,258.15 437.95,257.66 438.00,257.10 438.06,256.91 438.11,256.38 438.17,255.39 438.23,255.45 438.29,254.54 438.35,253.86 438.41,253.50 438.47,253.42 438.54,252.57 438.60,252.10 438.67,251.84 438.74,251.37 438.81,250.71 438.87,249.93 438.94,249.57 439.02,249.32 439.09,248.73 439.16,248.06 439.23,247.38 439.31,246.89 439.38,246.69 439.46,246.05 439.53,245.11 439.61,245.17 439.69,244.82 439.76,244.24 439.84,243.82 439.92,243.33 440.00,242.53 440.08,242.23 440.16,241.40 440.24,240.68 440.32,240.38 440.40,239.85 440.48,239.85 440.56,239.16 440.65,238.54 440.73,238.11 440.81,237.22 440.90,237.05 440.98,236.69 441.06,235.95 441.15,235.34 441.23,234.98 441.32,234.42 441.41,234.21 441.49,233.28 441.58,232.74 441.67,232.42 441.76,232.23 441.85,231.78 441.94,231.19 442.03,230.91 442.12,229.95 442.22,229.17 442.31,229.02 442.41,228.47 442.50,227.74 442.60,227.60 442.70,226.80 442.80,226.17 442.89,225.71 443.00,225.64 443.10,224.32 443.20,224.04 443.30,223.42 443.41,222.78 443.51,222.40 443.62,221.66 443.73,221.65 443.83,220.75 443.94,220.35 444.05,219.36 444.15,219.05 444.26,218.63 444.37,218.28 444.47,217.28 444.58,216.91 444.72,216.58 444.86,215.91 445.00,214.78 445.14,214.44 445.27,214.03 445.41,213.14 445.54,212.81 445.67,212.25 445.80,211.94 445.93,211.09 446.06,210.68 446.19,209.90 446.40,209.48 446.60,208.44 446.82,207.91 447.03,207.13 447.27,206.47 447.50,205.71 447.75,205.21 448.01,204.89 448.27,204.13 448.54,203.44 448.82,203.58 449.10,202.69 449.39,202.79 449.68,202.10 450.28,201.21 450.90,201.00 451.47,200.57 452.00,199.83 452.54,199.50 453.17,199.81 453.97,199.89 454.48,199.64 455.00,199.73 455.71,199.36 456.42,199.45 457.01,199.12 457.61,199.18 458.20,199.11 458.85,199.08 459.50,199.05 460.14,199.33 460.78,198.79 461.42,198.79 462.06,198.80 462.62,199.37 463.18,199.00 463.74,198.61 464.37,199.25 465.00,199.30 465.78,199.40 466.23,199.26 466.45,199.85 466.55,199.80 466.63,199.93 466.80,200.69 467.01,200.80 467.18,200.43 467.33,201.06 467.49,200.40 467.70,200.55 468.00,200.11 468.39,199.84 468.85,199.28 469.36,199.05 469.90,198.03 470.46,197.29 471.00,196.75 471.40,196.41 471.65,196.43 471.91,195.86 472.35,195.14 473.12,195.34 473.76,195.13 474.40,194.96 474.94,194.99 475.49,195.05 476.03,195.14 476.64,194.90 477.24,194.99 477.85,194.86 478.39,195.00 478.93,194.81 479.47,194.85 480.01,194.94 480.54,195.11 481.07,194.78 481.60,195.31 482.13,194.98 482.66,195.28 483.21,195.16 483.75,195.38 484.30,195.18 484.85,194.98 485.39,194.98 485.94,195.15 486.45,195.27 486.95,195.34 487.46,194.78 487.97,194.73 488.48,194.77 488.98,194.76 489.49,194.74 490.00,194.71 490.50,194.88 491.00,194.75 491.51,195.19 492.01,195.11 492.51,195.37 493.01,195.35 493.51,195.16 494.01,195.30 494.52,194.54 495.02,194.68 495.52,195.22 496.02,194.83 496.52,194.58 497.02,194.98 497.52,194.68 498.02,194.74 498.52,194.52 499.02,194.43 499.52,194.27 500.02,194.65 500.52,194.89 501.02,194.88 501.52,194.67 502.02,194.77 502.52,194.28 503.03,194.19 503.54,194.66 504.04,194.37 504.55,194.39 505.06,193.83 505.57,193.97 506.08,194.14 506.59,194.31 507.10,194.35 507.61,194.26 508.11,193.90 508.62,193.90 509.13,194.25 509.64,194.32 510.15,193.88 510.68,193.63 511.21,193.96 511.74,193.87 512.27,193.72 512.80,193.60 513.33,193.70 513.86,193.87 514.39,193.47 514.92,193.78 515.45,194.09 515.98,193.91 516.51,193.50 517.04,193.62 517.57,193.35 518.10,193.88 518.63,193.82 519.16,193.48 519.69,193.81 520.22,193.87 520.75,193.88 521.28,193.75 521.81,193.72 522.34,193.78 522.87,194.32 523.40,193.82 523.94,193.98 524.43,194.07 524.93,193.97 525.42,194.27 525.92,194.24 526.42,194.46 526.91,194.62 527.41,194.73 527.90,195.33 528.40,194.94 528.78,195.39 529.16,196.08 529.53,196.30 529.91,196.82 530.29,197.35 530.67,197.32 530.76,198.36 530.86,198.46 530.96,199.13 531.06,200.14 531.15,200.84 531.25,201.15 531.35,201.30 531.30,202.07 531.25,202.50 531.21,203.51 531.16,203.58 531.11,204.10 531.07,205.01 531.02,205.57 530.97,206.08 530.86,206.52 530.75,207.42 530.64,207.55 530.52,208.45 530.41,208.54 530.30,209.12 530.19,209.55 530.07,210.36 529.92,210.91 529.77,211.01 529.62,211.76 529.47,212.44 529.32,212.77 529.17,213.42 528.99,213.99 528.80,214.67 528.76,213.78 528.73,213.13 528.68,212.39 528.64,212.57 528.60,211.97 528.56,211.13 528.52,211.08 528.48,210.51 528.45,209.39 528.42,209.41 528.39,208.56 528.36,207.95 528.33,207.39 528.30,206.99 528.27,206.18 528.24,205.65 528.23,205.15 528.22,204.75 528.21,204.07 528.20,203.49 528.19,203.50 528.18,202.58 528.17,202.11 528.16,201.65 528.20,201.35 528.24,200.17 528.28,199.67 528.31,199.62 528.35,199.10 528.39,198.56 528.43,197.68 528.58,197.04 528.74,196.39 528.89,196.45 529.05,195.82 529.20,195.14 529.71,194.94 530.23,194.13 530.74,193.95 531.29,194.15 531.85,193.40 532.40,193.70 532.96,193.25 533.47,193.79 533.98,193.82 534.49,193.68 535.00,193.54 535.51,193.23 536.02,193.70 536.53,193.68 537.04,193.80 537.56,193.63 538.07,194.39 538.62,194.21 539.17,194.39 539.72,194.75 540.28,194.94 540.78,194.82 541.29,194.98 541.80,195.38 542.55,195.58 542.78,196.89 542.73,196.69 542.67,197.81 542.39,198.54 542.10,199.32 542.00,199.89 542.01,199.00 541.99,198.45 541.98,197.82 541.99,197.28 542.00,196.59 542.09,195.91 542.30,195.24 542.68,195.13 543.21,194.86 543.82,194.67 544.42,194.70 544.94,194.63 545.30,194.70" fill="none" stroke="#00f000" stroke-width="1.55" stroke-linejoin="round" clip-path="url(#cb3)"/>
<polyline points="416.50,280.81 416.77,280.96 417.15,280.72 417.59,280.55 418.07,279.67 418.55,279.28 419.00,278.72 419.43,278.12 419.87,277.68 420.09,276.75 420.31,276.61 420.74,275.50 421.14,274.86 421.50,274.55 421.81,274.81 422.08,274.86 422.32,274.78 422.55,275.41 422.77,275.63 423.00,276.30 423.23,276.19 423.45,276.10 423.67,275.93 423.88,275.50 424.09,275.03 424.30,273.94 424.40,272.79 424.50,272.54 424.57,271.63 424.63,271.22 424.70,270.45 424.74,269.81 424.79,269.22 424.84,268.74 424.89,268.12 424.94,267.41 424.98,267.41 425.03,266.84 425.08,266.44 425.13,265.66 425.18,265.02 425.23,264.64 425.28,263.61 425.36,263.41 425.43,262.59 425.50,261.74 425.58,261.16 425.66,260.82 425.73,260.01 425.81,259.56 425.90,259.06 425.98,258.27 426.06,257.47 426.15,257.17 426.23,256.37 426.32,255.85 426.40,255.29 426.49,254.90 426.62,254.05 426.75,253.90 427.00,253.36 427.24,252.64 427.48,253.03 427.72,253.66 427.96,253.67 428.22,254.67 428.36,255.72 428.50,256.27 428.65,256.76 428.79,257.02 428.89,257.77 428.99,258.68 429.09,259.23 429.20,259.78 429.30,259.90 429.41,261.03 429.52,261.28 429.63,262.18 429.74,262.34 429.86,263.61 429.98,263.91 430.10,264.60 430.24,264.72 430.37,265.57 430.50,266.06 430.65,266.56 430.80,266.86 430.95,267.64 431.12,267.82 431.29,268.27 431.46,268.66 431.73,269.77 432.00,270.00 432.27,270.70 432.54,271.17 432.79,272.10 433.05,272.49 433.50,273.03 433.89,272.74 434.25,272.79 434.58,272.16 434.89,271.23 435.20,270.36 435.50,270.40 435.80,269.03 436.10,268.53 436.39,267.78 436.67,267.17 436.80,266.19 436.94,265.94 437.07,265.13 437.20,264.77 437.29,263.46 437.37,263.07 437.46,262.55 437.52,262.33 437.58,261.37 437.64,260.74 437.71,260.30 437.76,259.48 437.80,258.74 437.85,258.59 437.90,258.39 437.95,257.72 438.00,256.80 438.04,256.60 438.09,256.19 438.14,255.18 438.18,254.90 438.23,254.20 438.27,253.60 438.31,253.12 438.36,252.54 438.40,252.14 438.45,251.33 438.50,251.05 438.55,250.23 438.60,250.21 438.66,249.47 438.72,248.38 438.78,248.38 438.83,247.41 438.88,247.13 438.93,246.67 439.00,245.79 439.08,245.05 439.14,244.44 439.21,243.47 439.26,243.49 439.30,242.33 439.35,242.34 439.39,241.33 439.43,240.88 439.46,240.43 439.50,239.63 439.53,239.19 439.56,238.87 439.59,238.43 439.63,238.27 439.66,237.85 439.69,236.52 439.72,236.34 439.75,235.44 439.78,235.40 439.81,234.44 439.84,234.38 439.87,233.59 439.89,232.74 439.92,232.12 439.95,231.80 439.98,231.78 440.00,230.67 440.03,230.40 440.06,229.78 440.09,229.23 440.11,229.06 440.14,228.05 440.17,227.92 440.20,227.35 440.23,227.03 440.26,226.16 440.29,225.95 440.31,225.03 440.35,224.63 440.38,224.15 440.41,223.81 440.44,223.35 440.47,222.21 440.50,221.71 440.53,221.51 440.56,221.21 440.60,220.47 440.63,219.76 440.66,219.78 440.69,218.73 440.73,218.01 440.76,217.44 440.80,216.88 440.83,216.89 440.86,215.85 440.90,215.80 440.93,215.37 440.97,214.94 441.00,214.24 441.04,213.39 441.07,213.00 441.11,212.63 441.14,212.02 441.18,211.16 441.22,211.02 441.25,209.99 441.29,209.63 441.33,209.66 441.37,208.69 441.42,207.97 441.46,207.83 441.51,207.01 441.56,206.10 441.62,205.54 441.68,205.15 441.74,204.64 441.80,204.55 441.89,203.43 441.97,203.33 442.06,202.76 442.19,201.79 442.33,201.62 442.61,200.51 442.90,199.54 443.19,198.64 443.50,197.97 443.82,197.38 444.15,196.16 444.49,194.99 444.83,194.29 445.17,193.62 445.50,192.75 445.76,192.53 445.93,191.67 446.10,191.95 446.35,191.17 446.75,190.91 447.40,191.17 448.31,190.91 448.87,191.40 449.42,191.13 450.06,191.22 450.69,191.54 451.39,191.13 452.08,191.64 452.80,191.66 453.53,191.58 454.26,192.09 455.00,191.42 455.53,192.15 456.07,191.64 456.60,192.25 457.20,191.78 457.79,191.78 458.39,192.22 459.01,192.64 459.63,192.18 460.24,192.45 460.84,192.61 461.44,192.39 462.04,192.69 462.59,192.31 463.13,192.71 463.67,193.00 464.34,192.67 465.00,192.58 465.49,192.34 465.99,192.77 466.71,192.17 467.27,192.11 467.73,191.54 468.18,190.73 468.70,191.33 469.24,191.54 469.72,191.81 470.19,192.32 470.70,192.80 471.29,193.49 472.00,194.13 472.42,194.43 472.85,194.53 473.32,194.82 473.80,195.69 474.31,196.01 474.83,196.01 475.37,196.93 475.91,197.37 476.48,197.78 477.05,198.48 477.43,198.91 477.82,198.86 478.20,199.55 478.60,199.70 479.00,200.15 479.40,200.42 479.82,201.28 480.24,201.34 480.66,202.20 481.09,202.18 481.53,202.92 481.96,203.58 482.40,203.86 482.84,204.07 483.29,204.29 483.73,205.03 484.17,205.39 484.61,206.13 485.04,206.45 485.47,206.95 485.90,206.86 486.33,207.09 486.76,207.47 487.19,207.88 487.83,207.65 488.48,208.06 489.13,208.25 489.77,208.63 490.41,208.80 491.05,209.53 491.67,209.09 492.30,209.83 492.90,209.48 493.50,209.56 494.38,210.46 494.89,209.95 495.37,210.12 496.16,210.24 496.88,210.24 497.59,210.53 498.19,210.41 498.80,210.39 499.40,210.29 500.00,210.86 500.56,210.35 501.12,210.50 501.69,210.77 502.25,211.04 502.81,210.86 503.37,210.91 503.93,210.91 504.46,210.99 505.00,211.04 505.53,210.48 506.06,210.40 506.59,210.86 507.12,210.78 507.65,210.78 508.18,210.99 508.71,210.50 509.24,210.93 509.78,210.71 510.32,210.70 510.86,210.56 511.40,210.59 511.94,210.83 512.48,210.80 513.02,211.09 513.56,210.58 514.10,210.93 514.64,210.43 515.18,210.88 515.71,210.48 516.25,211.04 516.78,211.12 517.31,210.55 517.84,210.99 518.38,210.52 518.91,210.59 519.44,210.42 519.98,210.69 520.51,210.42 521.04,210.90 521.55,210.79 522.05,210.66 522.56,210.89 523.06,210.51 523.56,210.59 524.07,210.61 524.57,210.32 525.08,211.02 525.58,210.38 526.09,210.39 526.59,210.95 527.09,210.96 527.59,210.66 528.10,210.64 528.60,210.41 529.10,210.30 529.60,210.72 530.19,210.36 530.77,210.16 531.36,210.63 531.63,209.48 531.90,209.32 531.63,208.76 530.96,208.36 530.28,208.40 530.21,209.40 530.14,209.76 530.07,210.31 530.00,211.05 530.01,211.44 530.01,211.79 530.02,212.42 530.02,212.70 530.03,213.26 530.04,213.97 530.04,214.32 530.05,214.62 530.05,214.84 530.06,215.99 530.06,216.16 530.07,216.76 530.07,217.18 530.07,217.93 530.08,218.33 530.08,219.21 530.08,219.55 530.09,220.05 530.09,220.77 530.10,221.02 530.10,221.63 530.10,222.33 530.11,222.84 530.11,223.38 530.11,224.02 530.12,224.28 530.12,224.80 530.12,225.03 530.13,225.59 530.13,226.27 530.13,226.85 530.13,227.69 530.14,227.53 530.14,228.30 530.14,229.14 530.15,229.44 530.15,230.27 530.15,230.25 530.16,231.27 530.16,231.52 530.16,232.16 530.17,232.28 530.17,233.08 530.17,233.93 530.18,234.40 530.18,234.79 530.18,235.21 530.19,235.43 530.19,236.48 530.19,236.81 530.20,237.56 530.20,238.02 530.21,238.40 530.21,239.32 530.22,239.27 530.22,240.48 530.23,240.33 530.23,241.59 530.24,241.83 530.24,242.27 530.25,243.20 530.26,243.40 530.27,243.93 530.29,244.11 530.30,245.24 530.27,244.58 530.25,243.73 530.22,243.10 530.20,242.81 530.17,242.68 530.14,242.09 530.11,241.22 530.08,240.33 530.05,240.42 530.02,239.38 529.99,239.26 529.96,238.53 529.93,238.36 529.90,237.16 529.88,237.15 529.86,236.57 529.84,235.48 529.82,235.40 529.80,234.65 529.77,234.45 529.75,234.14 529.73,233.38 529.71,232.72 529.69,232.28 529.67,231.47 529.65,231.12 529.63,230.32 529.61,230.28 529.60,229.23 529.59,229.08 529.59,228.28 529.58,228.06 529.57,227.13 529.57,226.59 529.56,226.54 529.56,226.09 529.55,225.71 529.54,225.01 529.54,224.75 529.53,223.54 529.52,223.41 529.52,222.89 529.51,222.00 529.53,221.44 529.56,220.98 529.58,220.68 529.60,220.36 529.63,219.76 529.65,219.12 529.67,218.19 529.70,218.17 529.72,217.47 529.74,216.66 529.76,216.49 529.79,215.65 529.81,215.17 529.91,214.77 530.01,214.50 530.11,213.47 530.21,213.22 530.30,212.54 530.40,212.38 530.50,211.98 530.60,211.03 530.70,210.88 531.06,210.23 531.41,209.60 531.77,209.21 532.12,208.98 532.48,208.76 533.00,208.42 533.51,207.77 534.03,208.22 534.54,207.89 535.06,207.59 535.65,207.46 536.24,207.63 536.84,207.84 537.43,207.51 538.03,207.42 538.52,208.10 539.01,207.84 539.51,207.63 540.00,208.37 540.49,207.83 540.99,208.13 541.50,208.44 542.01,208.59 542.52,208.90 543.04,208.43 543.55,208.86 544.13,209.18 544.72,208.91 545.30,209.17" fill="none" stroke="#000000" stroke-width="1.55" stroke-linejoin="round" clip-path="url(#cb3)"/>
<rect x="29.50" y="47.60" width="129.20" height="103.40" fill="none" stroke="#505050" stroke-width="0.85"/>
<path d="M41.67 151.00v-2.20M41.67 47.60v2.20M57.27 151.00v-1.30M57.27 47.60v1.30M72.87 151.00v-2.20M72.87 47.60v2.20M88.47 151.00v-1.30M88.47 47.60v1.30M104.07 151.00v-2.20M104.07 47.60v2.20M119.67 151.00v-1.30M119.67 47.60v1.30M135.27 151.00v-2.20M135.27 47.60v2.20M150.87 151.00v-1.30M150.87 47.60v1.30M29.50 140.66h1.30M158.70 140.66h-1.30M29.50 130.32h2.20M158.70 130.32h-2.20M29.50 119.98h1.30M158.70 119.98h-1.30M29.50 109.64h2.20M158.70 109.64h-2.20M29.50 99.30h1.30M158.70 99.30h-1.30M29.50 88.96h2.20M158.70 88.96h-2.20M29.50 78.62h1.30M158.70 78.62h-1.30M29.50 68.28h2.20M158.70 68.28h-2.20M29.50 57.94h1.30M158.70 57.94h-1.30" stroke="#505050" stroke-width="0.8" fill="none"/>
<rect x="29.50" y="187.70" width="129.20" height="103.30" fill="none" stroke="#505050" stroke-width="0.85"/>
<path d="M40.27 291.00v-2.20M40.27 187.70v2.20M51.04 291.00v-1.30M51.04 187.70v1.30M61.81 291.00v-2.20M61.81 187.70v2.20M72.58 291.00v-1.30M72.58 187.70v1.30M83.35 291.00v-2.20M83.35 187.70v2.20M94.12 291.00v-1.30M94.12 187.70v1.30M104.89 291.00v-2.20M104.89 187.70v2.20M115.66 291.00v-1.30M115.66 187.70v1.30M126.43 291.00v-2.20M126.43 187.70v2.20M137.20 291.00v-1.30M137.20 187.70v1.30M147.97 291.00v-2.20M147.97 187.70v2.20M29.50 280.67h1.30M158.70 280.67h-1.30M29.50 270.34h2.20M158.70 270.34h-2.20M29.50 260.01h1.30M158.70 260.01h-1.30M29.50 249.68h2.20M158.70 249.68h-2.20M29.50 239.35h1.30M158.70 239.35h-1.30M29.50 229.02h2.20M158.70 229.02h-2.20M29.50 218.69h1.30M158.70 218.69h-1.30M29.50 208.36h2.20M158.70 208.36h-2.20M29.50 198.03h1.30M158.70 198.03h-1.30" stroke="#505050" stroke-width="0.8" fill="none"/>
<rect x="158.70" y="47.60" width="128.80" height="103.40" fill="none" stroke="#505050" stroke-width="0.85"/>
<path d="M170.87 151.00v-2.20M170.87 47.60v2.20M186.47 151.00v-1.30M186.47 47.60v1.30M202.07 151.00v-2.20M202.07 47.60v2.20M217.67 151.00v-1.30M217.67 47.60v1.30M233.27 151.00v-2.20M233.27 47.60v2.20M248.87 151.00v-1.30M248.87 47.60v1.30M264.47 151.00v-2.20M264.47 47.60v2.20M280.07 151.00v-1.30M280.07 47.60v1.30M158.70 140.66h1.30M287.50 140.66h-1.30M158.70 130.32h2.20M287.50 130.32h-2.20M158.70 119.98h1.30M287.50 119.98h-1.30M158.70 109.64h2.20M287.50 109.64h-2.20M158.70 99.30h1.30M287.50 99.30h-1.30M158.70 88.96h2.20M287.50 88.96h-2.20M158.70 78.62h1.30M287.50 78.62h-1.30M158.70 68.28h2.20M287.50 68.28h-2.20M158.70 57.94h1.30M287.50 57.94h-1.30" stroke="#505050" stroke-width="0.8" fill="none"/>
<rect x="158.70" y="187.70" width="128.80" height="103.30" fill="none" stroke="#505050" stroke-width="0.85"/>
<path d="M169.47 291.00v-2.20M169.47 187.70v2.20M180.24 291.00v-1.30M180.24 187.70v1.30M191.01 291.00v-2.20M191.01 187.70v2.20M201.78 291.00v-1.30M201.78 187.70v1.30M212.55 291.00v-2.20M212.55 187.70v2.20M223.32 291.00v-1.30M223.32 187.70v1.30M234.09 291.00v-2.20M234.09 187.70v2.20M244.86 291.00v-1.30M244.86 187.70v1.30M255.63 291.00v-2.20M255.63 187.70v2.20M266.40 291.00v-1.30M266.40 187.70v1.30M277.17 291.00v-2.20M277.17 187.70v2.20M158.70 280.67h1.30M287.50 280.67h-1.30M158.70 270.34h2.20M287.50 270.34h-2.20M158.70 260.01h1.30M287.50 260.01h-1.30M158.70 249.68h2.20M287.50 249.68h-2.20M158.70 239.35h1.30M287.50 239.35h-1.30M158.70 229.02h2.20M287.50 229.02h-2.20M158.70 218.69h1.30M287.50 218.69h-1.30M158.70 208.36h2.20M287.50 208.36h-2.20M158.70 198.03h1.30M287.50 198.03h-1.30" stroke="#505050" stroke-width="0.8" fill="none"/>
<rect x="287.50" y="47.60" width="129.00" height="103.40" fill="none" stroke="#505050" stroke-width="0.85"/>
<path d="M299.67 151.00v-2.20M299.67 47.60v2.20M315.27 151.00v-1.30M315.27 47.60v1.30M330.87 151.00v-2.20M330.87 47.60v2.20M346.47 151.00v-1.30M346.47 47.60v1.30M362.07 151.00v-2.20M362.07 47.60v2.20M377.67 151.00v-1.30M377.67 47.60v1.30M393.27 151.00v-2.20M393.27 47.60v2.20M408.87 151.00v-1.30M408.87 47.60v1.30M287.50 140.66h1.30M416.50 140.66h-1.30M287.50 130.32h2.20M416.50 130.32h-2.20M287.50 119.98h1.30M416.50 119.98h-1.30M287.50 109.64h2.20M416.50 109.64h-2.20M287.50 99.30h1.30M416.50 99.30h-1.30M287.50 88.96h2.20M416.50 88.96h-2.20M287.50 78.62h1.30M416.50 78.62h-1.30M287.50 68.28h2.20M416.50 68.28h-2.20M287.50 57.94h1.30M416.50 57.94h-1.30" stroke="#505050" stroke-width="0.8" fill="none"/>
<rect x="287.50" y="187.70" width="129.00" height="103.30" fill="none" stroke="#505050" stroke-width="0.85"/>
<path d="M298.27 291.00v-2.20M298.27 187.70v2.20M309.04 291.00v-1.30M309.04 187.70v1.30M319.81 291.00v-2.20M319.81 187.70v2.20M330.58 291.00v-1.30M330.58 187.70v1.30M341.35 291.00v-2.20M341.35 187.70v2.20M352.12 291.00v-1.30M352.12 187.70v1.30M362.89 291.00v-2.20M362.89 187.70v2.20M373.66 291.00v-1.30M373.66 187.70v1.30M384.43 291.00v-2.20M384.43 187.70v2.20M395.20 291.00v-1.30M395.20 187.70v1.30M405.97 291.00v-2.20M405.97 187.70v2.20M287.50 280.67h1.30M416.50 280.67h-1.30M287.50 270.34h2.20M416.50 270.34h-2.20M287.50 260.01h1.30M416.50 260.01h-1.30M287.50 249.68h2.20M416.50 249.68h-2.20M287.50 239.35h1.30M416.50 239.35h-1.30M287.50 229.02h2.20M416.50 229.02h-2.20M287.50 218.69h1.30M416.50 218.69h-1.30M287.50 208.36h2.20M416.50 208.36h-2.20M287.50 198.03h1.30M416.50 198.03h-1.30" stroke="#505050" stroke-width="0.8" fill="none"/>
<rect x="416.50" y="47.60" width="128.80" height="103.40" fill="none" stroke="#505050" stroke-width="0.85"/>
<path d="M428.67 151.00v-2.20M428.67 47.60v2.20M444.27 151.00v-1.30M444.27 47.60v1.30M459.87 151.00v-2.20M459.87 47.60v2.20M475.47 151.00v-1.30M475.47 47.60v1.30M491.07 151.00v-2.20M491.07 47.60v2.20M506.67 151.00v-1.30M506.67 47.60v1.30M522.27 151.00v-2.20M522.27 47.60v2.20M537.87 151.00v-1.30M537.87 47.60v1.30M416.50 140.66h1.30M545.30 140.66h-1.30M416.50 130.32h2.20M545.30 130.32h-2.20M416.50 119.98h1.30M545.30 119.98h-1.30M416.50 109.64h2.20M545.30 109.64h-2.20M416.50 99.30h1.30M545.30 99.30h-1.30M416.50 88.96h2.20M545.30 88.96h-2.20M416.50 78.62h1.30M545.30 78.62h-1.30M416.50 68.28h2.20M545.30 68.28h-2.20M416.50 57.94h1.30M545.30 57.94h-1.30" stroke="#505050" stroke-width="0.8" fill="none"/>
<rect x="416.50" y="187.70" width="128.80" height="103.30" fill="none" stroke="#505050" stroke-width="0.85"/>
<path d="M427.27 291.00v-2.20M427.27 187.70v2.20M438.04 291.00v-1.30M438.04 187.70v1.30M448.81 291.00v-2.20M448.81 187.70v2.20M459.58 291.00v-1.30M459.58 187.70v1.30M470.35 291.00v-2.20M470.35 187.70v2.20M481.12 291.00v-1.30M481.12 187.70v1.30M491.89 291.00v-2.20M491.89 187.70v2.20M502.66 291.00v-1.30M502.66 187.70v1.30M513.43 291.00v-2.20M513.43 187.70v2.20M524.20 291.00v-1.30M524.20 187.70v1.30M534.97 291.00v-2.20M534.97 187.70v2.20M416.50 280.67h1.30M545.30 280.67h-1.30M416.50 270.34h2.20M545.30 270.34h-2.20M416.50 260.01h1.30M545.30 260.01h-1.30M416.50 249.68h2.20M545.30 249.68h-2.20M416.50 239.35h1.30M545.30 239.35h-1.30M416.50 229.02h2.20M545.30 229.02h-2.20M416.50 218.69h1.30M545.30 218.69h-1.30M416.50 208.36h2.20M545.30 208.36h-2.20M416.50 198.03h1.30M545.30 198.03h-1.30" stroke="#505050" stroke-width="0.8" fill="none"/>
<text class="ss" x="41.67" y="159.2" font-size="8.20" text-anchor="middle" fill="#505050">400</text>
<text class="ss" x="72.87" y="159.2" font-size="8.20" text-anchor="middle" fill="#505050">600</text>
<text class="ss" x="104.07" y="159.2" font-size="8.20" text-anchor="middle" fill="#505050">800</text>
<text class="ss" x="135.27" y="159.2" font-size="8.20" text-anchor="middle" fill="#505050">1000</text>
<text class="ss" x="40.27" y="299.2" font-size="8.20" text-anchor="middle" fill="#505050">6</text>
<text class="ss" x="61.81" y="299.2" font-size="8.20" text-anchor="middle" fill="#505050">8</text>
<text class="ss" x="83.35" y="299.2" font-size="8.20" text-anchor="middle" fill="#505050">10</text>
<text class="ss" x="104.89" y="299.2" font-size="8.20" text-anchor="middle" fill="#505050">12</text>
<text class="ss" x="126.43" y="299.2" font-size="8.20" text-anchor="middle" fill="#505050">14</text>
<text class="ss" x="147.97" y="299.2" font-size="8.20" text-anchor="middle" fill="#505050">16</text>
<text class="ss" x="170.87" y="159.2" font-size="8.20" text-anchor="middle" fill="#505050">400</text>
<text class="ss" x="202.07" y="159.2" font-size="8.20" text-anchor="middle" fill="#505050">600</text>
<text class="ss" x="233.27" y="159.2" font-size="8.20" text-anchor="middle" fill="#505050">800</text>
<text class="ss" x="264.47" y="159.2" font-size="8.20" text-anchor="middle" fill="#505050">1000</text>
<text class="ss" x="169.47" y="299.2" font-size="8.20" text-anchor="middle" fill="#505050">6</text>
<text class="ss" x="191.01" y="299.2" font-size="8.20" text-anchor="middle" fill="#505050">8</text>
<text class="ss" x="212.55" y="299.2" font-size="8.20" text-anchor="middle" fill="#505050">10</text>
<text class="ss" x="234.09" y="299.2" font-size="8.20" text-anchor="middle" fill="#505050">12</text>
<text class="ss" x="255.63" y="299.2" font-size="8.20" text-anchor="middle" fill="#505050">14</text>
<text class="ss" x="277.17" y="299.2" font-size="8.20" text-anchor="middle" fill="#505050">16</text>
<text class="ss" x="299.67" y="159.2" font-size="8.20" text-anchor="middle" fill="#505050">400</text>
<text class="ss" x="330.87" y="159.2" font-size="8.20" text-anchor="middle" fill="#505050">600</text>
<text class="ss" x="362.07" y="159.2" font-size="8.20" text-anchor="middle" fill="#505050">800</text>
<text class="ss" x="393.27" y="159.2" font-size="8.20" text-anchor="middle" fill="#505050">1000</text>
<text class="ss" x="298.27" y="299.2" font-size="8.20" text-anchor="middle" fill="#505050">6</text>
<text class="ss" x="319.81" y="299.2" font-size="8.20" text-anchor="middle" fill="#505050">8</text>
<text class="ss" x="341.35" y="299.2" font-size="8.20" text-anchor="middle" fill="#505050">10</text>
<text class="ss" x="362.89" y="299.2" font-size="8.20" text-anchor="middle" fill="#505050">12</text>
<text class="ss" x="384.43" y="299.2" font-size="8.20" text-anchor="middle" fill="#505050">14</text>
<text class="ss" x="405.97" y="299.2" font-size="8.20" text-anchor="middle" fill="#505050">16</text>
<text class="ss" x="428.67" y="159.2" font-size="8.20" text-anchor="middle" fill="#505050">400</text>
<text class="ss" x="459.87" y="159.2" font-size="8.20" text-anchor="middle" fill="#505050">600</text>
<text class="ss" x="491.07" y="159.2" font-size="8.20" text-anchor="middle" fill="#505050">800</text>
<text class="ss" x="522.27" y="159.2" font-size="8.20" text-anchor="middle" fill="#505050">1000</text>
<text class="ss" x="427.27" y="299.2" font-size="8.20" text-anchor="middle" fill="#505050">6</text>
<text class="ss" x="448.81" y="299.2" font-size="8.20" text-anchor="middle" fill="#505050">8</text>
<text class="ss" x="470.35" y="299.2" font-size="8.20" text-anchor="middle" fill="#505050">10</text>
<text class="ss" x="491.89" y="299.2" font-size="8.20" text-anchor="middle" fill="#505050">12</text>
<text class="ss" x="513.43" y="299.2" font-size="8.20" text-anchor="middle" fill="#505050">14</text>
<text class="ss" x="534.97" y="299.2" font-size="8.20" text-anchor="middle" fill="#505050">16</text>
<text class="ss" x="27.0" y="153.80" font-size="8.20" text-anchor="end" fill="#505050">0</text>
<text class="ss" x="27.0" y="293.80" font-size="8.20" text-anchor="end" fill="#505050">0</text>
<text class="ss" x="27.0" y="133.12" font-size="8.20" text-anchor="end" fill="#505050">20</text>
<text class="ss" x="27.0" y="273.14" font-size="8.20" text-anchor="end" fill="#505050">20</text>
<text class="ss" x="27.0" y="112.44" font-size="8.20" text-anchor="end" fill="#505050">40</text>
<text class="ss" x="27.0" y="252.48" font-size="8.20" text-anchor="end" fill="#505050">40</text>
<text class="ss" x="27.0" y="91.76" font-size="8.20" text-anchor="end" fill="#505050">60</text>
<text class="ss" x="27.0" y="231.82" font-size="8.20" text-anchor="end" fill="#505050">60</text>
<text class="ss" x="27.0" y="71.08" font-size="8.20" text-anchor="end" fill="#505050">80</text>
<text class="ss" x="27.0" y="211.16" font-size="8.20" text-anchor="end" fill="#505050">80</text>
<text class="ss" x="27.0" y="50.40" font-size="8.20" text-anchor="end" fill="#505050">100</text>
<text class="ss" x="27.0" y="190.50" font-size="8.20" text-anchor="end" fill="#505050">100</text>
<text class="sra" x="93.90" y="168.8" font-size="9.2" text-anchor="middle" textLength="63.6" lengthAdjust="spacingAndGlyphs" fill="#222">Wavelength (nm)</text>
<text class="sra" x="96.90" y="308.6" font-size="9.2" text-anchor="middle" textLength="64.0" lengthAdjust="spacingAndGlyphs" fill="#222">Wavelength (μm)</text>
<text class="sra" x="223.10" y="168.8" font-size="9.2" text-anchor="middle" textLength="63.6" lengthAdjust="spacingAndGlyphs" fill="#222">Wavelength (nm)</text>
<text class="sra" x="223.10" y="308.6" font-size="9.2" text-anchor="middle" textLength="64.0" lengthAdjust="spacingAndGlyphs" fill="#222">Wavelength (μm)</text>
<text class="sra" x="351.90" y="168.8" font-size="9.2" text-anchor="middle" textLength="63.6" lengthAdjust="spacingAndGlyphs" fill="#222">Wavelength (nm)</text>
<text class="sra" x="351.90" y="308.6" font-size="9.2" text-anchor="middle" textLength="64.0" lengthAdjust="spacingAndGlyphs" fill="#222">Wavelength (μm)</text>
<text class="sra" x="480.90" y="168.8" font-size="9.2" text-anchor="middle" textLength="63.6" lengthAdjust="spacingAndGlyphs" fill="#222">Wavelength (nm)</text>
<text class="sra" x="480.50" y="308.6" font-size="9.2" text-anchor="middle" textLength="64.0" lengthAdjust="spacingAndGlyphs" fill="#222">Wavelength (μm)</text>
<text class="sra" transform="translate(13.6,95.9) rotate(-90)" font-size="9.1" text-anchor="middle" textLength="57.6" lengthAdjust="spacingAndGlyphs" fill="#222">Reflectance (%)</text>
<text class="sra" transform="translate(13.6,235.5) rotate(-90)" font-size="9.2" text-anchor="middle" textLength="56" lengthAdjust="spacingAndGlyphs" fill="#222">Emissivity (%)</text>
<rect x="30.70" y="51.00" width="16.40" height="6.90" fill="url(#gOrL)"/>
<text class="srs" x="50.20" y="56.91" font-size="7.45" textLength="45.6" lengthAdjust="spacingAndGlyphs" fill="#111">Solar spectrum</text>
<line x1="30.70" y1="63.70" x2="48.60" y2="63.70" stroke="#000000" stroke-width="1.70"/>
<text class="srs" x="50.20" y="66.16" font-size="7.45" fill="#111" textLength="67.4" lengthAdjust="spacingAndGlyphs"><tspan font-style="italic">D</tspan><tspan font-style="italic" font-size="5.36" dy="2.0">p</tspan><tspan dy="-2.0"> = 122 nm, </tspan><tspan font-style="italic">P</tspan> = 6 %</text>
<line x1="30.70" y1="74.30" x2="48.60" y2="74.30" stroke="#ff0000" stroke-width="1.70"/>
<text class="srs" x="50.20" y="76.76" font-size="7.45" fill="#111" textLength="70.8" lengthAdjust="spacingAndGlyphs"><tspan font-style="italic">D</tspan><tspan font-style="italic" font-size="5.36" dy="2.0">p</tspan><tspan dy="-2.0"> = 174 nm, </tspan><tspan font-style="italic">P</tspan> = 13 %</text>
<line x1="30.70" y1="85.20" x2="48.60" y2="85.20" stroke="#00f000" stroke-width="1.70"/>
<text class="srs" x="50.20" y="87.66" font-size="7.45" fill="#111" textLength="70.8" lengthAdjust="spacingAndGlyphs"><tspan font-style="italic">D</tspan><tspan font-style="italic" font-size="5.36" dy="2.0">p</tspan><tspan dy="-2.0"> = 225 nm, </tspan><tspan font-style="italic">P</tspan> = 21 %</text>
<line x1="30.70" y1="95.70" x2="48.60" y2="95.70" stroke="#0000ff" stroke-width="1.70"/>
<text class="srs" x="50.20" y="98.16" font-size="7.45" fill="#111" textLength="70.8" lengthAdjust="spacingAndGlyphs"><tspan font-style="italic">D</tspan><tspan font-style="italic" font-size="5.36" dy="2.0">p</tspan><tspan dy="-2.0"> = 266 nm, </tspan><tspan font-style="italic">P</tspan> = 30 %</text>
<rect x="195.50" y="106.40" width="16.70" height="7.20" fill="url(#gOrL)"/>
<text class="srs" x="214.50" y="112.47" font-size="7.50" textLength="46.0" lengthAdjust="spacingAndGlyphs" fill="#111">Solar spectrum</text>
<line x1="195.50" y1="120.00" x2="213.50" y2="120.00" stroke="#000000" stroke-width="1.70"/>
<text class="srs" x="214.50" y="122.47" font-size="7.50" fill="#111" textLength="67.6" lengthAdjust="spacingAndGlyphs"><tspan font-style="italic">D</tspan><tspan font-style="italic" font-size="5.40" dy="2.0">p</tspan><tspan dy="-2.0"> = 36 nm, </tspan><tspan font-style="italic">P</tspan> = 11 %</text>
<line x1="195.50" y1="130.90" x2="213.50" y2="130.90" stroke="#ff0000" stroke-width="1.70"/>
<text class="srs" x="214.50" y="133.38" font-size="7.50" fill="#111" textLength="67.6" lengthAdjust="spacingAndGlyphs"><tspan font-style="italic">D</tspan><tspan font-style="italic" font-size="5.40" dy="2.0">p</tspan><tspan dy="-2.0"> = 52 nm, </tspan><tspan font-style="italic">P</tspan> = 23 %</text>
<line x1="195.50" y1="141.80" x2="213.50" y2="141.80" stroke="#00f000" stroke-width="1.70"/>
<text class="srs" x="214.50" y="144.28" font-size="7.50" fill="#111" textLength="67.6" lengthAdjust="spacingAndGlyphs"><tspan font-style="italic">D</tspan><tspan font-style="italic" font-size="5.40" dy="2.0">p</tspan><tspan dy="-2.0"> = 74 nm, </tspan><tspan font-style="italic">P</tspan> = 46 %</text>
<rect x="322.00" y="105.10" width="17.50" height="8.00" fill="url(#gOrL)"/>
<text class="srs" x="340.70" y="111.59" font-size="7.55" textLength="46.3" lengthAdjust="spacingAndGlyphs" fill="#111">Solar spectrum</text>
<line x1="322.00" y1="118.70" x2="341.00" y2="118.70" stroke="#000000" stroke-width="1.70"/>
<text class="srs" x="340.70" y="121.19" font-size="7.55" fill="#111" textLength="68.0" lengthAdjust="spacingAndGlyphs"><tspan font-style="italic">D</tspan><tspan font-style="italic" font-size="5.44" dy="2.0">p</tspan><tspan dy="-2.0"> = 22 nm, </tspan><tspan font-style="italic">P</tspan> = 10 %</text>
<line x1="322.00" y1="129.50" x2="341.00" y2="129.50" stroke="#ff0000" stroke-width="1.70"/>
<text class="srs" x="340.70" y="131.99" font-size="7.55" fill="#111" textLength="68.0" lengthAdjust="spacingAndGlyphs"><tspan font-style="italic">D</tspan><tspan font-style="italic" font-size="5.44" dy="2.0">p</tspan><tspan dy="-2.0"> = 42 nm, </tspan><tspan font-style="italic">P</tspan> = 40 %</text>
<line x1="322.00" y1="140.40" x2="341.00" y2="140.40" stroke="#00f000" stroke-width="1.70"/>
<text class="srs" x="340.70" y="142.89" font-size="7.55" fill="#111" textLength="68.0" lengthAdjust="spacingAndGlyphs"><tspan font-style="italic">D</tspan><tspan font-style="italic" font-size="5.44" dy="2.0">p</tspan><tspan dy="-2.0"> = 46 nm, </tspan><tspan font-style="italic">P</tspan> = 43 %</text>
<rect x="450.50" y="102.70" width="17.30" height="8.60" fill="url(#gOrL)"/>
<text class="srs" x="470.20" y="109.47" font-size="7.50" textLength="45.2" lengthAdjust="spacingAndGlyphs" fill="#111">Solar spectrum</text>
<line x1="450.50" y1="117.30" x2="469.50" y2="117.30" stroke="#000000" stroke-width="1.70"/>
<text class="srs" x="470.20" y="119.77" font-size="7.50" fill="#111" textLength="67.0" lengthAdjust="spacingAndGlyphs"><tspan font-style="italic">D</tspan><tspan font-style="italic" font-size="5.40" dy="2.0">p</tspan><tspan dy="-2.0"> = 16 nm, </tspan><tspan font-style="italic">P</tspan> = 10 %</text>
<line x1="450.50" y1="128.20" x2="469.50" y2="128.20" stroke="#ff0000" stroke-width="1.70"/>
<text class="srs" x="470.20" y="130.67" font-size="7.50" fill="#111" textLength="67.0" lengthAdjust="spacingAndGlyphs"><tspan font-style="italic">D</tspan><tspan font-style="italic" font-size="5.40" dy="2.0">p</tspan><tspan dy="-2.0"> = 26 nm, </tspan><tspan font-style="italic">P</tspan> = 25 %</text>
<line x1="450.50" y1="138.70" x2="469.50" y2="138.70" stroke="#00f000" stroke-width="1.70"/>
<text class="srs" x="470.20" y="141.17" font-size="7.50" fill="#111" textLength="67.0" lengthAdjust="spacingAndGlyphs"><tspan font-style="italic">D</tspan><tspan font-style="italic" font-size="5.40" dy="2.0">p</tspan><tspan dy="-2.0"> = 38 nm, </tspan><tspan font-style="italic">P</tspan> = 52 %</text>
<rect x="65.40" y="237.60" width="89.60" height="48.00" fill="#fff" stroke="#3a3a3a" stroke-width="0.8"/>
<rect x="67.00" y="240.20" width="14.20" height="5.40" fill="url(#gBlL)"/>
<text class="srs" x="83.00" y="245.13" font-size="6.75" textLength="70.8" lengthAdjust="spacingAndGlyphs" fill="#111">Atmospheric transmission</text>
<line x1="66.00" y1="250.90" x2="82.50" y2="250.90" stroke="#000000" stroke-width="1.70"/>
<text class="srs" x="83.00" y="253.13" font-size="6.75" fill="#111" textLength="60.6" lengthAdjust="spacingAndGlyphs"><tspan font-style="italic">D</tspan><tspan font-style="italic" font-size="4.86" dy="2.0">p</tspan><tspan dy="-2.0"> = 122 nm, </tspan><tspan font-style="italic">P</tspan> = 6 %</text>
<line x1="66.00" y1="260.70" x2="82.50" y2="260.70" stroke="#ff0000" stroke-width="1.70"/>
<text class="srs" x="83.00" y="262.93" font-size="6.75" fill="#111" textLength="64.3" lengthAdjust="spacingAndGlyphs"><tspan font-style="italic">D</tspan><tspan font-style="italic" font-size="4.86" dy="2.0">p</tspan><tspan dy="-2.0"> = 174 nm, </tspan><tspan font-style="italic">P</tspan> = 13 %</text>
<line x1="66.00" y1="270.50" x2="82.50" y2="270.50" stroke="#00f000" stroke-width="1.70"/>
<text class="srs" x="83.00" y="272.73" font-size="6.75" fill="#111" textLength="64.3" lengthAdjust="spacingAndGlyphs"><tspan font-style="italic">D</tspan><tspan font-style="italic" font-size="4.86" dy="2.0">p</tspan><tspan dy="-2.0"> = 225 nm, </tspan><tspan font-style="italic">P</tspan> = 21 %</text>
<line x1="66.00" y1="279.90" x2="82.50" y2="279.90" stroke="#0000ff" stroke-width="1.70"/>
<text class="srs" x="83.00" y="282.13" font-size="6.75" fill="#111" textLength="64.3" lengthAdjust="spacingAndGlyphs"><tspan font-style="italic">D</tspan><tspan font-style="italic" font-size="4.86" dy="2.0">p</tspan><tspan dy="-2.0"> = 266 nm, </tspan><tspan font-style="italic">P</tspan> = 30 %</text>
<rect x="200.20" y="247.80" width="85.00" height="41.40" fill="#fff" stroke="#3a3a3a" stroke-width="0.8"/>
<rect x="201.50" y="248.60" width="16.00" height="7.30" fill="url(#gBlL)"/>
<text class="srs" x="219.30" y="254.61" font-size="7.15" textLength="53.1" lengthAdjust="spacingAndGlyphs" fill="#111">Atm. transmission</text>
<line x1="200.60" y1="261.60" x2="218.50" y2="261.60" stroke="#000000" stroke-width="1.70"/>
<text class="srs" x="219.30" y="263.96" font-size="7.15" fill="#111" textLength="64.6" lengthAdjust="spacingAndGlyphs"><tspan font-style="italic">D</tspan><tspan font-style="italic" font-size="5.15" dy="2.0">p</tspan><tspan dy="-2.0"> = 36 nm, </tspan><tspan font-style="italic">P</tspan> = 11 %</text>
<line x1="200.60" y1="271.60" x2="218.50" y2="271.60" stroke="#ff0000" stroke-width="1.70"/>
<text class="srs" x="219.30" y="273.96" font-size="7.15" fill="#111" textLength="64.6" lengthAdjust="spacingAndGlyphs"><tspan font-style="italic">D</tspan><tspan font-style="italic" font-size="5.15" dy="2.0">p</tspan><tspan dy="-2.0"> = 52 nm, </tspan><tspan font-style="italic">P</tspan> = 23 %</text>
<line x1="200.60" y1="282.00" x2="218.50" y2="282.00" stroke="#00f000" stroke-width="1.70"/>
<text class="srs" x="219.30" y="284.36" font-size="7.15" fill="#111" textLength="64.6" lengthAdjust="spacingAndGlyphs"><tspan font-style="italic">D</tspan><tspan font-style="italic" font-size="5.15" dy="2.0">p</tspan><tspan dy="-2.0"> = 74 nm, </tspan><tspan font-style="italic">P</tspan> = 46 %</text>
<rect x="324.00" y="241.60" width="88.40" height="43.30" fill="#fff" stroke="#3a3a3a" stroke-width="0.8"/>
<rect x="325.00" y="243.00" width="16.50" height="8.00" fill="url(#gBlL)"/>
<text class="srs" x="343.10" y="249.49" font-size="7.55" textLength="55.6" lengthAdjust="spacingAndGlyphs" fill="#111">Atm. transmission</text>
<line x1="324.40" y1="256.20" x2="342.50" y2="256.20" stroke="#000000" stroke-width="1.70"/>
<text class="srs" x="343.10" y="258.69" font-size="7.55" fill="#111" textLength="68.2" lengthAdjust="spacingAndGlyphs"><tspan font-style="italic">D</tspan><tspan font-style="italic" font-size="5.44" dy="2.0">p</tspan><tspan dy="-2.0"> = 22 nm, </tspan><tspan font-style="italic">P</tspan> = 10 %</text>
<line x1="324.40" y1="267.10" x2="342.50" y2="267.10" stroke="#ff0000" stroke-width="1.70"/>
<text class="srs" x="343.10" y="269.59" font-size="7.55" fill="#111" textLength="68.2" lengthAdjust="spacingAndGlyphs"><tspan font-style="italic">D</tspan><tspan font-style="italic" font-size="5.44" dy="2.0">p</tspan><tspan dy="-2.0"> = 42 nm, </tspan><tspan font-style="italic">P</tspan> = 40 %</text>
<line x1="324.40" y1="278.00" x2="342.50" y2="278.00" stroke="#00f000" stroke-width="1.70"/>
<text class="srs" x="343.10" y="280.49" font-size="7.55" fill="#111" textLength="68.2" lengthAdjust="spacingAndGlyphs"><tspan font-style="italic">D</tspan><tspan font-style="italic" font-size="5.44" dy="2.0">p</tspan><tspan dy="-2.0"> = 46 nm, </tspan><tspan font-style="italic">P</tspan> = 43 %</text>
<rect x="451.60" y="241.60" width="88.20" height="41.90" fill="#fff" stroke="#3a3a3a" stroke-width="0.8"/>
<rect x="453.00" y="243.00" width="16.50" height="8.00" fill="url(#gBlL)"/>
<text class="srs" x="471.30" y="249.47" font-size="7.50" textLength="55.6" lengthAdjust="spacingAndGlyphs" fill="#111">Atm. transmission</text>
<line x1="452.00" y1="255.60" x2="470.50" y2="255.60" stroke="#000000" stroke-width="1.70"/>
<text class="srs" x="471.30" y="258.07" font-size="7.50" fill="#111" textLength="67.8" lengthAdjust="spacingAndGlyphs"><tspan font-style="italic">D</tspan><tspan font-style="italic" font-size="5.40" dy="2.0">p</tspan><tspan dy="-2.0"> = 16 nm, </tspan><tspan font-style="italic">P</tspan> = 10 %</text>
<line x1="452.00" y1="266.20" x2="470.50" y2="266.20" stroke="#ff0000" stroke-width="1.70"/>
<text class="srs" x="471.30" y="268.68" font-size="7.50" fill="#111" textLength="67.8" lengthAdjust="spacingAndGlyphs"><tspan font-style="italic">D</tspan><tspan font-style="italic" font-size="5.40" dy="2.0">p</tspan><tspan dy="-2.0"> = 26 nm, </tspan><tspan font-style="italic">P</tspan> = 25 %</text>
<line x1="452.00" y1="276.70" x2="470.50" y2="276.70" stroke="#00f000" stroke-width="1.70"/>
<text class="srs" x="471.30" y="279.18" font-size="7.50" fill="#111" textLength="67.8" lengthAdjust="spacingAndGlyphs"><tspan font-style="italic">D</tspan><tspan font-style="italic" font-size="5.40" dy="2.0">p</tspan><tspan dy="-2.0"> = 38 nm, </tspan><tspan font-style="italic">P</tspan> = 52 %</text>
</svg></body></html>
